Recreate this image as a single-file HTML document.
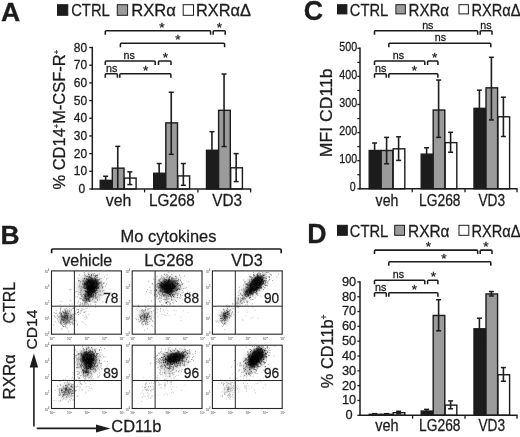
<!DOCTYPE html>
<html lang="en">
<head>
<meta charset="utf-8">
<title>Figure</title>
<style>
html,body{margin:0;padding:0;background:#fff;}
body{width:520px;height:437px;overflow:hidden;}
svg{display:block;font-family:"Liberation Sans",Arial,Helvetica,sans-serif;}
text{stroke:#1c1c1c;stroke-width:.28px;}
text.tk{fill:#858585;stroke:#858585;stroke-width:.32px;}
</style>
</head>
<body>
<svg width="520" height="437" viewBox="0 0 520 437">
<rect x="0" y="0" width="520" height="437" fill="#ffffff"/>
<text x="1" y="21" font-size="26.6" text-anchor="start" font-weight="bold" fill="#1c1c1c">A</text>
<rect x="57.5" y="4.7" width="10.3" height="10.6" fill="#1c1c1c" stroke="#1c1c1c" stroke-width="1"/>
<text x="71.2" y="15.7" font-size="16.2" text-anchor="start" font-weight="normal" fill="#1c1c1c" textLength="38.6" lengthAdjust="spacingAndGlyphs">CTRL</text>
<rect x="117.3" y="4.7" width="10.3" height="10.6" fill="#9b9b9b" stroke="#1c1c1c" stroke-width="1"/>
<text x="131.2" y="15.7" font-size="16.2" text-anchor="start" font-weight="normal" fill="#1c1c1c" textLength="44.6" lengthAdjust="spacingAndGlyphs">RXR&#945;</text>
<rect x="183.2" y="4.7" width="10.3" height="10.6" fill="#fff" stroke="#1c1c1c" stroke-width="1"/>
<text x="196" y="15.7" font-size="16.2" text-anchor="start" font-weight="normal" fill="#1c1c1c" textLength="55" lengthAdjust="spacingAndGlyphs">RXR&#945;&#916;</text>
<rect x="100.2" y="180.36" width="11.7" height="8.64" fill="#1c1c1c" stroke="#1c1c1c" stroke-width="1.4"/>
<rect x="112.3" y="168.15" width="11.7" height="20.85" fill="#9b9b9b" stroke="#1c1c1c" stroke-width="1.4"/>
<rect x="124.4" y="178.06" width="11.7" height="10.94" fill="#ffffff" stroke="#1c1c1c" stroke-width="1.4"/>
<line x1="105.65" y1="180.16" x2="105.65" y2="176.26" stroke="#1c1c1c" stroke-width="1.6"/>
<line x1="103.15" y1="176.26" x2="108.15" y2="176.26" stroke="#1c1c1c" stroke-width="1.5"/>
<line x1="117.75" y1="189" x2="117.75" y2="146.37" stroke="#1c1c1c" stroke-width="1.6"/>
<line x1="115.25" y1="146.37" x2="120.25" y2="146.37" stroke="#1c1c1c" stroke-width="1.5"/>
<line x1="129.85" y1="184.58" x2="129.85" y2="171.84" stroke="#1c1c1c" stroke-width="1.6"/>
<line x1="127.35" y1="171.84" x2="132.35" y2="171.84" stroke="#1c1c1c" stroke-width="1.5"/>
<line x1="127.35" y1="184.58" x2="132.35" y2="184.58" stroke="#1c1c1c" stroke-width="1.5"/>
<rect x="153.7" y="173.28" width="11.7" height="15.72" fill="#1c1c1c" stroke="#1c1c1c" stroke-width="1.4"/>
<rect x="165.8" y="122.87" width="11.7" height="66.13" fill="#9b9b9b" stroke="#1c1c1c" stroke-width="1.4"/>
<rect x="177.9" y="175.93" width="11.7" height="13.07" fill="#ffffff" stroke="#1c1c1c" stroke-width="1.4"/>
<line x1="159.15" y1="173.08" x2="159.15" y2="163.53" stroke="#1c1c1c" stroke-width="1.6"/>
<line x1="156.65" y1="163.53" x2="161.65" y2="163.53" stroke="#1c1c1c" stroke-width="1.5"/>
<line x1="171.25" y1="154.33" x2="171.25" y2="92.25" stroke="#1c1c1c" stroke-width="1.6"/>
<line x1="168.75" y1="92.25" x2="173.75" y2="92.25" stroke="#1c1c1c" stroke-width="1.5"/>
<line x1="168.75" y1="154.33" x2="173.75" y2="154.33" stroke="#1c1c1c" stroke-width="1.5"/>
<line x1="183.35" y1="185.29" x2="183.35" y2="163.53" stroke="#1c1c1c" stroke-width="1.6"/>
<line x1="180.85" y1="163.53" x2="185.85" y2="163.53" stroke="#1c1c1c" stroke-width="1.5"/>
<line x1="180.85" y1="185.29" x2="185.85" y2="185.29" stroke="#1c1c1c" stroke-width="1.5"/>
<rect x="206.5" y="150.29" width="11.7" height="38.71" fill="#1c1c1c" stroke="#1c1c1c" stroke-width="1.4"/>
<rect x="218.6" y="110.31" width="11.7" height="78.69" fill="#9b9b9b" stroke="#1c1c1c" stroke-width="1.4"/>
<rect x="230.7" y="167.8" width="11.7" height="21.2" fill="#ffffff" stroke="#1c1c1c" stroke-width="1.4"/>
<line x1="211.95" y1="150.09" x2="211.95" y2="131.69" stroke="#1c1c1c" stroke-width="1.6"/>
<line x1="209.45" y1="131.69" x2="214.45" y2="131.69" stroke="#1c1c1c" stroke-width="1.5"/>
<line x1="224.05" y1="146.55" x2="224.05" y2="74.03" stroke="#1c1c1c" stroke-width="1.6"/>
<line x1="221.55" y1="74.03" x2="226.55" y2="74.03" stroke="#1c1c1c" stroke-width="1.5"/>
<line x1="221.55" y1="146.55" x2="226.55" y2="146.55" stroke="#1c1c1c" stroke-width="1.5"/>
<line x1="236.15" y1="181.57" x2="236.15" y2="153.62" stroke="#1c1c1c" stroke-width="1.6"/>
<line x1="233.65" y1="153.62" x2="238.65" y2="153.62" stroke="#1c1c1c" stroke-width="1.5"/>
<line x1="233.65" y1="181.57" x2="238.65" y2="181.57" stroke="#1c1c1c" stroke-width="1.5"/>
<line x1="92.3" y1="46.8" x2="92.3" y2="189.7" stroke="#1c1c1c" stroke-width="1.5"/>
<line x1="91.6" y1="189" x2="251.2" y2="189" stroke="#1c1c1c" stroke-width="1.5"/>
<line x1="144.6" y1="189" x2="144.6" y2="192.4" stroke="#1c1c1c" stroke-width="1.3"/>
<line x1="197.9" y1="189" x2="197.9" y2="192.4" stroke="#1c1c1c" stroke-width="1.3"/>
<line x1="250.6" y1="189" x2="250.6" y2="192.4" stroke="#1c1c1c" stroke-width="1.3"/>
<line x1="89.2" y1="189" x2="92.3" y2="189" stroke="#1c1c1c" stroke-width="1.3"/>
<text x="85.2" y="193.02" font-size="12" text-anchor="end" font-weight="normal" fill="#1c1c1c">0</text>
<line x1="89.2" y1="171.31" x2="92.3" y2="171.31" stroke="#1c1c1c" stroke-width="1.3"/>
<text x="87.2" y="175.33" font-size="12" text-anchor="end" font-weight="normal" fill="#1c1c1c">10</text>
<line x1="89.2" y1="153.62" x2="92.3" y2="153.62" stroke="#1c1c1c" stroke-width="1.3"/>
<text x="87.2" y="157.64" font-size="12" text-anchor="end" font-weight="normal" fill="#1c1c1c">20</text>
<line x1="89.2" y1="135.94" x2="92.3" y2="135.94" stroke="#1c1c1c" stroke-width="1.3"/>
<text x="87.2" y="139.96" font-size="12" text-anchor="end" font-weight="normal" fill="#1c1c1c">30</text>
<line x1="89.2" y1="118.25" x2="92.3" y2="118.25" stroke="#1c1c1c" stroke-width="1.3"/>
<text x="87.2" y="122.27" font-size="12" text-anchor="end" font-weight="normal" fill="#1c1c1c">40</text>
<line x1="89.2" y1="100.56" x2="92.3" y2="100.56" stroke="#1c1c1c" stroke-width="1.3"/>
<text x="87.2" y="104.58" font-size="12" text-anchor="end" font-weight="normal" fill="#1c1c1c">50</text>
<line x1="89.2" y1="82.88" x2="92.3" y2="82.88" stroke="#1c1c1c" stroke-width="1.3"/>
<text x="87.2" y="86.89" font-size="12" text-anchor="end" font-weight="normal" fill="#1c1c1c">60</text>
<line x1="89.2" y1="65.19" x2="92.3" y2="65.19" stroke="#1c1c1c" stroke-width="1.3"/>
<text x="87.2" y="69.21" font-size="12" text-anchor="end" font-weight="normal" fill="#1c1c1c">70</text>
<line x1="89.2" y1="47.5" x2="92.3" y2="47.5" stroke="#1c1c1c" stroke-width="1.3"/>
<text x="87.2" y="51.52" font-size="12" text-anchor="end" font-weight="normal" fill="#1c1c1c">80</text>
<text x="118.6" y="205.8" font-size="17" text-anchor="middle" font-weight="normal" fill="#1c1c1c" textLength="25.6" lengthAdjust="spacingAndGlyphs">veh</text>
<text x="171.9" y="205.8" font-size="16.3" text-anchor="middle" font-weight="normal" fill="#1c1c1c" textLength="46" lengthAdjust="spacingAndGlyphs">LG268</text>
<text x="227.2" y="205.8" font-size="17" text-anchor="middle" font-weight="normal" fill="#1c1c1c" textLength="29.8" lengthAdjust="spacingAndGlyphs">VD3</text>
<text transform="translate(64.7 189.5) rotate(-90)" font-size="17.4" text-anchor="start" fill="#1c1c1c" textLength="139.5" lengthAdjust="spacingAndGlyphs">% CD14<tspan font-size="7.8" dy="-5.6">+</tspan><tspan dy="5.6">M-CSF-R</tspan><tspan font-size="7.8" dy="-5.6">+</tspan></text>
<path d="M105.3 34.7 v-3.1 q0 -0.9 0.9 -0.9 H209.7 q0.9 0 0.9 0.9 v3.1" fill="none" stroke="#1c1c1c" stroke-width="1.55"/>
<text x="162" y="31.8" font-size="13.6" text-anchor="middle" font-weight="normal" fill="#1c1c1c">*</text>
<path d="M213.2 34.7 v-3.1 q0 -0.9 0.9 -0.9 H224.3 q0.9 0 0.9 0.9 v3.1" fill="none" stroke="#1c1c1c" stroke-width="1.55"/>
<text x="219.4" y="31.8" font-size="13.6" text-anchor="middle" font-weight="normal" fill="#1c1c1c">*</text>
<path d="M120.4 47.3 v-3.1 q0 -0.9 0.9 -0.9 H223.7 q0.9 0 0.9 0.9 v3.1" fill="none" stroke="#1c1c1c" stroke-width="1.55"/>
<text x="177.9" y="44.4" font-size="13.6" text-anchor="middle" font-weight="normal" fill="#1c1c1c">*</text>
<path d="M105.3 65 v-3.1 q0 -0.9 0.9 -0.9 H154.3 q0.9 0 0.9 0.9 v3.1" fill="none" stroke="#1c1c1c" stroke-width="1.55"/>
<text x="129.2" y="59.4" font-size="10.7" text-anchor="middle" font-weight="normal" fill="#1c1c1c">ns</text>
<path d="M158.5 65 v-3.1 q0 -0.9 0.9 -0.9 H170.1 q0.9 0 0.9 0.9 v3.1" fill="none" stroke="#1c1c1c" stroke-width="1.55"/>
<text x="165.3" y="62.1" font-size="13.6" text-anchor="middle" font-weight="normal" fill="#1c1c1c">*</text>
<path d="M105.3 77.8 v-3.1 q0 -0.9 0.9 -0.9 H116.5 q0.9 0 0.9 0.9 v3.1" fill="none" stroke="#1c1c1c" stroke-width="1.55"/>
<text x="111.6" y="72.2" font-size="10.7" text-anchor="middle" font-weight="normal" fill="#1c1c1c">ns</text>
<path d="M119.8 77.8 v-3.1 q0 -0.9 0.9 -0.9 H170 q0.9 0 0.9 0.9 v3.1" fill="none" stroke="#1c1c1c" stroke-width="1.55"/>
<text x="145.6" y="74.9" font-size="13.6" text-anchor="middle" font-weight="normal" fill="#1c1c1c">*</text>
<text x="303.7" y="20.4" font-size="26.8" text-anchor="start" font-weight="bold" fill="#1c1c1c">C</text>
<rect x="337.5" y="4.7" width="9.4" height="9.2" fill="#1c1c1c" stroke="#1c1c1c" stroke-width="1"/>
<text x="349.8" y="15.8" font-size="16.8" text-anchor="start" font-weight="normal" fill="#1c1c1c" textLength="38.4" lengthAdjust="spacingAndGlyphs">CTRL</text>
<rect x="395.9" y="4.7" width="9.4" height="9.2" fill="#9b9b9b" stroke="#1c1c1c" stroke-width="1"/>
<text x="408.5" y="15.8" font-size="16.8" text-anchor="start" font-weight="normal" fill="#1c1c1c" textLength="40.6" lengthAdjust="spacingAndGlyphs">RXR&#945;</text>
<rect x="459" y="4.7" width="9.4" height="9.2" fill="#fff" stroke="#1c1c1c" stroke-width="1"/>
<text x="471.5" y="15.8" font-size="16.8" text-anchor="start" font-weight="normal" fill="#1c1c1c" textLength="49" lengthAdjust="spacingAndGlyphs">RXR&#945;&#916;</text>
<rect x="369.2" y="150.5" width="11.6" height="38.3" fill="#1c1c1c" stroke="#1c1c1c" stroke-width="1.4"/>
<rect x="381.2" y="150.5" width="11.6" height="38.3" fill="#9b9b9b" stroke="#1c1c1c" stroke-width="1.4"/>
<rect x="393.2" y="148.82" width="11.6" height="39.98" fill="#ffffff" stroke="#1c1c1c" stroke-width="1.4"/>
<line x1="374.6" y1="150.3" x2="374.6" y2="143" stroke="#1c1c1c" stroke-width="1.6"/>
<line x1="372.1" y1="143" x2="377.1" y2="143" stroke="#1c1c1c" stroke-width="1.5"/>
<line x1="386.6" y1="163.79" x2="386.6" y2="137.38" stroke="#1c1c1c" stroke-width="1.6"/>
<line x1="384.1" y1="137.38" x2="389.1" y2="137.38" stroke="#1c1c1c" stroke-width="1.5"/>
<line x1="384.1" y1="163.79" x2="389.1" y2="163.79" stroke="#1c1c1c" stroke-width="1.5"/>
<line x1="398.6" y1="160.42" x2="398.6" y2="136.81" stroke="#1c1c1c" stroke-width="1.6"/>
<line x1="396.1" y1="136.81" x2="401.1" y2="136.81" stroke="#1c1c1c" stroke-width="1.5"/>
<line x1="396.1" y1="160.42" x2="401.1" y2="160.42" stroke="#1c1c1c" stroke-width="1.5"/>
<rect x="421.2" y="154.16" width="11.6" height="34.64" fill="#1c1c1c" stroke="#1c1c1c" stroke-width="1.4"/>
<rect x="433.2" y="110.04" width="11.6" height="78.76" fill="#9b9b9b" stroke="#1c1c1c" stroke-width="1.4"/>
<rect x="445.2" y="142.63" width="11.6" height="46.17" fill="#ffffff" stroke="#1c1c1c" stroke-width="1.4"/>
<line x1="426.6" y1="153.96" x2="426.6" y2="147.77" stroke="#1c1c1c" stroke-width="1.6"/>
<line x1="424.1" y1="147.77" x2="429.1" y2="147.77" stroke="#1c1c1c" stroke-width="1.5"/>
<line x1="438.6" y1="137.38" x2="438.6" y2="80.05" stroke="#1c1c1c" stroke-width="1.6"/>
<line x1="436.1" y1="80.05" x2="441.1" y2="80.05" stroke="#1c1c1c" stroke-width="1.5"/>
<line x1="436.1" y1="137.38" x2="441.1" y2="137.38" stroke="#1c1c1c" stroke-width="1.5"/>
<line x1="450.6" y1="152.27" x2="450.6" y2="132.32" stroke="#1c1c1c" stroke-width="1.6"/>
<line x1="448.1" y1="132.32" x2="453.1" y2="132.32" stroke="#1c1c1c" stroke-width="1.5"/>
<line x1="448.1" y1="152.27" x2="453.1" y2="152.27" stroke="#1c1c1c" stroke-width="1.5"/>
<rect x="474" y="108.35" width="11.6" height="80.45" fill="#1c1c1c" stroke="#1c1c1c" stroke-width="1.4"/>
<rect x="486" y="87.84" width="11.6" height="100.96" fill="#9b9b9b" stroke="#1c1c1c" stroke-width="1.4"/>
<rect x="498" y="116.78" width="11.6" height="72.02" fill="#ffffff" stroke="#1c1c1c" stroke-width="1.4"/>
<line x1="479.4" y1="108.15" x2="479.4" y2="90.17" stroke="#1c1c1c" stroke-width="1.6"/>
<line x1="476.9" y1="90.17" x2="481.9" y2="90.17" stroke="#1c1c1c" stroke-width="1.5"/>
<line x1="491.4" y1="119.95" x2="491.4" y2="57.29" stroke="#1c1c1c" stroke-width="1.6"/>
<line x1="488.9" y1="57.29" x2="493.9" y2="57.29" stroke="#1c1c1c" stroke-width="1.5"/>
<line x1="488.9" y1="119.95" x2="493.9" y2="119.95" stroke="#1c1c1c" stroke-width="1.5"/>
<line x1="503.4" y1="136.53" x2="503.4" y2="97.19" stroke="#1c1c1c" stroke-width="1.6"/>
<line x1="500.9" y1="97.19" x2="505.9" y2="97.19" stroke="#1c1c1c" stroke-width="1.5"/>
<line x1="500.9" y1="136.53" x2="505.9" y2="136.53" stroke="#1c1c1c" stroke-width="1.5"/>
<line x1="360" y1="47.6" x2="360" y2="189.5" stroke="#1c1c1c" stroke-width="1.5"/>
<line x1="359.3" y1="188.8" x2="517.6" y2="188.8" stroke="#1c1c1c" stroke-width="1.5"/>
<line x1="412.2" y1="188.8" x2="412.2" y2="192.2" stroke="#1c1c1c" stroke-width="1.3"/>
<line x1="465" y1="188.8" x2="465" y2="192.2" stroke="#1c1c1c" stroke-width="1.3"/>
<line x1="517" y1="188.8" x2="517" y2="192.2" stroke="#1c1c1c" stroke-width="1.3"/>
<line x1="357.3" y1="188.8" x2="360" y2="188.8" stroke="#1c1c1c" stroke-width="1.3"/>
<text x="355.6" y="191.19" font-size="12.2" text-anchor="end" font-weight="normal" fill="#1c1c1c" textLength="5.95" lengthAdjust="spacingAndGlyphs">0</text>
<line x1="357.3" y1="160.7" x2="360" y2="160.7" stroke="#1c1c1c" stroke-width="1.3"/>
<text x="357.1" y="163.09" font-size="12.2" text-anchor="end" font-weight="normal" fill="#1c1c1c" textLength="17.85" lengthAdjust="spacingAndGlyphs">100</text>
<line x1="357.3" y1="132.6" x2="360" y2="132.6" stroke="#1c1c1c" stroke-width="1.3"/>
<text x="357.1" y="134.99" font-size="12.2" text-anchor="end" font-weight="normal" fill="#1c1c1c" textLength="17.85" lengthAdjust="spacingAndGlyphs">200</text>
<line x1="357.3" y1="104.5" x2="360" y2="104.5" stroke="#1c1c1c" stroke-width="1.3"/>
<text x="357.1" y="106.89" font-size="12.2" text-anchor="end" font-weight="normal" fill="#1c1c1c" textLength="17.85" lengthAdjust="spacingAndGlyphs">300</text>
<line x1="357.3" y1="76.4" x2="360" y2="76.4" stroke="#1c1c1c" stroke-width="1.3"/>
<text x="357.1" y="78.79" font-size="12.2" text-anchor="end" font-weight="normal" fill="#1c1c1c" textLength="17.85" lengthAdjust="spacingAndGlyphs">400</text>
<line x1="357.3" y1="48.3" x2="360" y2="48.3" stroke="#1c1c1c" stroke-width="1.3"/>
<text x="357.1" y="50.69" font-size="12.2" text-anchor="end" font-weight="normal" fill="#1c1c1c" textLength="17.85" lengthAdjust="spacingAndGlyphs">500</text>
<line x1="357.3" y1="174.75" x2="360" y2="174.75" stroke="#1c1c1c" stroke-width="1.2"/>
<line x1="357.3" y1="146.65" x2="360" y2="146.65" stroke="#1c1c1c" stroke-width="1.2"/>
<line x1="357.3" y1="118.55" x2="360" y2="118.55" stroke="#1c1c1c" stroke-width="1.2"/>
<line x1="357.3" y1="90.45" x2="360" y2="90.45" stroke="#1c1c1c" stroke-width="1.2"/>
<line x1="357.3" y1="62.35" x2="360" y2="62.35" stroke="#1c1c1c" stroke-width="1.2"/>
<text x="387" y="205.6" font-size="15.8" text-anchor="middle" font-weight="normal" fill="#1c1c1c" textLength="22.8" lengthAdjust="spacingAndGlyphs">veh</text>
<text x="439.8" y="205.6" font-size="15.8" text-anchor="middle" font-weight="normal" fill="#1c1c1c" textLength="41.4" lengthAdjust="spacingAndGlyphs">LG268</text>
<text x="491.8" y="205.6" font-size="15.8" text-anchor="middle" font-weight="normal" fill="#1c1c1c" textLength="26.6" lengthAdjust="spacingAndGlyphs">VD3</text>
<text transform="translate(331.9 157.3) rotate(-90)" font-size="17" text-anchor="start" fill="#1c1c1c" textLength="88.8" lengthAdjust="spacingAndGlyphs">MFI CD11b</text>
<path d="M374.5 34.7 v-3.1 q0 -0.9 0.9 -0.9 H476.8 q0.9 0 0.9 0.9 v3.1" fill="none" stroke="#1c1c1c" stroke-width="1.55"/>
<text x="427.8" y="28.7" font-size="10.7" text-anchor="middle" font-weight="normal" fill="#1c1c1c">ns</text>
<path d="M480.2 34.7 v-3.1 q0 -0.9 0.9 -0.9 H491.1 q0.9 0 0.9 0.9 v3.1" fill="none" stroke="#1c1c1c" stroke-width="1.55"/>
<text x="486" y="28.7" font-size="10.7" text-anchor="middle" font-weight="normal" fill="#1c1c1c">ns</text>
<path d="M388.8 47.3 v-3.1 q0 -0.9 0.9 -0.9 H489.9 q0.9 0 0.9 0.9 v3.1" fill="none" stroke="#1c1c1c" stroke-width="1.55"/>
<text x="440.4" y="41.2" font-size="10.7" text-anchor="middle" font-weight="normal" fill="#1c1c1c">ns</text>
<path d="M374.5 65 v-3.1 q0 -0.9 0.9 -0.9 H423.9 q0.9 0 0.9 0.9 v3.1" fill="none" stroke="#1c1c1c" stroke-width="1.55"/>
<text x="398.4" y="59.2" font-size="10.7" text-anchor="middle" font-weight="normal" fill="#1c1c1c">ns</text>
<path d="M427.6 65 v-3.1 q0 -0.9 0.9 -0.9 H437 q0.9 0 0.9 0.9 v3.1" fill="none" stroke="#1c1c1c" stroke-width="1.55"/>
<text x="434.6" y="61.9" font-size="13.6" text-anchor="middle" font-weight="normal" fill="#1c1c1c">*</text>
<path d="M374.5 77.7 v-3.1 q0 -0.9 0.9 -0.9 H385.4 q0.9 0 0.9 0.9 v3.1" fill="none" stroke="#1c1c1c" stroke-width="1.55"/>
<text x="380.6" y="72" font-size="10.7" text-anchor="middle" font-weight="normal" fill="#1c1c1c">ns</text>
<path d="M388.8 77.7 v-3.1 q0 -0.9 0.9 -0.9 H437 q0.9 0 0.9 0.9 v3.1" fill="none" stroke="#1c1c1c" stroke-width="1.55"/>
<text x="414.4" y="74.8" font-size="13.6" text-anchor="middle" font-weight="normal" fill="#1c1c1c">*</text>
<text x="307.2" y="243.4" font-size="26.8" text-anchor="start" font-weight="bold" fill="#1c1c1c">D</text>
<rect x="337.5" y="225.3" width="9.8" height="10" fill="#1c1c1c" stroke="#1c1c1c" stroke-width="1"/>
<text x="349.8" y="236.5" font-size="16.8" text-anchor="start" font-weight="normal" fill="#1c1c1c" textLength="38.4" lengthAdjust="spacingAndGlyphs">CTRL</text>
<rect x="394.7" y="225.3" width="9.8" height="10" fill="#9b9b9b" stroke="#1c1c1c" stroke-width="1"/>
<text x="408" y="236.5" font-size="16.8" text-anchor="start" font-weight="normal" fill="#1c1c1c" textLength="41.5" lengthAdjust="spacingAndGlyphs">RXR&#945;</text>
<rect x="459" y="225.3" width="9.8" height="10" fill="#fff" stroke="#1c1c1c" stroke-width="1"/>
<text x="471.5" y="236.5" font-size="16.8" text-anchor="start" font-weight="normal" fill="#1c1c1c" textLength="49" lengthAdjust="spacingAndGlyphs">RXR&#945;&#916;</text>
<rect x="369.2" y="414.31" width="11.6" height="0.99" fill="#1c1c1c" stroke="#1c1c1c" stroke-width="1.4"/>
<rect x="381.2" y="414.31" width="11.6" height="0.99" fill="#9b9b9b" stroke="#1c1c1c" stroke-width="1.4"/>
<rect x="393.2" y="412.68" width="11.6" height="2.62" fill="#ffffff" stroke="#1c1c1c" stroke-width="1.4"/>
<line x1="374.6" y1="414.56" x2="374.6" y2="413.67" stroke="#1c1c1c" stroke-width="1.6"/>
<line x1="372.1" y1="413.67" x2="377.1" y2="413.67" stroke="#1c1c1c" stroke-width="1.5"/>
<line x1="372.1" y1="414.56" x2="377.1" y2="414.56" stroke="#1c1c1c" stroke-width="1.5"/>
<line x1="386.6" y1="414.56" x2="386.6" y2="413.67" stroke="#1c1c1c" stroke-width="1.6"/>
<line x1="384.1" y1="413.67" x2="389.1" y2="413.67" stroke="#1c1c1c" stroke-width="1.5"/>
<line x1="384.1" y1="414.56" x2="389.1" y2="414.56" stroke="#1c1c1c" stroke-width="1.5"/>
<line x1="398.6" y1="413.82" x2="398.6" y2="411.3" stroke="#1c1c1c" stroke-width="1.6"/>
<line x1="396.1" y1="411.3" x2="401.1" y2="411.3" stroke="#1c1c1c" stroke-width="1.5"/>
<line x1="396.1" y1="413.82" x2="401.1" y2="413.82" stroke="#1c1c1c" stroke-width="1.5"/>
<rect x="421.2" y="411.05" width="11.6" height="4.25" fill="#1c1c1c" stroke="#1c1c1c" stroke-width="1.4"/>
<rect x="433.2" y="315.45" width="11.6" height="99.85" fill="#9b9b9b" stroke="#1c1c1c" stroke-width="1.4"/>
<rect x="445.2" y="405.12" width="11.6" height="10.18" fill="#ffffff" stroke="#1c1c1c" stroke-width="1.4"/>
<line x1="426.6" y1="412.34" x2="426.6" y2="409.37" stroke="#1c1c1c" stroke-width="1.6"/>
<line x1="424.1" y1="409.37" x2="429.1" y2="409.37" stroke="#1c1c1c" stroke-width="1.5"/>
<line x1="424.1" y1="412.34" x2="429.1" y2="412.34" stroke="#1c1c1c" stroke-width="1.5"/>
<line x1="438.6" y1="330.81" x2="438.6" y2="299.69" stroke="#1c1c1c" stroke-width="1.6"/>
<line x1="436.1" y1="299.69" x2="441.1" y2="299.69" stroke="#1c1c1c" stroke-width="1.5"/>
<line x1="436.1" y1="330.81" x2="441.1" y2="330.81" stroke="#1c1c1c" stroke-width="1.5"/>
<line x1="450.6" y1="408.78" x2="450.6" y2="400.92" stroke="#1c1c1c" stroke-width="1.6"/>
<line x1="448.1" y1="400.92" x2="453.1" y2="400.92" stroke="#1c1c1c" stroke-width="1.5"/>
<line x1="448.1" y1="408.78" x2="453.1" y2="408.78" stroke="#1c1c1c" stroke-width="1.5"/>
<rect x="474" y="328.79" width="11.6" height="86.51" fill="#1c1c1c" stroke="#1c1c1c" stroke-width="1.4"/>
<rect x="486" y="293.96" width="11.6" height="121.34" fill="#9b9b9b" stroke="#1c1c1c" stroke-width="1.4"/>
<rect x="498" y="374.74" width="11.6" height="40.56" fill="#ffffff" stroke="#1c1c1c" stroke-width="1.4"/>
<line x1="479.4" y1="338.97" x2="479.4" y2="318.21" stroke="#1c1c1c" stroke-width="1.6"/>
<line x1="476.9" y1="318.21" x2="481.9" y2="318.21" stroke="#1c1c1c" stroke-width="1.5"/>
<line x1="476.9" y1="338.97" x2="481.9" y2="338.97" stroke="#1c1c1c" stroke-width="1.5"/>
<line x1="491.4" y1="295.98" x2="491.4" y2="291.53" stroke="#1c1c1c" stroke-width="1.6"/>
<line x1="488.9" y1="291.53" x2="493.9" y2="291.53" stroke="#1c1c1c" stroke-width="1.5"/>
<line x1="488.9" y1="295.98" x2="493.9" y2="295.98" stroke="#1c1c1c" stroke-width="1.5"/>
<line x1="503.4" y1="381.21" x2="503.4" y2="367.57" stroke="#1c1c1c" stroke-width="1.6"/>
<line x1="500.9" y1="367.57" x2="505.9" y2="367.57" stroke="#1c1c1c" stroke-width="1.5"/>
<line x1="500.9" y1="381.21" x2="505.9" y2="381.21" stroke="#1c1c1c" stroke-width="1.5"/>
<line x1="360" y1="281.2" x2="360" y2="416" stroke="#1c1c1c" stroke-width="1.5"/>
<line x1="359.3" y1="415.3" x2="517.6" y2="415.3" stroke="#1c1c1c" stroke-width="1.5"/>
<line x1="412.6" y1="415.3" x2="412.6" y2="418.7" stroke="#1c1c1c" stroke-width="1.3"/>
<line x1="465" y1="415.3" x2="465" y2="418.7" stroke="#1c1c1c" stroke-width="1.3"/>
<line x1="517" y1="415.3" x2="517" y2="418.7" stroke="#1c1c1c" stroke-width="1.3"/>
<line x1="357.4" y1="415.3" x2="360" y2="415.3" stroke="#1c1c1c" stroke-width="1.3"/>
<text x="352.6" y="419.21" font-size="12.8" text-anchor="end" font-weight="normal" fill="#1c1c1c">0</text>
<line x1="357.4" y1="400.48" x2="360" y2="400.48" stroke="#1c1c1c" stroke-width="1.3"/>
<text x="356.2" y="404.39" font-size="12.8" text-anchor="end" font-weight="normal" fill="#1c1c1c">10</text>
<line x1="357.4" y1="385.66" x2="360" y2="385.66" stroke="#1c1c1c" stroke-width="1.3"/>
<text x="356.2" y="389.56" font-size="12.8" text-anchor="end" font-weight="normal" fill="#1c1c1c">20</text>
<line x1="357.4" y1="370.83" x2="360" y2="370.83" stroke="#1c1c1c" stroke-width="1.3"/>
<text x="356.2" y="374.74" font-size="12.8" text-anchor="end" font-weight="normal" fill="#1c1c1c">30</text>
<line x1="357.4" y1="356.01" x2="360" y2="356.01" stroke="#1c1c1c" stroke-width="1.3"/>
<text x="356.2" y="359.92" font-size="12.8" text-anchor="end" font-weight="normal" fill="#1c1c1c">40</text>
<line x1="357.4" y1="341.19" x2="360" y2="341.19" stroke="#1c1c1c" stroke-width="1.3"/>
<text x="356.2" y="345.1" font-size="12.8" text-anchor="end" font-weight="normal" fill="#1c1c1c">50</text>
<line x1="357.4" y1="326.37" x2="360" y2="326.37" stroke="#1c1c1c" stroke-width="1.3"/>
<text x="356.2" y="330.27" font-size="12.8" text-anchor="end" font-weight="normal" fill="#1c1c1c">60</text>
<line x1="357.4" y1="311.54" x2="360" y2="311.54" stroke="#1c1c1c" stroke-width="1.3"/>
<text x="356.2" y="315.45" font-size="12.8" text-anchor="end" font-weight="normal" fill="#1c1c1c">70</text>
<line x1="357.4" y1="296.72" x2="360" y2="296.72" stroke="#1c1c1c" stroke-width="1.3"/>
<text x="356.2" y="300.63" font-size="12.8" text-anchor="end" font-weight="normal" fill="#1c1c1c">80</text>
<line x1="357.4" y1="281.9" x2="360" y2="281.9" stroke="#1c1c1c" stroke-width="1.3"/>
<text x="356.2" y="285.81" font-size="12.8" text-anchor="end" font-weight="normal" fill="#1c1c1c">90</text>
<text x="387" y="431.2" font-size="15.8" text-anchor="middle" font-weight="normal" fill="#1c1c1c" textLength="23.4" lengthAdjust="spacingAndGlyphs">veh</text>
<text x="439.8" y="431.2" font-size="15.8" text-anchor="middle" font-weight="normal" fill="#1c1c1c" textLength="41.4" lengthAdjust="spacingAndGlyphs">LG268</text>
<text x="491.8" y="431.2" font-size="15.8" text-anchor="middle" font-weight="normal" fill="#1c1c1c" textLength="26.6" lengthAdjust="spacingAndGlyphs">VD3</text>
<text transform="translate(333.3 388.2) rotate(-90)" font-size="17.2" text-anchor="start" fill="#1c1c1c" textLength="73.8" lengthAdjust="spacingAndGlyphs">% CD11b<tspan font-size="9" dy="-6.2">+</tspan></text>
<path d="M374.5 254.1 v-3.1 q0 -0.9 0.9 -0.9 H476.8 q0.9 0 0.9 0.9 v3.1" fill="none" stroke="#1c1c1c" stroke-width="1.55"/>
<text x="428.4" y="251.2" font-size="13.6" text-anchor="middle" font-weight="normal" fill="#1c1c1c">*</text>
<path d="M480.2 254.1 v-3.1 q0 -0.9 0.9 -0.9 H491.1 q0.9 0 0.9 0.9 v3.1" fill="none" stroke="#1c1c1c" stroke-width="1.55"/>
<text x="486" y="251.2" font-size="13.6" text-anchor="middle" font-weight="normal" fill="#1c1c1c">*</text>
<path d="M388.8 265.8 v-3.1 q0 -0.9 0.9 -0.9 H489.9 q0.9 0 0.9 0.9 v3.1" fill="none" stroke="#1c1c1c" stroke-width="1.55"/>
<text x="444" y="262.9" font-size="13.6" text-anchor="middle" font-weight="normal" fill="#1c1c1c">*</text>
<path d="M374.5 284.2 v-3.1 q0 -0.9 0.9 -0.9 H423.9 q0.9 0 0.9 0.9 v3.1" fill="none" stroke="#1c1c1c" stroke-width="1.55"/>
<text x="398.4" y="278.3" font-size="10.7" text-anchor="middle" font-weight="normal" fill="#1c1c1c">ns</text>
<path d="M427.6 284.2 v-3.1 q0 -0.9 0.9 -0.9 H437 q0.9 0 0.9 0.9 v3.1" fill="none" stroke="#1c1c1c" stroke-width="1.55"/>
<text x="433.5" y="281.1" font-size="13.6" text-anchor="middle" font-weight="normal" fill="#1c1c1c">*</text>
<path d="M374.5 296.7 v-3.1 q0 -0.9 0.9 -0.9 H385.4 q0.9 0 0.9 0.9 v3.1" fill="none" stroke="#1c1c1c" stroke-width="1.55"/>
<text x="380.6" y="291.2" font-size="10.7" text-anchor="middle" font-weight="normal" fill="#1c1c1c">ns</text>
<path d="M388.8 296.7 v-3.1 q0 -0.9 0.9 -0.9 H437 q0.9 0 0.9 0.9 v3.1" fill="none" stroke="#1c1c1c" stroke-width="1.55"/>
<text x="414.4" y="293.8" font-size="13.6" text-anchor="middle" font-weight="normal" fill="#1c1c1c">*</text>
<text x="0.5" y="243.8" font-size="26.4" text-anchor="start" font-weight="bold" fill="#1c1c1c">B</text>
<text x="120.6" y="242.2" font-size="16.8" text-anchor="start" font-weight="normal" fill="#1c1c1c" textLength="95.8" lengthAdjust="spacingAndGlyphs">Mo cytokines</text>
<path d="M51.6 253.2 V250.2 Q51.6 249 52.8 249 H280.0 Q281.2 249 281.2 250.2 V253.2" fill="none" stroke="#1c1c1c" stroke-width="1.7"/>
<text x="87.2" y="265.9" font-size="16.6" text-anchor="middle" font-weight="normal" fill="#1c1c1c" textLength="50" lengthAdjust="spacingAndGlyphs">vehicle</text>
<text x="169" y="265.9" font-size="16.8" text-anchor="middle" font-weight="normal" fill="#1c1c1c" textLength="49.6" lengthAdjust="spacingAndGlyphs">LG268</text>
<text x="247" y="265.9" font-size="16.8" text-anchor="middle" font-weight="normal" fill="#1c1c1c" textLength="31.5" lengthAdjust="spacingAndGlyphs">VD3</text>
<text transform="translate(15 323.4) rotate(-90)" font-size="17.4" text-anchor="start" fill="#1c1c1c" textLength="41.6" lengthAdjust="spacingAndGlyphs">CTRL</text>
<text transform="translate(15.1 399.4) rotate(-90)" font-size="17.4" text-anchor="start" fill="#1c1c1c" textLength="45.2" lengthAdjust="spacingAndGlyphs">RXR&#945;</text>
<text transform="translate(37.3 349.5) rotate(-90)" font-size="15" text-anchor="start" fill="#1c1c1c" textLength="39.8" lengthAdjust="spacingAndGlyphs">CD14</text>
<text x="111.3" y="431.5" font-size="16.4" text-anchor="start" font-weight="normal" fill="#1c1c1c" textLength="50" lengthAdjust="spacingAndGlyphs">CD11b</text>
<line x1="33.9" y1="426.6" x2="33.9" y2="366" stroke="#1c1c1c" stroke-width="1.6"/>
<path d="M33.9 353.6 L38.1 367.6 L29.7 367.6 Z" fill="#1c1c1c"/>
<line x1="36.8" y1="428.4" x2="97.5" y2="428.4" stroke="#1c1c1c" stroke-width="1.6"/>
<path d="M110.4 428.4 L96.0 424.4 L96.0 432.4 Z" fill="#1c1c1c"/>
<defs><filter id="b1" x="-30%" y="-30%" width="160%" height="160%"><feGaussianBlur stdDeviation="1.1"/></filter><filter id="b2" x="-40%" y="-40%" width="180%" height="180%"><feGaussianBlur stdDeviation="2.4"/></filter></defs>
<clipPath id="cp1"><rect x="51.5" y="270.9" width="69.9" height="63.3"/></clipPath>
<g clip-path="url(#cp1)">
<ellipse cx="0" cy="0" rx="12.5" ry="13.5" transform="translate(90.5 287.9) rotate(0)" fill="#000" fill-opacity="0.22" filter="url(#b2)"/>
<ellipse cx="0" cy="0" rx="6.6" ry="6.6" transform="translate(65.5 317.3) rotate(0)" fill="#000" fill-opacity="0.3" filter="url(#b2)"/>
<ellipse cx="0" cy="0" rx="2.6" ry="2.8" transform="translate(65.5 317.1) rotate(0)" fill="#000" fill-opacity="0.45" filter="url(#b1)"/>
<ellipse cx="0" cy="0" rx="7.2" ry="6.4" transform="translate(91.5 284.3) rotate(0)" fill="#000" fill-opacity="0.76" filter="url(#b1)"/>
<ellipse cx="0" cy="0" rx="4.2" ry="6" transform="translate(90.5 290.9) rotate(15)" fill="#000" fill-opacity="0.72" filter="url(#b1)"/>
<ellipse cx="0" cy="0" rx="2.6" ry="4.6" transform="translate(86.7 297.9) rotate(25)" fill="#000" fill-opacity="0.44" filter="url(#b1)"/>
<path d="M86 285.75h0.85M96 282.25h0.85M85.5 284h0.85M93.75 288.75h0.85M86 279.25h0.85M94.75 286.25h0.85M98.25 288.25h0.85M91 283.25h0.85M103 283.25h0.85M88 279.75h0.85M92 285h0.85M90 284h0.85M92.75 287h0.85M96.5 285.25h0.85M83.5 287h0.85M85.25 283.5h0.85M85 284.25h0.85M88 285.25h0.85M106.25 284h0.85M95.25 279h0.85M90.25 287h0.85M91 285.75h0.85M92 280.25h0.85M94 281h0.85M99.75 282.25h0.85M94.5 284.25h0.85M95.75 282h0.85M96 283.75h0.85M97.25 286.75h0.85M92.25 281.25h0.85M95 286.25h0.85M98.75 282.75h0.85M94 286.25h0.85M92.75 285.25h0.85M92.25 282h0.85M87 282.75h0.85M94.25 290.25h0.85M95.75 288.5h0.85M95 287h0.85M92.25 287.25h0.85M99.5 283h0.85M88.5 292h0.85M92.5 288.25h0.85M95.5 279.75h0.85M102.25 291.25h0.85M92.25 287.25h0.85M92 280.75h0.85M91 285.75h0.85M96.5 287h0.85M91.75 289.75h0.85M88 287.5h0.85M96.5 283.25h0.85M83.5 280.75h0.85M92.5 286.5h0.85M98.5 280.25h0.85M91.5 286.75h0.85M90.75 275h0.85M95 293.5h0.85M96 280.75h0.85M89.75 285.25h0.85M102.5 286.75h0.85M92 290.5h0.85M91.25 291.75h0.85M88.5 282.5h0.85M94.75 290h0.85M94.5 285.5h0.85M83.25 281.5h0.85M88.75 282.25h0.85M94 283h0.85M95 284.75h0.85M90 284.75h0.85M93.5 287.75h0.85M89.25 283.5h0.85M85.5 290.75h0.85M98 283.5h0.85M89.25 279.5h0.85M92.25 285h0.85M101.25 285.25h0.85M88 274.5h0.85M97.75 285h0.85M84.25 285h0.85M84.25 298h0.85M96.5 286.5h0.85M90.75 275.75h0.85M91 278.25h0.85M94.25 275.75h0.85M87.5 289.25h0.85M98.75 279.5h0.85M84.75 287.75h0.85M95.25 280.5h0.85M88.5 281.5h0.85M86.25 281.5h0.85M97 287h0.85M100.75 284h0.85M91 280.5h0.85M91 279h0.85M83.5 287h0.85M98 287.5h0.85M97.5 285.25h0.85M88.25 284.75h0.85M89.75 280h0.85M84 278.5h0.85M91.5 285h0.85M89.5 290h0.85M92.25 286.5h0.85M97 281h0.85M82.75 287.25h0.85M88.5 289.5h0.85M93 288.25h0.85M95 276h0.85M94.75 281.75h0.85M88 282.5h0.85M95 287.75h0.85M96 277.75h0.85M88.75 274.75h0.85M91 286.75h0.85M88 285.25h0.85M92.5 288.25h0.85M87.75 281h0.85M88 291.25h0.85M96.25 283.75h0.85M92.5 284.75h0.85M92.5 283.5h0.85M90 279.25h0.85M88.75 290.75h0.85M94 284.5h0.85M90.5 284.5h0.85M93 281.75h0.85M92.5 285.25h0.85M88.25 281.25h0.85M87 280h0.85M95.5 275h0.85M90.25 282h0.85M88.75 284.75h0.85M96.5 284.5h0.85M90.75 281.75h0.85M91 288h0.85M89.75 279.75h0.85M85.75 280h0.85M85.25 288.75h0.85M93 283.25h0.85M98 281.75h0.85M94.75 287.5h0.85M84.5 278h0.85M87.25 288h0.85M97.25 279.5h0.85M96.25 282.75h0.85M89.75 282h0.85M90 277h0.85M87 279.5h0.85M93.75 292.5h0.85M103.75 283h0.85M83.75 282.75h0.85M87.25 292.25h0.85M94 281.5h0.85M95.75 286.5h0.85M84.25 282.25h0.85M90.5 284.5h0.85M92 283h0.85M92.25 282h0.85M87.5 290.25h0.85M93 286h0.85M84.5 283.75h0.85M95.25 279.25h0.85M96.5 282.75h0.85M93.25 283.75h0.85M92.5 289h0.85M89.75 290.5h0.85M88 280.5h0.85M94.75 280h0.85M89.75 288h0.85M97 277.25h0.85M93.75 291.75h0.85M96.75 283.25h0.85M88.75 283h0.85M86.25 283.25h0.85M90.75 283.75h0.85M96.75 283.5h0.85M85 288.5h0.85M86.75 282.5h0.85M91 283h0.85M87 283.25h0.85M101.25 282h0.85M91 288.75h0.85M94.75 287.25h0.85M95.25 276.5h0.85M87.75 284.75h0.85M93.75 289.5h0.85M93.5 283.25h0.85M91.75 283.5h0.85M92.5 287h0.85M90 281h0.85M87.75 288.75h0.85M97.25 288.25h0.85M95.25 287.5h0.85M91.5 287h0.85M86.75 283.5h0.85M88.25 287.25h0.85M89 283.75h0.85M93.25 289.75h0.85M88 280.5h0.85M95.25 280h0.85M93.5 282h0.85M91 277h0.85M94.75 282.25h0.85M87.5 292.5h0.85M94.75 298.25h0.85M93.25 283h0.85M92 290.75h0.85M91.5 286h0.85M93.75 280.75h0.85M92 282.25h0.85M86 287.75h0.85M94.5 284.5h0.85M87.5 276.25h0.85M93.75 284h0.85M84 284h0.85M84.75 284.25h0.85M92.25 285.75h0.85M92.5 285h0.85M86.5 282.75h0.85M89.25 283.25h0.85M92.75 286.75h0.85M98.75 274h0.85M93.25 283.5h0.85M101.75 288h0.85M84 286h0.85M89.25 288.25h0.85M86.75 284h0.85M91 284h0.85M89 277h0.85M93.5 288.25h0.85M91.25 280.25h0.85M92.5 286.5h0.85M90.75 284.25h0.85M97.75 279.75h0.85M89 276.75h0.85M88.5 281.25h0.85M87.25 281.5h0.85M99.5 283.5h0.85" stroke="#000" stroke-width="0.85" stroke-opacity="0.6" fill="none"/>
<path d="M88 298.75h0.85M92 284.75h0.85M92.5 287.75h0.85M95.75 287.5h0.85M90.5 284.75h0.85M91.75 287.25h0.85M90.75 289.5h0.85M88 294h0.85M92.75 291.75h0.85M89.25 286.5h0.85M89 299.75h0.85M90 287.75h0.85M89.75 286.5h0.85M88.25 289.5h0.85M94 291.75h0.85M90.75 284.75h0.85M91 291h0.85M88.5 286.25h0.85M89.5 294.5h0.85M92 292h0.85M89.5 291.75h0.85M88.5 298.75h0.85M88 288.75h0.85M94 290.75h0.85M94.25 291.75h0.85M91.25 289.75h0.85M88 286.5h0.85M95.5 294.75h0.85M91 294.75h0.85M91 295h0.85M90 290h0.85M93.25 290.25h0.85M87.25 289.25h0.85M88.5 292.75h0.85M89.75 286.5h0.85M88.25 296.25h0.85M90.25 291.5h0.85M90.25 292h0.85M91.5 296.5h0.85M85 294.75h0.85M90.75 289.75h0.85M96.75 292h0.85M94.5 295.75h0.85M87.5 292h0.85M92.5 291h0.85M85 288h0.85M91 286.75h0.85M95.25 291.25h0.85M89.75 289.5h0.85M89.25 287.5h0.85M90.5 292h0.85M89.25 290.25h0.85M86.5 291.75h0.85M88.5 291.25h0.85M88.75 288.5h0.85M92.25 286.75h0.85M96.75 292.5h0.85M91 288.25h0.85M93.25 297h0.85M92.5 286.25h0.85M88.75 292.75h0.85M90.25 286.25h0.85M88.25 287.25h0.85M91.25 288.5h0.85M87.75 301h0.85M96 288.25h0.85M91.25 291.5h0.85M89.25 294.5h0.85M90 289.5h0.85M89.75 290.25h0.85M93 294.5h0.85M87.5 288.5h0.85M87.75 293.25h0.85M90.25 294.25h0.85M92.25 284h0.85M91.5 292h0.85M93 286.5h0.85M91.25 288.5h0.85M88.5 291.75h0.85M92.25 288h0.85M88.5 280.75h0.85M88 294.5h0.85M92.5 282.75h0.85M88 291.75h0.85M93.5 296.25h0.85M91.25 291.75h0.85M88.25 288.5h0.85M90.5 288h0.85M91 289.5h0.85M90 296.25h0.85M92 293h0.85M91.25 285.25h0.85M89.75 292.75h0.85M86.75 294.75h0.85M89.25 292h0.85M91 286.25h0.85M96.75 288h0.85M93.25 289.5h0.85M92 288.25h0.85M88.5 294h0.85M96.25 289.25h0.85M89.5 294.25h0.85M88.25 293h0.85M88 292.5h0.85M90.5 295.5h0.85M92.5 286.75h0.85M93.25 287.5h0.85M91 296.75h0.85M92.5 289.25h0.85M93.25 292.25h0.85M87.75 288.75h0.85M94.25 290.75h0.85M91.25 289.75h0.85M86.75 288h0.85M91.25 292h0.85M92 283h0.85M93 294.25h0.85M91.75 296.25h0.85M90 288.5h0.85M89.75 297.25h0.85M86.5 289h0.85M88.25 292.5h0.85M94.5 290.75h0.85M87.25 290.25h0.85" stroke="#000" stroke-width="0.85" stroke-opacity="0.6" fill="none"/>
<path d="M88.25 293.75h0.85M88.5 297.25h0.85M89.25 295h0.85M90 295h0.85M90.5 294h0.85M89.25 297.75h0.85M84.75 296.25h0.85M88.5 295.5h0.85M85.75 298.25h0.85M90.25 289.75h0.85M85.5 298.75h0.85M86 300.75h0.85M82.5 304h0.85M87.5 299.25h0.85M87.25 301h0.85M87.5 296.25h0.85M87.75 299.75h0.85M85.25 293.75h0.85M87.25 298.5h0.85M86.25 299.75h0.85M85 302h0.85M86.25 296.5h0.85M86.25 300h0.85M86 302.25h0.85M84.5 300.5h0.85M88.75 295.5h0.85M84 303.25h0.85M88.5 297.25h0.85M84 294.25h0.85M85.5 297.5h0.85M89.25 301.5h0.85M88.25 295.75h0.85M85.25 296.5h0.85M82.5 305.25h0.85M86.75 296h0.85M88.25 298.75h0.85" stroke="#000" stroke-width="0.85" stroke-opacity="0.6" fill="none"/>
<path d="M82.75 297.25h0.8M88.5 277.25h0.8M92.5 291h0.8M88.5 292.75h0.8M95.5 280.75h0.8M89.75 296.75h0.8M96.75 298h0.8M102 287.5h0.8M97 275.75h0.8M94.75 290.5h0.8M90 284h0.8M83.5 288.5h0.8M98.5 284.5h0.8M93.75 282.25h0.8M92 279.75h0.8M92.75 285.75h0.8M92.5 282.75h0.8M83.25 285h0.8M97 299.5h0.8M88.5 293.5h0.8M95.25 290.5h0.8M81 289.75h0.8M84.5 296.25h0.8M95.5 292h0.8M74.75 292h0.8M94.75 277.75h0.8M96.5 288h0.8M89.25 282h0.8M84.25 284h0.8M109.75 289h0.8M91.75 282.5h0.8M86.75 283.25h0.8M85 294h0.8M88.75 294h0.8M83.25 294.5h0.8M90.25 292.5h0.8M89.75 280.75h0.8M98 284h0.8M89.5 280.75h0.8M91.75 284.5h0.8M92.25 290h0.8M86.25 276.75h0.8M93.25 294.25h0.8M94.75 278.75h0.8M94.25 290.25h0.8M92.25 290.75h0.8M88.5 289h0.8M96.25 283.5h0.8M81.5 286.5h0.8M91.75 273.5h0.8M86.25 292h0.8M89.5 288h0.8M82.75 294.25h0.8M101.5 286h0.8M86 278.5h0.8M96 288.25h0.8M85.5 296.5h0.8M95.25 292h0.8M79.5 286.5h0.8M94.5 278h0.8M96.25 298.25h0.8M97 282h0.8M86 294.5h0.8M96.75 296.75h0.8M98 286.75h0.8M88 273.25h0.8M95.25 304.75h0.8M87.75 283.75h0.8M94.5 290.25h0.8M82 282h0.8M83.75 302.75h0.8M86 294h0.8M102.5 301.75h0.8M99.25 299.75h0.8M82.75 284.75h0.8M86 285.25h0.8M106.75 274.75h0.8M94 278h0.8M98.75 297.25h0.8M87.25 303.25h0.8M91 297.25h0.8M92.5 283.25h0.8M88.25 286.5h0.8M94.25 288.25h0.8M105.25 286h0.8M87.5 282h0.8M85.75 276.5h0.8M84.5 294.25h0.8M90.75 286h0.8M92.75 295.5h0.8M94.25 293.25h0.8M87 285.5h0.8M85.75 286.75h0.8M85.5 284.5h0.8M89.5 285.75h0.8M88.75 283.75h0.8M98.5 284.75h0.8M84.25 288.75h0.8M83.75 279.25h0.8M91 274.75h0.8M70.5 289.5h0.8M97 274.75h0.8M85 291.75h0.8M78.25 280.75h0.8M83 286h0.8M78.25 294.25h0.8M89.5 289.75h0.8M89.5 277.25h0.8M90.5 281h0.8M88.5 285.75h0.8M95.25 293.25h0.8M84.25 287.25h0.8M99.5 291.25h0.8M86 286.5h0.8M88.25 294.5h0.8M90.75 290.25h0.8M104.25 277h0.8M84.25 274.25h0.8M80.5 294h0.8M92.25 299.75h0.8M78.25 280.75h0.8M99.5 295.25h0.8M96 294h0.8M90.75 287.25h0.8M90.75 293.75h0.8M89.5 289.75h0.8M99.5 278.75h0.8M85.75 291.75h0.8M88.75 286.25h0.8M103.5 290.5h0.8M88 295.75h0.8M106 279h0.8M86.25 288.25h0.8M86.5 304h0.8M93.75 284.25h0.8M93.5 281.25h0.8M86.75 288.25h0.8M93 297.75h0.8M95 302h0.8M93.25 288.5h0.8M89.75 281h0.8M100.75 278.5h0.8M89.75 283.5h0.8M88.25 288.5h0.8M91.5 293.75h0.8M89.5 282.5h0.8M92.5 292.5h0.8M85 275.75h0.8M84.25 295.5h0.8M96.75 280.75h0.8M91.25 293.75h0.8M98.75 282.5h0.8M89 298h0.8M105.5 299h0.8M83.5 290.75h0.8M88.75 287h0.8M86.5 283.75h0.8M90.5 301h0.8M94.75 290.75h0.8M90.75 281.75h0.8M89 296.75h0.8M95.75 302.25h0.8M92 287.25h0.8M80.5 290.5h0.8M79.75 299h0.8M86.5 287.5h0.8M82 283.75h0.8M84.75 296h0.8M92 278.5h0.8M78.5 287h0.8M87.5 279h0.8M94.25 286h0.8M91.25 283h0.8M87 284h0.8M80.5 292.25h0.8M93 274.25h0.8M91.25 296.25h0.8M92 297.25h0.8M88.75 287.5h0.8M82.5 280.5h0.8M79.25 280.5h0.8M92 291.25h0.8M97.75 288.5h0.8M84.25 290.75h0.8M89.5 301h0.8M102.75 294.75h0.8M83.5 283.5h0.8M91.75 282h0.8M93.75 292.5h0.8M95.75 289.25h0.8M85 281h0.8M89.75 297.5h0.8M100.25 294.75h0.8M92.75 292.5h0.8M95.5 297.25h0.8M95.75 275.75h0.8M96.5 290.25h0.8M87.75 291.5h0.8M92.25 287h0.8M80 288.25h0.8M94 287h0.8M80.75 291h0.8M95 288.75h0.8M93.25 284.75h0.8M86.5 291.5h0.8M88.25 288.75h0.8M110.75 292.75h0.8M91.25 275h0.8M91 293.25h0.8M86.25 285.5h0.8M76.5 291.5h0.8M86.75 292.5h0.8M99 286.25h0.8M96.5 289.25h0.8M89.25 285.25h0.8M85.25 297.25h0.8M96 279.75h0.8M95.75 281.75h0.8M81.25 296.5h0.8M82.5 296.5h0.8M91.75 294.25h0.8M93.75 296.25h0.8M92.75 291.75h0.8M92 295.75h0.8M88 295h0.8M99.75 287h0.8M93.25 283.5h0.8M88.75 289.5h0.8M88.5 280.75h0.8M90.25 288.75h0.8M92.5 292.75h0.8M79.5 298.25h0.8M89.5 281.5h0.8M88.25 290.75h0.8M96 284.5h0.8M91.5 275.25h0.8M91.5 286.5h0.8M87.75 294.25h0.8M101.5 295.25h0.8M85.75 299h0.8M88.5 287h0.8M87 290.75h0.8M94 288.5h0.8M89.25 286.25h0.8M88 294.75h0.8M87.25 286.25h0.8M89.25 281.75h0.8M89 276.25h0.8M93 291.5h0.8M88.75 299.25h0.8M85.5 291.5h0.8M93.5 283.25h0.8M89 294.25h0.8M91 289.5h0.8M99.25 289h0.8M80.25 281.75h0.8M95.75 286.5h0.8M83.75 272.5h0.8M92.5 298.75h0.8M93.5 283.25h0.8M88.75 285h0.8M85 290.75h0.8M96.25 290.25h0.8M87 295.25h0.8M89.75 291.75h0.8M84.75 292.25h0.8M95 297.25h0.8M90.75 290.75h0.8M87 294h0.8M95.25 295.5h0.8M88.25 278.25h0.8M90 285.75h0.8M86 292h0.8M96.25 290.5h0.8M97.25 290.5h0.8M84.5 283h0.8M88.25 292.5h0.8M96.25 288.5h0.8M96.75 281.25h0.8M89.75 298.75h0.8M93.25 295.25h0.8M79 275h0.8M85.25 295h0.8M100.5 282.75h0.8M84.5 279.75h0.8M85 291.5h0.8M88.5 301.5h0.8M95 282.25h0.8M92 286.25h0.8M95.25 294.25h0.8M88.5 294h0.8M94 286.75h0.8M92 292.5h0.8M88.5 282.25h0.8M98.25 287.5h0.8M87 291h0.8M81.5 287.75h0.8M82.25 284.25h0.8M79.75 282h0.8M96 286h0.8M83 300.5h0.8M86.75 298.5h0.8M87.25 276.5h0.8M101.75 284.25h0.8M95.25 296.25h0.8M82.5 288h0.8M87 292h0.8M90.5 278h0.8M91 293.25h0.8M88.75 291.75h0.8M87.25 287h0.8M92.75 288.5h0.8M98.25 294.5h0.8M95.75 292.75h0.8M91.5 278.75h0.8M97 300.5h0.8M92 285.5h0.8M90.25 296.5h0.8M92.25 280.25h0.8M89.5 281.75h0.8M89.25 280.75h0.8M85.25 298.5h0.8M97 275.5h0.8M84.5 284.25h0.8M88.25 277.25h0.8M96 275.5h0.8M94.75 292.75h0.8M88.25 282.5h0.8M91 288.5h0.8M77.75 278.25h0.8M93.75 286.75h0.8M88 280h0.8M86.25 281.75h0.8M107.5 278.25h0.8M99.75 291h0.8M91.75 289h0.8M88.25 299.5h0.8M93.75 287.25h0.8M89.75 289h0.8M83.75 285h0.8M86.75 292h0.8M94.25 273.5h0.8M89.25 294.75h0.8M82.75 278.75h0.8M96.5 286.5h0.8M87.75 278.5h0.8M91.5 283.25h0.8M91.75 290.5h0.8M94.75 285h0.8M87.25 287.75h0.8M90 288.75h0.8M87.25 285.75h0.8M87 283h0.8M91.5 296h0.8M87.25 291.75h0.8M92.75 288.25h0.8M94.75 283.25h0.8M94 289.75h0.8M69.5 290h0.8M94.25 302h0.8M84 288.25h0.8M92.75 280.25h0.8M97.75 290.75h0.8M85.75 278.5h0.8M88 305h0.8M79.5 292.5h0.8M90 282.75h0.8M94.25 288.25h0.8M92.25 289.5h0.8M84 297.25h0.8M87.75 296h0.8M94.75 287.75h0.8M91.5 287h0.8M79.25 285h0.8M93.25 275.5h0.8M81.5 295.5h0.8M95.5 276h0.8M93.25 287h0.8M96.5 285h0.8M89.25 281.75h0.8M91.75 286.5h0.8M86.5 284.75h0.8M86 292h0.8M84.25 275.75h0.8M84.75 295.5h0.8M87.5 292.25h0.8M95 283.75h0.8M95.25 291.25h0.8M90.25 282.25h0.8M90.25 277.75h0.8M88.75 283h0.8M93.25 290h0.8M86.5 294h0.8M97.75 288h0.8" stroke="#000" stroke-width="0.8" stroke-opacity="0.5" fill="none"/>
<path d="M78.75 304.75h0.8M75.5 296.75h0.8M79.5 313.5h0.8M76.25 309h0.8M85.75 316.5h0.8M71.75 304h0.8M80.75 308.75h0.8M83.5 301h0.8M78 310h0.8M86 304.25h0.8M81.75 308.5h0.8M84.5 304.75h0.8M82 299.5h0.8M82.5 300.75h0.8M80.5 294.75h0.8M88.25 300.75h0.8M78 301.25h0.8M84.25 312.25h0.8M83.75 298.75h0.8M83 299h0.8M79.5 305h0.8M80.75 298.5h0.8M81.75 303.25h0.8M81.75 299h0.8M80.5 298.5h0.8M85 304h0.8M70.25 300.5h0.8M84.5 300h0.8M89.25 290.5h0.8M74 305.75h0.8M84.5 317.5h0.8M79.75 302.5h0.8M88.25 300.25h0.8M90.25 304.25h0.8M86.5 299.75h0.8M83.75 304.5h0.8M89 301h0.8M78 311.75h0.8M77.5 303h0.8M85.25 302.75h0.8M78 309.5h0.8M85 308.75h0.8M86.25 299.5h0.8M78.25 311.75h0.8M89.5 300.25h0.8M77 297h0.8M84.5 301.75h0.8M80.5 304.75h0.8M85 306.5h0.8M90.5 300.25h0.8M83 306.75h0.8M74.25 306.25h0.8M80.5 294.5h0.8M88.5 314.75h0.8M80.5 310.5h0.8M89.25 301.25h0.8M80.75 311h0.8M81.75 304h0.8M79 306.25h0.8M82 300.25h0.8" stroke="#000" stroke-width="0.8" stroke-opacity="0.4" fill="none"/>
<path d="M59.75 312.75h0.8M66.5 319.5h0.8M63.75 312.25h0.8M67 319h0.8M71.5 315h0.8M63.5 319.75h0.8M72.5 317h0.8M65 312.75h0.8M63.75 321.75h0.8M69.5 322.75h0.8M58 321.25h0.8M61.25 320.25h0.8M54.5 316.75h0.8M61.5 323.5h0.8M66 323.5h0.8M63.5 326.75h0.8M63.5 326.5h0.8M63.25 312.5h0.8M69.75 315.5h0.8M65.25 310.75h0.8M64 317.75h0.8M62.25 319.25h0.8M54.75 321.75h0.8M63.5 324.5h0.8M64 314.25h0.8M63.5 318.75h0.8M68.25 315h0.8M61.75 319.5h0.8M69.25 308.75h0.8M60.75 314h0.8M73.5 323.25h0.8M69.25 319.75h0.8M60.25 322.75h0.8M63.5 313.5h0.8M74.5 310.25h0.8M72 318.25h0.8M61.25 318.25h0.8M61.5 318.25h0.8M62.5 311.5h0.8M78 314.75h0.8M70 317h0.8M68.75 311.25h0.8M60.75 301.5h0.8M70.25 319.5h0.8M60 321.5h0.8M68.25 331.5h0.8M66.5 321.75h0.8M68.25 321h0.8M65.5 315.25h0.8M68.75 323.25h0.8M60 311.75h0.8M65.25 326h0.8M64.5 309h0.8M69.25 321h0.8M74.5 318.25h0.8M74.75 313.75h0.8M69.75 318h0.8M60 316h0.8M71.75 322.75h0.8M63.75 322.75h0.8M69.75 321.75h0.8M66.75 318.75h0.8M61.75 317h0.8M66 313.75h0.8M64.25 318.25h0.8M66.5 322.5h0.8M60.75 315.5h0.8M66.75 315.5h0.8M67 315h0.8M71 316.25h0.8M60.25 321h0.8M73.25 308h0.8M65 317.75h0.8M70.25 324.5h0.8M64.75 309.75h0.8M68.75 322.25h0.8M67.75 317.75h0.8M61.75 329.25h0.8M60 310h0.8M70 318.75h0.8M68.75 319h0.8M73.25 324.25h0.8M63 322.25h0.8M60 309h0.8M71.25 315.25h0.8M55.5 317.25h0.8M62.5 319.75h0.8M65.25 313.5h0.8M62.25 321h0.8M61.25 318h0.8M61 319.5h0.8M73.75 320h0.8M70.75 319.5h0.8M61 315.75h0.8M65.75 319.5h0.8M62.75 320.25h0.8M62.25 317.75h0.8M65.5 311.75h0.8M70.25 317.5h0.8M66 317.25h0.8M55.75 310.5h0.8M61.25 322.25h0.8M62.75 320.25h0.8M60.75 313.25h0.8M63.25 322.5h0.8M57.75 316.5h0.8M67.5 318h0.8M65.5 321h0.8M66.75 312.5h0.8M68.5 313.5h0.8M64 324.25h0.8M77 324.25h0.8M67.5 313.5h0.8M62 325.5h0.8M67 310.5h0.8M72.75 320.25h0.8M71.75 319.25h0.8M55.5 313.75h0.8M64.75 316.5h0.8M72.5 314h0.8M65 317h0.8M65 312.25h0.8M59.75 304.75h0.8M67 316.25h0.8M66.5 312.25h0.8M65.5 312.5h0.8M60.75 319h0.8M68.5 320.25h0.8M65.25 315.5h0.8M72 323.25h0.8M62.5 312h0.8M67.25 318.75h0.8M61.25 328.25h0.8M55.75 313.25h0.8M66.75 322h0.8M57 315.25h0.8M72.25 324.25h0.8M64.25 317.5h0.8M61.5 319.25h0.8M60.75 307.5h0.8M58.5 317.5h0.8M59.5 322.75h0.8M71.5 322.25h0.8M68.5 322.75h0.8M66.75 321.5h0.8M67.75 321h0.8M60.75 314.25h0.8M61 321.25h0.8M67.75 313.5h0.8M61 314.5h0.8M69.5 316.75h0.8M64.5 314h0.8M65 325h0.8M62.25 315.5h0.8M73.5 320.75h0.8M60.25 322.5h0.8M59.75 320h0.8M53.75 312.5h0.8M69.75 314.5h0.8M62.25 317.5h0.8M65.5 315h0.8M62.5 326h0.8M72.5 319h0.8M60.25 314.75h0.8M64.25 319.75h0.8M73 314.75h0.8M66.25 315.25h0.8M66.25 314h0.8M67.25 323h0.8M63.75 315.75h0.8M66 311h0.8M74 310.75h0.8M63.75 313h0.8M72.5 315h0.8M63.25 326.5h0.8M65 313.5h0.8M65.5 318.25h0.8M62 316.5h0.8M64.5 320.75h0.8M69 321.25h0.8M65 321.25h0.8M64.5 323h0.8M67.5 315.25h0.8M71.25 310h0.8M61 313.5h0.8M65 311.5h0.8M60 308.25h0.8M66 313.5h0.8M75.75 321h0.8M60.25 323.75h0.8M66 322.5h0.8M60.5 323h0.8M70.5 315.25h0.8M61.5 315.5h0.8M66.75 329h0.8M74 324.5h0.8M64.5 315.75h0.8M67.25 316h0.8M63.25 316.25h0.8M69.5 317h0.8M66.75 316h0.8M64.75 315.75h0.8M71.5 318.5h0.8M72.5 316.5h0.8M70.5 310.75h0.8M63.75 317h0.8M62.5 316.75h0.8M61.25 316.5h0.8M62.5 317.25h0.8M64.25 312.5h0.8M63.75 317.5h0.8M59.75 317.75h0.8M71.25 316.25h0.8M68 320.25h0.8M61.75 323.75h0.8M77.25 312.5h0.8M75.5 314h0.8M72.25 308.5h0.8M70.75 318h0.8M59.5 313.25h0.8M60.75 313h0.8M67.25 316.5h0.8M54 315.75h0.8M67.75 317.75h0.8M73.25 308.5h0.8M66.75 317.5h0.8M68.75 310.75h0.8M59.5 316.5h0.8M66 308.5h0.8M67.25 317.25h0.8M69 304.75h0.8M67.75 313h0.8M63.25 321h0.8M73.25 318h0.8M65 323.75h0.8M61.5 316.5h0.8M63.25 312.5h0.8M66.5 327.25h0.8M66.75 319.75h0.8M65.5 322.75h0.8M66.25 313h0.8M66 324.25h0.8M65.25 323.25h0.8M65.25 327h0.8M66.75 320.5h0.8M64.25 321.25h0.8M64.5 310.25h0.8M67 311.5h0.8M72.5 321.25h0.8M65.5 320.75h0.8M53.5 324.75h0.8M62.5 320.5h0.8M77.5 309.5h0.8M63.5 319h0.8M67.5 309.25h0.8M61.25 324.5h0.8M62.75 320h0.8M59.25 313h0.8M57 318.75h0.8M71 317.75h0.8" stroke="#000" stroke-width="0.8" stroke-opacity="0.45" fill="none"/>
<path d="M77.5 312.5h0.8M82.75 309.25h0.8M83.5 322.75h0.8M95.25 307.5h0.8M70.75 322.5h0.8M86.5 318.25h0.8M83.75 309.5h0.8M86.5 317.75h0.8M87.75 304.5h0.8M86.75 308.75h0.8M77 313h0.8M77 325h0.8M83.5 312.5h0.8M78.25 312.5h0.8M78 314.5h0.8M85.75 316h0.8M70.75 309h0.8M80.25 303.5h0.8M82.25 310h0.8M80 313.25h0.8M75.25 320.25h0.8M86.75 307.75h0.8M82.75 315.5h0.8M74.25 308.75h0.8M84.5 295.5h0.8M70.25 313h0.8M84 305.25h0.8M85.5 324.25h0.8M81 310.75h0.8M80 304.75h0.8M83.5 312h0.8M84.75 319.5h0.8M79.75 312h0.8M81.75 321.5h0.8M69.25 311h0.8M75.25 311.75h0.8M85.5 311.5h0.8M84.75 312h0.8M74.5 307h0.8M69.75 312.25h0.8" stroke="#000" stroke-width="0.8" stroke-opacity="0.35" fill="none"/>
</g>
<rect x="51.5" y="270.9" width="69.9" height="63.3" fill="none" stroke="#262626" stroke-width="1.1"/>
<line x1="74.4" y1="270.9" x2="74.4" y2="334.2" stroke="#262626" stroke-width="1"/>
<line x1="51.5" y1="306.2" x2="121.4" y2="306.2" stroke="#262626" stroke-width="1"/>
<text class="tk" transform="translate(49.3 272.9) scale(0.36 0.5)" font-size="8" text-anchor="end">10<tspan dy="-3.5" font-size="6.5">4</tspan></text>
<text class="tk" transform="translate(52.1 339.6) scale(0.4 0.38)" font-size="8" text-anchor="middle">10<tspan dy="-3.5" font-size="6.5">0</tspan></text>
<text class="tk" transform="translate(49.3 288.72) scale(0.36 0.5)" font-size="8" text-anchor="end">10<tspan dy="-3.5" font-size="6.5">3</tspan></text>
<text class="tk" transform="translate(69.57 339.6) scale(0.4 0.38)" font-size="8" text-anchor="middle">10<tspan dy="-3.5" font-size="6.5">1</tspan></text>
<text class="tk" transform="translate(49.3 304.55) scale(0.36 0.5)" font-size="8" text-anchor="end">10<tspan dy="-3.5" font-size="6.5">2</tspan></text>
<text class="tk" transform="translate(87.05 339.6) scale(0.4 0.38)" font-size="8" text-anchor="middle">10<tspan dy="-3.5" font-size="6.5">2</tspan></text>
<text class="tk" transform="translate(49.3 320.38) scale(0.36 0.5)" font-size="8" text-anchor="end">10<tspan dy="-3.5" font-size="6.5">1</tspan></text>
<text class="tk" transform="translate(104.53 339.6) scale(0.4 0.38)" font-size="8" text-anchor="middle">10<tspan dy="-3.5" font-size="6.5">3</tspan></text>
<text class="tk" transform="translate(49.3 336.2) scale(0.36 0.5)" font-size="8" text-anchor="end">10<tspan dy="-3.5" font-size="6.5">0</tspan></text>
<text class="tk" transform="translate(122 339.6) scale(0.4 0.38)" font-size="8" text-anchor="middle">10<tspan dy="-3.5" font-size="6.5">4</tspan></text>
<text x="118.4" y="303.4" font-size="14" text-anchor="end" font-weight="normal" fill="#1c1c1c" textLength="15.2" lengthAdjust="spacingAndGlyphs">78</text>
<clipPath id="cp2"><rect x="51.5" y="345.2" width="69.9" height="63.3"/></clipPath>
<g clip-path="url(#cp2)">
<ellipse cx="0" cy="0" rx="11.5" ry="12.5" transform="translate(88 361.2) rotate(0)" fill="#000" fill-opacity="0.22" filter="url(#b2)"/>
<ellipse cx="0" cy="0" rx="7" ry="6" transform="translate(67.1 390.5) rotate(-30)" fill="#000" fill-opacity="0.24" filter="url(#b2)"/>
<ellipse cx="0" cy="0" rx="2.4" ry="2.2" transform="translate(67.1 390.5) rotate(-30)" fill="#000" fill-opacity="0.3" filter="url(#b1)"/>
<ellipse cx="0" cy="0" rx="7" ry="5.8" transform="translate(87.9 357.6) rotate(0)" fill="#000" fill-opacity="0.76" filter="url(#b1)"/>
<ellipse cx="0" cy="0" rx="4.6" ry="5.6" transform="translate(88.9 363.7) rotate(0)" fill="#000" fill-opacity="0.68" filter="url(#b1)"/>
<ellipse cx="0" cy="0" rx="3" ry="4" transform="translate(86.5 371.7) rotate(10)" fill="#000" fill-opacity="0.28" filter="url(#b1)"/>
<path d="M86.25 360.75h0.85M92.25 354.5h0.85M83.25 359.75h0.85M84 358.5h0.85M90.5 356.25h0.85M95.75 354.75h0.85M89.75 356.25h0.85M75.5 357h0.85M87.25 359.75h0.85M87.25 355h0.85M85.75 356.5h0.85M91.25 356.75h0.85M93.25 360.75h0.85M84.75 361.25h0.85M78 357.75h0.85M83.75 357.25h0.85M93 357.75h0.85M87.25 362.25h0.85M84.75 354.75h0.85M92.25 359.75h0.85M81.75 358.25h0.85M91.25 357h0.85M86.25 358.25h0.85M89 355h0.85M91.5 352h0.85M87.75 365.25h0.85M83.25 357.5h0.85M78 354.75h0.85M83 357.75h0.85M85.75 364.25h0.85M84 357.5h0.85M89 360h0.85M91.75 352h0.85M97.5 356.5h0.85M84.75 351.75h0.85M86 351.25h0.85M88.75 355.5h0.85M89.25 354.75h0.85M88.25 365.75h0.85M93 358.25h0.85M83.75 363h0.85M80.5 352.5h0.85M93.5 355.5h0.85M93.75 359.75h0.85M97.5 364h0.85M90.5 355.25h0.85M90.5 362.75h0.85M88.5 347.25h0.85M86.25 356.25h0.85M87.75 356.25h0.85M93 353h0.85M89.75 350.5h0.85M78.5 354h0.85M84.75 354.5h0.85M84.75 359.75h0.85M90.5 358h0.85M88.75 355h0.85M83.75 352.5h0.85M86 353.5h0.85M86.5 360.25h0.85M90.25 362.5h0.85M83.75 349.75h0.85M83 364.75h0.85M91 356h0.85M93.75 356h0.85M95.25 356.25h0.85M86.25 360h0.85M83 357h0.85M96.25 359.25h0.85M83 356.75h0.85M87.75 355h0.85M89.75 362h0.85M88 360.75h0.85M89.25 358h0.85M84.75 361h0.85M93.75 356h0.85M84 359.5h0.85M88.25 361.75h0.85M90 357.25h0.85M81.75 359.75h0.85M88.25 353h0.85M81.5 351h0.85M90.5 356h0.85M73.5 354.5h0.85M85.25 357.25h0.85M88 356.25h0.85M91 361.25h0.85M87 363.25h0.85M87.25 354.5h0.85M88.5 352.5h0.85M86.5 353.75h0.85M86 358.25h0.85M77.25 359h0.85M89 356.75h0.85M91 358.75h0.85M86.25 354h0.85M91 360.25h0.85M81.5 355h0.85M82.75 360.5h0.85M85.5 353h0.85M94.5 359.25h0.85M89 358.5h0.85M87 357.75h0.85M91.75 359.25h0.85M86 358h0.85M96 355.5h0.85M82.25 358h0.85M83 367h0.85M90.5 359.75h0.85M89.5 364.75h0.85M83.5 357.5h0.85M80.5 362h0.85M87.5 364h0.85M86.75 353.75h0.85M84.75 360.5h0.85M84.25 358.5h0.85M84.75 355h0.85M85.5 363.5h0.85M83.25 358.75h0.85M91.25 355h0.85M81.25 363h0.85M95.5 356.75h0.85M82.75 360.75h0.85M87.75 354.5h0.85M86.25 349h0.85M84.25 353.25h0.85M82 359.75h0.85M89 363.75h0.85M76.25 355.25h0.85M84.25 362.25h0.85M92.5 358h0.85M88.25 354.75h0.85M85.5 356h0.85M76.75 364.5h0.85M91 365h0.85M93.25 359.25h0.85M91.5 351.5h0.85M83.5 360.75h0.85M86.25 351.75h0.85M87.75 352.75h0.85M87.75 363.25h0.85M82.75 356h0.85M90.25 357.5h0.85M88.75 354.5h0.85M86.25 349h0.85M87 362.25h0.85M83 356.75h0.85M91 362h0.85M93 354.25h0.85M86 364h0.85M85.75 358.5h0.85M84 355.25h0.85M74.75 355.5h0.85M78.25 353.75h0.85M83.5 362.5h0.85M91.25 359h0.85M85.5 352.5h0.85M90 354.5h0.85M87.25 361h0.85M87 357.5h0.85M83.5 361.25h0.85M90.25 360h0.85M95 351.5h0.85M88 359.75h0.85M89.25 358.75h0.85M89.75 352h0.85M87.5 361.75h0.85M87.5 356.75h0.85M91.5 351.25h0.85M89.5 363h0.85M86.75 354.5h0.85M90 355.75h0.85M84.25 358h0.85M80.5 360h0.85M82.5 355.5h0.85M91 357.5h0.85M89 362.5h0.85M94.5 365h0.85M85.25 360.75h0.85M80.5 360.5h0.85M93.5 354.75h0.85M89.75 360.5h0.85M87 355.25h0.85M94.5 352.75h0.85M88.5 361h0.85M88.75 363.25h0.85M94.25 359.25h0.85M95.5 360.25h0.85M82.25 356.25h0.85M89 358.25h0.85M80.25 366h0.85M81 353.5h0.85M89.75 358.25h0.85M94.5 358.25h0.85M89.5 360.25h0.85M84.5 352.75h0.85M85.75 361.25h0.85M86.5 362h0.85M85.25 360.25h0.85M88 360.5h0.85M87.75 358.25h0.85M85.75 362h0.85M87.75 359.25h0.85M90.75 354.25h0.85M84.25 357.25h0.85M93.5 353.75h0.85M83.25 354h0.85M86 353.75h0.85M84.25 359.5h0.85M83 357.5h0.85M82.75 356.75h0.85M90 350.25h0.85" stroke="#000" stroke-width="0.85" stroke-opacity="0.6" fill="none"/>
<path d="M89 364.5h0.85M88.75 364.5h0.85M90 359h0.85M88.5 366h0.85M92.5 358.75h0.85M87.25 358.75h0.85M88.75 360h0.85M86 366.25h0.85M95.25 356.5h0.85M93.5 360.5h0.85M90.75 365h0.85M92.5 363h0.85M86.5 363.5h0.85M91.25 360.5h0.85M90 363.5h0.85M89.25 363.75h0.85M90.5 366.5h0.85M88 362.5h0.85M82.75 360.5h0.85M84.5 366h0.85M85.75 361.25h0.85M90.5 367.25h0.85M92.25 360.75h0.85M89.5 367.5h0.85M86.5 362.75h0.85M85.25 361.5h0.85M91 364h0.85M87.75 361.75h0.85M93.25 366.25h0.85M85.25 371.25h0.85M87.75 363h0.85M87.5 361.75h0.85M90.75 358.5h0.85M89 362.5h0.85M94 365h0.85M90 365.5h0.85M90.5 364h0.85M81.75 365.25h0.85M88 366h0.85M89.75 361.75h0.85M86.25 360h0.85M89.75 363.25h0.85M86.25 362.5h0.85M89.75 361.25h0.85M88.5 361.5h0.85M81.5 364h0.85M89 366.5h0.85M92.5 361h0.85M90.5 364.5h0.85M89 366.5h0.85M91.5 359.25h0.85M93 363h0.85M87 361.25h0.85M88.25 359.75h0.85M92 365.25h0.85M86.25 366.5h0.85M89.5 364h0.85M91.75 363.25h0.85M88 365.5h0.85M83.5 359.5h0.85M90.25 367.5h0.85M84 363.75h0.85M87 362.75h0.85M90.5 369h0.85M94 367h0.85M90.75 364.25h0.85M83.5 365h0.85M85.5 359.75h0.85M89.25 358.25h0.85M94 365.75h0.85M90 365.25h0.85M89.5 364h0.85M91 361.25h0.85M89.75 364.25h0.85M91 359.75h0.85M89.5 363.25h0.85M90.75 365.5h0.85M89.5 365.25h0.85M90.25 368.5h0.85M89.75 365.5h0.85M86.25 363h0.85M91 367.25h0.85M86 363.5h0.85M88 363.75h0.85M87.5 362.25h0.85M88.75 364h0.85M91.75 360.75h0.85M86 366.5h0.85M90.25 363h0.85M85.5 367.25h0.85M85.75 367.5h0.85M89.5 363.25h0.85M88.5 366.5h0.85M89 357.5h0.85M86.75 356.25h0.85M90 367h0.85M91.75 359h0.85M95 370h0.85M88.5 356.75h0.85M86.5 367.25h0.85M94.75 361.75h0.85M83.5 360.25h0.85M94.25 363.75h0.85M84.75 356.5h0.85M90.75 366.5h0.85M87.5 363h0.85M89 362.5h0.85M87.25 361.75h0.85M87.25 368h0.85M90 367.25h0.85M94.25 355.75h0.85M88.75 367h0.85M88.25 361.5h0.85M90 361.75h0.85M86.5 362.5h0.85M89 363.75h0.85M91.5 363.75h0.85M87.5 374.25h0.85M88.25 362.75h0.85M88.5 361.25h0.85" stroke="#000" stroke-width="0.85" stroke-opacity="0.6" fill="none"/>
<path d="M83.5 371.75h0.85M90 367.75h0.85M85 372.5h0.85M85 372.75h0.85M86.75 369h0.85M86.25 370.25h0.85M88.5 365.75h0.85M86.75 375h0.85M86.75 372.25h0.85M85.25 372.25h0.85M86.75 368.5h0.85M85.25 365.5h0.85M87.25 372.25h0.85M88.25 372.75h0.85M88.25 368.5h0.85M83.25 369.75h0.85M85.75 372.5h0.85M86.25 371.25h0.85M86.5 372.25h0.85M86.75 372.5h0.85M85.5 371.25h0.85M84.25 368.5h0.85M85.75 372.75h0.85" stroke="#000" stroke-width="0.85" stroke-opacity="0.6" fill="none"/>
<path d="M83 350.75h0.8M94 355h0.8M77 354h0.8M85.5 373.75h0.8M83.25 355h0.8M95.25 361.75h0.8M87.25 371.25h0.8M80.25 360.75h0.8M91.25 362.5h0.8M80.5 354.25h0.8M99.25 360.5h0.8M86.25 369h0.8M76.5 360.75h0.8M76.75 371.5h0.8M81.5 362h0.8M82 362h0.8M90 361.25h0.8M86 363h0.8M86.5 357.5h0.8M92 367.5h0.8M79.25 353.75h0.8M83 363.25h0.8M79 372.75h0.8M88.25 362.25h0.8M93.5 355.5h0.8M90.25 364.25h0.8M96.25 353.5h0.8M96.75 365.5h0.8M89.5 369h0.8M86.25 359.75h0.8M93.25 358.5h0.8M95 371.25h0.8M89.25 362.5h0.8M83.75 354.5h0.8M97.25 353.5h0.8M88.5 363.25h0.8M82.25 356.25h0.8M83.5 376.75h0.8M90.25 371.5h0.8M101 368.75h0.8M96.5 358h0.8M83.5 372h0.8M97.25 353.75h0.8M95.25 363.5h0.8M93.25 368.25h0.8M100.25 356.75h0.8M88 370.5h0.8M86.5 365.25h0.8M87.5 348.75h0.8M84.5 367.75h0.8M84.5 350h0.8M84.75 362h0.8M91.25 363.75h0.8M91.5 353.5h0.8M84.25 355.75h0.8M85.25 364.5h0.8M96.5 359.5h0.8M95 369.5h0.8M80.75 355.25h0.8M89 351.25h0.8M100 347.5h0.8M80.25 367h0.8M83.25 366.5h0.8M81.75 369.25h0.8M84.5 366.75h0.8M94.5 350.25h0.8M82.5 348.5h0.8M81 368.25h0.8M88 367.75h0.8M97.25 369h0.8M92.75 358.25h0.8M85.75 363.75h0.8M93.75 369.5h0.8M90 359.25h0.8M87.75 373.75h0.8M90 376.25h0.8M83.75 368h0.8M89.5 367h0.8M83.5 364h0.8M87.75 359.5h0.8M80.5 351h0.8M86 365.5h0.8M89.75 363.25h0.8M90.25 351.5h0.8M95 362h0.8M83.5 357.5h0.8M94.5 363h0.8M77.5 377h0.8M78.75 374h0.8M93.75 354h0.8M96.25 370.75h0.8M95 366.25h0.8M90.25 363h0.8M84.75 363.5h0.8M96.5 360.75h0.8M100.75 350h0.8M88.5 350.5h0.8M77 363.25h0.8M86.25 357.5h0.8M81.5 359.75h0.8M78 360h0.8M85 352.25h0.8M91 347.75h0.8M91 363.5h0.8M91.5 362.5h0.8M93.25 359.5h0.8M81.25 364.25h0.8M83.25 358.75h0.8M89 354.75h0.8M94.5 350.25h0.8M96 361.25h0.8M99 369.75h0.8M92.5 363.75h0.8M89 351.5h0.8M84.75 354.5h0.8M83.75 360.5h0.8M83.25 362.5h0.8M86.75 358h0.8M90.75 365h0.8M79.75 359.25h0.8M107 361.5h0.8M91.25 355h0.8M94.5 372.75h0.8M92 360.5h0.8M88.5 347.5h0.8M92 359.25h0.8M90.75 364.25h0.8M89.5 377h0.8M94 356.75h0.8M92.25 366.25h0.8M88.5 372h0.8M86 348.5h0.8M81.5 364.25h0.8M82 362.75h0.8M78.75 364.25h0.8M86.75 354.75h0.8M84.75 359.5h0.8M94 363.25h0.8M87 362.75h0.8M94 365h0.8M99.5 356.25h0.8M93.5 362.5h0.8M84.25 366h0.8M93.5 368.75h0.8M91.25 355h0.8M89.25 364.25h0.8M98.75 362.5h0.8M89.25 373h0.8M88.75 358.25h0.8M90 367.25h0.8M89.25 349.25h0.8M85.75 368.75h0.8M83.5 367.75h0.8M89.25 355.75h0.8M75 350h0.8M91.75 359.5h0.8M92.25 361h0.8M89 357.75h0.8M85.75 368.75h0.8M93.25 351.75h0.8M92 376.25h0.8M93 354.5h0.8M93 363h0.8M86.25 368.75h0.8M96 357.75h0.8M89 358.5h0.8M88.25 373.25h0.8M85.5 365.75h0.8M90 362h0.8M81.25 366h0.8M81.25 366.75h0.8M87.75 362.5h0.8M85.25 355.25h0.8M81.75 361.5h0.8M87.75 363.5h0.8M86.5 367.25h0.8M89.25 362.5h0.8M86.75 361.5h0.8M92.5 356.5h0.8M80.75 364.25h0.8M91 361.75h0.8M89.75 352h0.8M82.25 361.5h0.8M88 352.5h0.8M91.25 347.75h0.8M96 353.75h0.8M84.75 354h0.8M79.75 359.25h0.8M76.25 359h0.8M89.25 359.25h0.8M88 351h0.8M76.5 351.75h0.8M95 363.75h0.8M77 374h0.8M92.25 369.5h0.8M94.5 371h0.8M77.5 362h0.8M83.25 375.5h0.8M92.5 361.5h0.8M89 355.25h0.8M96.75 366.75h0.8M87.75 358.5h0.8M95.25 357.5h0.8M95.25 363h0.8M86.5 364.25h0.8M99.25 349.75h0.8M93 366.75h0.8M86.5 372.25h0.8M92.5 365.5h0.8M82 365.75h0.8M80 365.25h0.8M101.75 355h0.8M98 353.5h0.8M88.75 366.75h0.8M79 363.75h0.8M83.25 357h0.8M93.5 360.75h0.8M90.75 361.5h0.8M90.5 372.75h0.8M89 359.5h0.8M88.5 366.75h0.8M87.75 364.75h0.8M104.75 357h0.8M86.5 353h0.8M87.75 348.5h0.8M83 360.75h0.8M78.75 359.5h0.8M84 370.75h0.8M98.25 377h0.8M89 366.25h0.8M103.25 356.75h0.8M99 354.75h0.8M95 350h0.8M85.75 360h0.8M86.5 347.25h0.8M89 359.25h0.8M97.5 365.75h0.8M74.5 362.5h0.8M95 360.75h0.8M83.75 351.5h0.8M86 354.5h0.8M86.5 359h0.8M96.25 354.25h0.8M90.25 353.5h0.8M90 369h0.8M84.5 352.75h0.8M88.5 361.5h0.8M84.25 364.5h0.8M88.75 366.5h0.8M79.5 367h0.8M96.25 355.5h0.8M100.75 363.25h0.8M80 353.5h0.8M83.5 356.75h0.8M86.75 363.5h0.8M87 359h0.8M82 346.5h0.8M83.75 352.5h0.8M87 361.5h0.8M81.25 354.25h0.8M93.75 353.5h0.8M87.5 361.75h0.8M92.25 352.25h0.8M96.5 360.25h0.8M94.5 351h0.8M95 360.75h0.8M93.25 356.75h0.8M93.75 361.75h0.8M76.25 379.75h0.8M84 364.75h0.8M87 358h0.8M85.75 368.25h0.8M94.25 368.25h0.8M77.75 367.5h0.8M78.5 378.5h0.8M90.75 369.75h0.8M88.25 362.5h0.8M83.75 376h0.8M86 369.5h0.8M83 360.25h0.8M85.75 360.5h0.8M85 366h0.8M92.5 349.5h0.8M85.5 351.75h0.8M95 352.25h0.8M91.25 362.5h0.8M87.75 347h0.8M99 360.25h0.8M92.5 369.25h0.8M81.75 354h0.8M99.25 375.75h0.8M83 360.75h0.8M94.25 360.25h0.8M96.5 366h0.8M87.75 366.5h0.8M85.25 370.75h0.8M84 371h0.8M104.25 348.5h0.8M99 350.5h0.8M87.75 375h0.8M95.25 366.5h0.8M90.5 362.75h0.8M91.25 360h0.8M86.5 352.25h0.8M99.25 361.25h0.8M100.5 367h0.8M91.25 353.25h0.8M86.5 361.75h0.8M87.5 359.25h0.8M73.5 358.5h0.8M86.5 358h0.8M86.25 350h0.8M82.75 372.25h0.8M82.25 357.5h0.8M83 360.25h0.8M85 376.25h0.8M81.5 371.5h0.8M85.25 364.75h0.8M104.5 361.25h0.8M86 359.75h0.8M89 363.25h0.8M81.25 354.5h0.8M93.25 359.5h0.8M88.5 366.5h0.8M89 362.5h0.8M81.25 361.5h0.8M77.5 374.5h0.8M83.25 374h0.8M85 360.5h0.8M96.5 363h0.8M89.5 359.5h0.8M86.5 356h0.8M83.25 348.25h0.8M87.25 355.75h0.8M97.25 377.25h0.8M100.5 352.75h0.8M86 360.5h0.8M78.5 373h0.8M93 363.75h0.8M100.75 365.25h0.8M86.5 363.75h0.8M85.25 365h0.8M80 365.25h0.8M86.5 358.5h0.8M86 360.75h0.8M77.25 366h0.8M87 375h0.8M88.25 368.5h0.8M88.25 360.5h0.8M80.5 358.25h0.8M86.5 356.25h0.8M90.25 369.25h0.8M86.5 370.5h0.8M96.25 367.25h0.8M86.25 362.5h0.8M98.75 373h0.8M95.75 348.75h0.8M73.75 374.75h0.8M93 371.75h0.8M92 359.5h0.8M91.25 361.25h0.8M98 368h0.8M82.25 356h0.8M95 368.25h0.8M90.25 364.25h0.8M80.25 355.25h0.8M91.75 348h0.8M91.5 366h0.8M92.5 368h0.8M100.75 363.75h0.8M83.25 349h0.8M74 362.5h0.8M94 349.25h0.8M89.5 356.25h0.8M86.75 363.25h0.8M88.75 352.75h0.8M93.25 360.75h0.8M76.25 367.5h0.8M98.5 358.75h0.8M98.75 350h0.8M86.75 371.25h0.8M96.75 365.5h0.8M95.25 358.5h0.8M93 368.75h0.8M94.5 364.5h0.8M93.75 365h0.8M92.25 350.25h0.8M92.25 354.75h0.8M86 362h0.8M90 352h0.8M85 363.5h0.8M85.75 362h0.8M90 363.25h0.8M85 363h0.8M92 352.25h0.8M93.5 354.25h0.8M90.75 366.25h0.8M92.5 353h0.8M82.5 353h0.8M92 362.75h0.8M76.75 367.25h0.8M96 357.75h0.8M88 363.5h0.8M82 358.5h0.8M92 359h0.8M88.25 362.5h0.8M99.5 363.5h0.8M90.5 358h0.8M96.25 362.25h0.8M88.25 371.5h0.8M97 354.75h0.8M86.25 371.25h0.8" stroke="#000" stroke-width="0.8" stroke-opacity="0.5" fill="none"/>
<path d="M84.25 381.5h0.8M85.5 383.25h0.8M82.25 365.75h0.8M80.5 383.5h0.8M83.25 372.5h0.8M84 371h0.8M86.75 375h0.8M83.75 372h0.8M91.5 378.75h0.8M90.25 380h0.8M85.5 378.5h0.8M92.75 370.75h0.8M91.75 363.25h0.8M78.5 367.75h0.8M82.25 370h0.8M84.25 378.25h0.8M83.25 372.75h0.8M81 367.25h0.8M85.5 371h0.8M89.75 375h0.8M79 377.75h0.8M81.5 372.5h0.8M82 370.75h0.8M83.75 369h0.8M83.25 373.25h0.8M89 377.5h0.8M93.25 367h0.8M84.5 379.75h0.8M81.75 373.75h0.8M89 381.25h0.8M88.5 375.75h0.8M85.5 377.25h0.8M86.5 376h0.8M83.5 373.75h0.8M82.5 369.5h0.8M82.75 370.5h0.8M83.5 371.75h0.8M80 375.75h0.8M87.5 381.25h0.8M76.75 368h0.8M82.25 370.5h0.8M86.5 370.5h0.8M83 377.75h0.8M85.5 367h0.8M90 384.5h0.8M90.75 373.5h0.8M91.5 374h0.8M84.75 375.5h0.8M91.25 374.75h0.8M85 368h0.8M87 369.5h0.8M85.75 368h0.8M82.75 370h0.8M83.5 369.25h0.8M91 377.75h0.8M84.75 369.75h0.8M90.5 373.25h0.8M88.5 378.75h0.8M84.5 376.25h0.8M88 372.5h0.8M85.5 371.5h0.8M72.5 372.5h0.8M92.75 379h0.8M97 374.75h0.8M89.75 371.5h0.8M83 370.5h0.8M88 377.75h0.8M78.5 377.5h0.8M89.75 378h0.8M81 375.25h0.8M87.5 368.25h0.8M81.5 384.25h0.8M83.5 372h0.8M78.25 371.5h0.8M91.5 376h0.8M82.75 374.5h0.8M87.5 377h0.8M82.25 376h0.8M83.5 372h0.8M82.75 370.75h0.8" stroke="#000" stroke-width="0.8" stroke-opacity="0.4" fill="none"/>
<path d="M65.5 382.5h0.8M74 400.25h0.8M62.75 391.75h0.8M70.25 396.75h0.8M62 396.5h0.8M71.25 398.25h0.8M70.75 398.75h0.8M63.75 394.5h0.8M61 391h0.8M60.75 392.25h0.8M73 384.5h0.8M81.75 390.25h0.8M68.75 389.75h0.8M67 386.75h0.8M70 389.25h0.8M58.5 395.75h0.8M70 389.25h0.8M68.75 389.75h0.8M67.25 395.75h0.8M72.75 385.75h0.8M68.5 384.25h0.8M71 384.25h0.8M69.5 394h0.8M65 392h0.8M70.5 385.75h0.8M71.25 393.75h0.8M66.75 387h0.8M65 390.5h0.8M68.75 392.75h0.8M60 394.25h0.8M71.5 395.75h0.8M58.75 391h0.8M71 388h0.8M72 387.5h0.8M64.25 392h0.8M74.25 390h0.8M68.5 390.5h0.8M73.25 390h0.8M70 392.75h0.8M65.25 386h0.8M73.75 392.75h0.8M73.25 386.75h0.8M62.75 395.25h0.8M60.5 385h0.8M66.25 387.25h0.8M66.5 388.5h0.8M72.75 391.75h0.8M72 393.75h0.8M70 400.75h0.8M61.25 397.75h0.8M71 386.5h0.8M65.25 385.75h0.8M66 392.75h0.8M57.5 386.5h0.8M63.75 388.25h0.8M62.5 392.25h0.8M63.5 398h0.8M72.25 387.75h0.8M64.5 391.75h0.8M65 387.75h0.8M65.25 393.75h0.8M61.75 390.5h0.8M63 388h0.8M65.5 385h0.8M72.75 390.75h0.8M69 393.75h0.8M71.25 386.25h0.8M65.75 388.5h0.8M64.75 390h0.8M68.75 392.25h0.8M77.5 386.25h0.8M70.75 387.25h0.8M74.75 386.75h0.8M65.75 390h0.8M66.5 389h0.8M71.75 396.5h0.8M65.75 387.5h0.8M58.75 394.75h0.8M61 390.25h0.8M68.5 391.5h0.8M71.75 393.5h0.8M61.5 390.5h0.8M61.25 389h0.8M62.5 389h0.8M67.75 384.75h0.8M72.25 377.25h0.8M67.5 382.5h0.8M62.5 387.25h0.8M68.25 392.25h0.8M64 389h0.8M61 390h0.8M62 390.25h0.8M69.25 393.5h0.8M59.75 384.75h0.8M67.25 394.5h0.8M63.25 394.5h0.8M59.25 388.75h0.8M64 383h0.8M59.5 381.5h0.8M63.25 394.5h0.8M63.25 389h0.8M67.25 385.75h0.8M61 391.75h0.8M67 391.25h0.8M68.75 395.25h0.8M69 388.5h0.8M73.5 379h0.8M66.25 387h0.8M76.75 386.25h0.8M71.25 389.75h0.8M72 384.75h0.8M67.25 381.75h0.8M71.75 393.25h0.8M72 390.5h0.8M59 395.5h0.8M68.75 397h0.8M70.5 391.5h0.8M73.75 389h0.8M59.25 391h0.8M60.25 400.25h0.8M63.25 386.25h0.8M68 387.75h0.8M68.25 396h0.8M54.75 390.25h0.8M66 389.75h0.8M71 386.25h0.8M72.75 395.5h0.8M57.75 388.75h0.8M63.25 391.5h0.8M62.5 394.25h0.8M66 396.5h0.8M70.5 391.75h0.8M68.25 390.75h0.8M59.25 393.75h0.8M62 399.75h0.8M60 390h0.8M69.5 399.75h0.8M65.5 399.5h0.8M73 399.75h0.8M64.75 389h0.8M65.5 388.5h0.8M65.25 394.75h0.8M66.75 394.75h0.8M71.5 392.25h0.8M76 390.5h0.8M65.5 397.75h0.8M58.75 401.25h0.8M69.75 383.5h0.8M68.5 380.25h0.8M70.25 386.5h0.8M65.25 390.5h0.8M66 394.5h0.8M66.5 390.5h0.8M66.25 389h0.8M63.75 395.25h0.8M68 384h0.8M73.75 392.75h0.8M70.75 395.5h0.8M60.25 401h0.8M64.25 393.5h0.8M68 401.75h0.8M66.5 394h0.8M59.75 393h0.8M68.5 389h0.8M66.75 397.75h0.8M60.25 394.75h0.8M65.25 389.5h0.8M70.25 389.75h0.8M67.5 393.25h0.8M67.75 392.5h0.8M73 388.25h0.8M66 388.25h0.8M75 390.5h0.8M69.75 390.25h0.8M63.5 392.75h0.8M65.75 385.5h0.8M62.5 392.5h0.8M76 387h0.8M63.25 398.75h0.8M72.25 390.75h0.8M64.25 391.5h0.8M78.75 389h0.8M83 372.25h0.8M59 392.75h0.8M61.5 390.25h0.8M73 393.5h0.8M62 396.25h0.8M71.25 389.25h0.8M75.25 391.25h0.8M63.75 393h0.8M65.5 385.25h0.8M68 394.75h0.8M68.75 389.5h0.8M79.5 386.25h0.8M69.25 384.75h0.8M71.25 385.75h0.8M65.25 389.5h0.8M62.5 395.75h0.8M63.25 396.75h0.8M66.25 397.25h0.8M71 394h0.8M63.25 395.5h0.8M70.75 389.75h0.8M65.25 388.5h0.8M53.75 400.5h0.8M59.25 389.75h0.8M63 379.75h0.8M65 395h0.8M66.75 389.5h0.8M64 393h0.8M59 392.25h0.8M68.5 385h0.8M65.5 389.5h0.8M57.25 386.25h0.8M61.5 389.75h0.8M62.25 393h0.8M69.75 392h0.8M66 385.25h0.8M73.75 388.25h0.8M67.5 383.75h0.8M76.75 396.25h0.8M71.75 393.25h0.8M64.75 392.5h0.8M68.25 393h0.8M68.25 391h0.8M60.5 388.5h0.8M72.5 400h0.8M63.75 395h0.8M71.5 384.75h0.8M60.5 396h0.8" stroke="#000" stroke-width="0.8" stroke-opacity="0.42" fill="none"/>
<path d="M79.25 381h0.8M89.75 388.75h0.8M79.5 378.5h0.8M88 390.75h0.8M85.25 393.25h0.8M72.25 380.25h0.8M85.5 387.25h0.8M79.25 382.75h0.8M86.5 386.5h0.8M85.5 379.5h0.8M79.75 387.25h0.8M86.5 377h0.8M78 382h0.8M79.5 384.5h0.8M82.5 389h0.8M81.25 384.75h0.8M85.5 392h0.8M80 381.25h0.8M91.75 389.75h0.8M94.5 383.25h0.8M76.75 384.25h0.8M78.75 378h0.8M85.25 377.75h0.8M60.25 385h0.8M72 386.5h0.8M71.5 378.5h0.8M65.25 379h0.8M77.5 395.75h0.8M84.25 382h0.8M88.75 386.5h0.8M66.5 376.5h0.8M69 382.25h0.8M79.75 382.25h0.8M75.75 380.5h0.8M80.75 389h0.8M72 391.5h0.8M73.75 383.75h0.8M91 388.25h0.8M79.75 375.75h0.8M80 383.5h0.8" stroke="#000" stroke-width="0.8" stroke-opacity="0.3" fill="none"/>
</g>
<rect x="51.5" y="345.2" width="69.9" height="63.3" fill="none" stroke="#262626" stroke-width="1.1"/>
<line x1="74.4" y1="345.2" x2="74.4" y2="408.5" stroke="#262626" stroke-width="1"/>
<line x1="51.5" y1="380.5" x2="121.4" y2="380.5" stroke="#262626" stroke-width="1"/>
<text class="tk" transform="translate(49.3 347.2) scale(0.36 0.5)" font-size="8" text-anchor="end">10<tspan dy="-3.5" font-size="6.5">4</tspan></text>
<text class="tk" transform="translate(52.1 413.9) scale(0.4 0.38)" font-size="8" text-anchor="middle">10<tspan dy="-3.5" font-size="6.5">0</tspan></text>
<text class="tk" transform="translate(49.3 363.02) scale(0.36 0.5)" font-size="8" text-anchor="end">10<tspan dy="-3.5" font-size="6.5">3</tspan></text>
<text class="tk" transform="translate(69.57 413.9) scale(0.4 0.38)" font-size="8" text-anchor="middle">10<tspan dy="-3.5" font-size="6.5">1</tspan></text>
<text class="tk" transform="translate(49.3 378.85) scale(0.36 0.5)" font-size="8" text-anchor="end">10<tspan dy="-3.5" font-size="6.5">2</tspan></text>
<text class="tk" transform="translate(87.05 413.9) scale(0.4 0.38)" font-size="8" text-anchor="middle">10<tspan dy="-3.5" font-size="6.5">2</tspan></text>
<text class="tk" transform="translate(49.3 394.68) scale(0.36 0.5)" font-size="8" text-anchor="end">10<tspan dy="-3.5" font-size="6.5">1</tspan></text>
<text class="tk" transform="translate(104.53 413.9) scale(0.4 0.38)" font-size="8" text-anchor="middle">10<tspan dy="-3.5" font-size="6.5">3</tspan></text>
<text class="tk" transform="translate(49.3 410.5) scale(0.36 0.5)" font-size="8" text-anchor="end">10<tspan dy="-3.5" font-size="6.5">0</tspan></text>
<text class="tk" transform="translate(122 413.9) scale(0.4 0.38)" font-size="8" text-anchor="middle">10<tspan dy="-3.5" font-size="6.5">4</tspan></text>
<text x="118.4" y="377.7" font-size="14" text-anchor="end" font-weight="normal" fill="#1c1c1c" textLength="15.2" lengthAdjust="spacingAndGlyphs">89</text>
<clipPath id="cp3"><rect x="132.2" y="270.9" width="69.8" height="63.3"/></clipPath>
<g clip-path="url(#cp3)">
<ellipse cx="0" cy="0" rx="13.5" ry="11" transform="translate(168.2 287.4) rotate(-8)" fill="#000" fill-opacity="0.22" filter="url(#b2)"/>
<ellipse cx="0" cy="0" rx="5.6" ry="6" transform="translate(144.5 316.5) rotate(0)" fill="#000" fill-opacity="0.24" filter="url(#b2)"/>
<ellipse cx="0" cy="0" rx="2" ry="2.6" transform="translate(144.5 316.3) rotate(0)" fill="#000" fill-opacity="0.4" filter="url(#b1)"/>
<ellipse cx="0" cy="0" rx="8.4" ry="6" transform="translate(168 285.9) rotate(-10)" fill="#000" fill-opacity="0.76" filter="url(#b1)"/>
<ellipse cx="0" cy="0" rx="4.5" ry="4.5" transform="translate(168.7 290.4) rotate(0)" fill="#000" fill-opacity="0.6" filter="url(#b1)"/>
<path d="M167.5 290h0.85M166.25 293h0.85M168.25 286.5h0.85M166.5 286.5h0.85M175 285.5h0.85M162.5 284h0.85M174.25 286.75h0.85M163.5 286.25h0.85M168.75 288h0.85M163.25 287.25h0.85M161 284.25h0.85M167.75 291h0.85M168.5 292h0.85M170.75 290.25h0.85M166 279.5h0.85M156.75 286.25h0.85M177 283.75h0.85M165.75 288.5h0.85M165.75 284.75h0.85M169.25 287.25h0.85M164.5 283.5h0.85M175.75 281.25h0.85M163.25 286h0.85M167.5 287h0.85M176.75 289.25h0.85M168 286.5h0.85M173 284.5h0.85M168.25 281.75h0.85M170 285.25h0.85M160.75 288h0.85M179.5 285.25h0.85M164.75 291.25h0.85M170 286.25h0.85M176.25 287.75h0.85M178.25 281h0.85M165.75 286h0.85M168.25 281.5h0.85M168.5 280.5h0.85M165 285.5h0.85M169.5 286.75h0.85M164.25 287.75h0.85M169.5 285.25h0.85M167.75 284h0.85M178.25 289.25h0.85M170.25 290.5h0.85M163.25 284.75h0.85M166.75 287.75h0.85M165.75 282.75h0.85M159.75 283.25h0.85M173 286.75h0.85M162 294h0.85M165.25 284.75h0.85M167.25 286.25h0.85M166 286h0.85M172.5 288.5h0.85M164.5 286h0.85M164 285h0.85M167.25 284.75h0.85M170.5 282h0.85M170.5 288.25h0.85M166.25 285h0.85M170.75 284h0.85M166.5 287h0.85M155.75 290.75h0.85M169.5 287.75h0.85M160.75 285.5h0.85M170.5 287.5h0.85M164.75 284.75h0.85M176 285.5h0.85M173.5 280h0.85M169.75 283.5h0.85M166.25 291h0.85M162 283.5h0.85M164.25 285.75h0.85M168.5 287.5h0.85M174.75 286.5h0.85M177.75 288.25h0.85M170.75 285h0.85M174.75 283.5h0.85M173 285.25h0.85M165.5 288.75h0.85M171.75 286.5h0.85M173.75 285.25h0.85M164.25 286.75h0.85M177 280.75h0.85M158.75 287.5h0.85M163.75 291.75h0.85M168.25 282.5h0.85M167 282.5h0.85M171 288.75h0.85M174.75 288.75h0.85M168.75 290.25h0.85M169.75 280.75h0.85M174.25 281.5h0.85M164 280.75h0.85M162.5 279h0.85M161.25 284h0.85M161.75 285.5h0.85M171.75 284h0.85M171 289.5h0.85M166 291.75h0.85M167.75 285.75h0.85M170.75 290.5h0.85M162.5 290.25h0.85M165.5 286.75h0.85M161.25 277.75h0.85M174.5 287.5h0.85M162 283.5h0.85M162 286.75h0.85M178.25 283.5h0.85M159.75 290h0.85M162.5 281h0.85M170 285.5h0.85M169.25 288.25h0.85M171.5 277.5h0.85M169.5 290h0.85M173.75 281h0.85M158 283.5h0.85M169.75 284.75h0.85M172 284.5h0.85M160.75 283h0.85M167.25 289.25h0.85M175 281h0.85M170.25 285.25h0.85M161.25 282.75h0.85M175.75 283h0.85M167.75 287.75h0.85M170.25 288h0.85M163.75 285.25h0.85M169.5 287h0.85M163.25 280.25h0.85M173 288.25h0.85M172.75 284.5h0.85M158.5 286h0.85M178.5 285.25h0.85M168.25 279.75h0.85M165.25 290h0.85M169.5 285h0.85M174.75 287.25h0.85M170.75 284.75h0.85M170.75 289.25h0.85M168.75 281h0.85M167 285h0.85M171 290.25h0.85M167.25 284.5h0.85M172 287h0.85M164.25 288.25h0.85M169.25 287h0.85M159 280h0.85M159.25 281h0.85M173.5 288.75h0.85M162.25 292.5h0.85M161.75 284h0.85M178.25 279.25h0.85M172 288.25h0.85M174 287.25h0.85M170.25 291.25h0.85M167.75 286.25h0.85M169.75 284.25h0.85M168 290.5h0.85M176.75 286.75h0.85M167.25 284.25h0.85M165.75 285h0.85M165.75 286h0.85M167.5 290h0.85M160.5 285.75h0.85M172 283.75h0.85M166.25 288.25h0.85M167 282.5h0.85M169.25 288h0.85M160 290.75h0.85M159.75 290h0.85M161.5 288h0.85M168.5 289.75h0.85M167.5 284.5h0.85M164.5 287.25h0.85M167.5 289.25h0.85M171 290h0.85M171.75 286h0.85M168.25 288.25h0.85M171 280.5h0.85M169.75 284.25h0.85M170.25 288.5h0.85M158.25 287.25h0.85M172 278.75h0.85M169.25 285.75h0.85M165.75 289.75h0.85M172.75 285.25h0.85M176.25 290h0.85M169.75 288.75h0.85M173.75 291.5h0.85M172.75 287.75h0.85M169.25 288.5h0.85M176 284.25h0.85M167 282.5h0.85M181 282.25h0.85M165.25 284.25h0.85M174.5 286.25h0.85M158 288.25h0.85M177.5 284.25h0.85M170.5 296.25h0.85M166.75 285.5h0.85M173 294.25h0.85M169.25 279.75h0.85M167.25 285.25h0.85M171.75 284h0.85M168 281.25h0.85M161.75 287.25h0.85M176 281h0.85M160.75 291.75h0.85M170.75 288.5h0.85M167.5 287h0.85M167.75 286h0.85M177 283h0.85M166.25 286.5h0.85M168.5 292.25h0.85M167.75 287.5h0.85M162.25 289h0.85M172 287.75h0.85M159.75 285.25h0.85M156 294.5h0.85M168.75 292h0.85M178.75 288h0.85M164.75 285.75h0.85M171 278.25h0.85M176.25 290.25h0.85M172.5 284.25h0.85M169 280h0.85M163 285.25h0.85M165.5 292.75h0.85M169 276.75h0.85M174.5 286.75h0.85M166.5 283.5h0.85M179 285h0.85M168.5 280h0.85M165.75 289.75h0.85M168.5 284.25h0.85M165.75 280.5h0.85M156 290.25h0.85M159.75 281.5h0.85M170.5 289h0.85M167.25 290.25h0.85M166.5 274.5h0.85M175.75 280.5h0.85M176 283.5h0.85M167.5 284.25h0.85M163.5 289h0.85M177.5 289.25h0.85M165.75 288.25h0.85M174 287.25h0.85M163 294.75h0.85M163.75 283.75h0.85M169 286.75h0.85M164.5 281.75h0.85M162 287h0.85M159.25 291.75h0.85M171.75 286.25h0.85M168.75 282.5h0.85M166 289.75h0.85M166.5 292.25h0.85M173.75 287.5h0.85M166.5 282.75h0.85M166.75 282.5h0.85" stroke="#000" stroke-width="0.85" stroke-opacity="0.6" fill="none"/>
<path d="M167.75 289.5h0.85M167.25 293.75h0.85M166.25 288.5h0.85M172 291.25h0.85M170.25 288.75h0.85M169.75 294.25h0.85M168.75 291.75h0.85M172.25 292.25h0.85M172.25 287.25h0.85M164 287.25h0.85M170 288.5h0.85M163.25 295.5h0.85M172.5 289h0.85M167 288.5h0.85M170.75 291.75h0.85M169.25 294.25h0.85M166.5 287.25h0.85M168.75 290.25h0.85M169 291.75h0.85M164.5 295h0.85M163.75 291.5h0.85M169.75 292.75h0.85M169.5 288.25h0.85M168.25 286.75h0.85M168.25 289.75h0.85M163.5 296.5h0.85M167 292h0.85M172.5 290.5h0.85M167.75 287.25h0.85M166.75 288.5h0.85M168.25 292.75h0.85M169.25 294.75h0.85M170 291.25h0.85M160.25 290h0.85M169.5 286.25h0.85M168.5 288.5h0.85M168.25 290.25h0.85M168 290.25h0.85M169.75 291.25h0.85M167 293h0.85M169 291.5h0.85M173.75 295h0.85M174.75 289.75h0.85M170 291.75h0.85M169 290h0.85M171 293.75h0.85M175 289h0.85M170 288.5h0.85M168 284h0.85M174.75 286h0.85M169 285.5h0.85M167.75 287.5h0.85M163 287.5h0.85M168.25 290h0.85M163.25 292.25h0.85M168 287.25h0.85M173 288.5h0.85M169.5 294.75h0.85M169 290.25h0.85M171.5 289.25h0.85M169 290h0.85M167.75 292.5h0.85M169.5 294.5h0.85M169.75 286.5h0.85M169.75 289.75h0.85M168 293.25h0.85M170 286h0.85M174.25 290h0.85M164.25 289.5h0.85M170 287.25h0.85M166.25 285.5h0.85M169.5 289h0.85M173 291.25h0.85M169.5 288.75h0.85M171.5 286.5h0.85M169.5 291.75h0.85M166.5 287.25h0.85M172 295.5h0.85M169.75 295.5h0.85M170 290h0.85M167.75 287h0.85M171.25 288.75h0.85M167 291.5h0.85" stroke="#000" stroke-width="0.85" stroke-opacity="0.6" fill="none"/>
<path d="M172 282.75h0.8M170 286.5h0.8M169.25 286.5h0.8M163.75 295.25h0.8M165.75 288.75h0.8M173 281h0.8M168.75 285.75h0.8M171 291.5h0.8M168.75 286h0.8M175.5 288.25h0.8M157 295.75h0.8M171.75 283.5h0.8M167.75 281.25h0.8M169.25 277.75h0.8M176 290.5h0.8M160.75 290.75h0.8M157.25 284h0.8M160.75 292h0.8M173.5 278.5h0.8M169.75 290.75h0.8M165.75 303.5h0.8M156.25 296.25h0.8M179.75 285.25h0.8M159.75 295.5h0.8M149.5 287.25h0.8M157.5 287.25h0.8M164 278.75h0.8M172.5 295h0.8M157.75 291.75h0.8M169 283h0.8M164.25 291h0.8M176.75 285.5h0.8M149.5 292.75h0.8M171.25 274.5h0.8M164.25 287.25h0.8M166 289.5h0.8M161.5 291.75h0.8M147.25 289.75h0.8M163.75 286.5h0.8M173.25 296.5h0.8M160.5 286.75h0.8M160.5 287.75h0.8M163.75 279.5h0.8M176.75 289.75h0.8M168.25 296h0.8M155.75 290h0.8M180.5 285h0.8M161.5 282h0.8M177.5 294.25h0.8M170.75 293.5h0.8M163 284.75h0.8M174.5 281h0.8M169.75 287.25h0.8M161.75 288.75h0.8M158.5 283h0.8M153 279h0.8M161.5 289.75h0.8M168.25 279h0.8M166.25 302.25h0.8M168.75 290h0.8M152 284h0.8M176.75 277.75h0.8M161.25 282.25h0.8M167 291.25h0.8M154.75 291.75h0.8M148 281.25h0.8M171.25 279.5h0.8M161.5 283.75h0.8M180.25 280.5h0.8M175.25 300.25h0.8M165 281.75h0.8M168 280.5h0.8M165 280h0.8M156.5 276.5h0.8M175 282.5h0.8M159 294.25h0.8M166.5 284.75h0.8M162 287h0.8M165.5 284.25h0.8M166.5 292.25h0.8M166.25 295.75h0.8M175.25 280.25h0.8M160.5 278.5h0.8M162 291.75h0.8M165.25 283.75h0.8M168.5 272.5h0.8M170.25 285.75h0.8M172.75 285h0.8M175.5 294h0.8M165.5 290.75h0.8M160.75 282.25h0.8M159.25 285.5h0.8M158.5 279.75h0.8M166 277.25h0.8M172.25 280.75h0.8M165.75 285h0.8M175.5 291h0.8M165.75 283h0.8M174.25 286h0.8M159.75 287.75h0.8M172.5 286.75h0.8M168 296.75h0.8M163.75 292h0.8M179.75 298.25h0.8M158.75 290.5h0.8M168.75 302.75h0.8M177.5 293.75h0.8M176.75 290.75h0.8M159.75 301.75h0.8M154.75 292h0.8M173.75 288.25h0.8M175.5 286.75h0.8M174 288.5h0.8M162.25 293.5h0.8M163.5 291.25h0.8M159.75 288.5h0.8M172 294.75h0.8M159.5 283.5h0.8M167.75 280.25h0.8M172.5 302.75h0.8M173 291.25h0.8M161.5 290.75h0.8M171.75 300h0.8M165 295.25h0.8M165 285.25h0.8M164.5 289h0.8M156.25 284.5h0.8M179.25 275h0.8M174.5 292.25h0.8M164.5 281.75h0.8M176.5 284.75h0.8M170.25 285.5h0.8M159.25 294h0.8M172.75 280.75h0.8M176.25 278.75h0.8M158 292.75h0.8M164.5 287h0.8M180 280h0.8M172.5 284.25h0.8M168.5 285.5h0.8M161.75 287.5h0.8M160.75 287.25h0.8M160.5 285.25h0.8M168.75 277.75h0.8M167.25 291.75h0.8M168.75 293.25h0.8M160.25 291h0.8M167.75 293h0.8M167.25 287.25h0.8M166.75 286h0.8M159.75 282.5h0.8M151 301h0.8M167.75 288.5h0.8M172.5 290.5h0.8M167.25 276.5h0.8M158.75 298.25h0.8M171 291.5h0.8M159.75 284h0.8M169.75 282h0.8M177 282h0.8M164.5 279.5h0.8M170.5 295.75h0.8M169.5 287h0.8M165 292.25h0.8M167.75 298.75h0.8M165.75 284.5h0.8M163.75 274.5h0.8M169.5 288h0.8M155.5 279.25h0.8M159.5 285h0.8M160 292h0.8M177 282.75h0.8M168 280h0.8M178 279.75h0.8M161.75 287h0.8M161.5 304.75h0.8M166.25 285.5h0.8M160.25 286.5h0.8M163.25 284.25h0.8M175.5 283h0.8M171 283h0.8M175.5 282h0.8M160.5 285.5h0.8M177.25 284.5h0.8M161.25 286h0.8M162.5 288.75h0.8M162.5 289.25h0.8M174.5 290.25h0.8M179.25 289h0.8M181.75 295.5h0.8M165.75 292.25h0.8M162.25 285.75h0.8M167.25 281.75h0.8M170.25 286.5h0.8M183 292.25h0.8M166 282.5h0.8M163.75 282.5h0.8M162 287.25h0.8M157.5 285h0.8M171.5 283.25h0.8M159.25 283.75h0.8M174.25 282h0.8M179.5 276h0.8M161.75 291h0.8M178 285.75h0.8M155.25 285.25h0.8M161 282.5h0.8M165 283h0.8M167.5 288h0.8M165.5 275.25h0.8M168.25 284.25h0.8M160.75 300.75h0.8M180.25 295.75h0.8M169.5 283.75h0.8M171.25 297.75h0.8M167.25 286h0.8M163.25 286.5h0.8M174.25 281h0.8M175.75 288h0.8M184.75 288.25h0.8M177.5 280.5h0.8M186 287.75h0.8M167.25 297h0.8M169 279h0.8M172.5 290.75h0.8M167.75 284h0.8M155.75 298.25h0.8M164.5 289.5h0.8M164 282.5h0.8M170 281.25h0.8M175 276.5h0.8M172.25 294.75h0.8M164.5 288.5h0.8M174.25 284.25h0.8M166.25 286h0.8M188.5 281.75h0.8M166.5 284.25h0.8M163.75 281h0.8M163 288.25h0.8M176.75 297.75h0.8M158.25 280.75h0.8M167.75 280.75h0.8M162 285.75h0.8M163.75 281.5h0.8M169.5 282h0.8M166 289.25h0.8M173.25 288.5h0.8M176.25 288.25h0.8M156.75 296.75h0.8M189.5 292.5h0.8M180 294.5h0.8M164.5 291.25h0.8M162.75 283.5h0.8M172.25 287.75h0.8M163 278h0.8M174 287.25h0.8M169 281.5h0.8M162 286.75h0.8M154 295h0.8M168 294.25h0.8M175.25 283.5h0.8M171.75 279.75h0.8M161 296h0.8M164 282h0.8M171.5 287.25h0.8M175.25 278.75h0.8M166 280.25h0.8M168.25 285.5h0.8M161 275.75h0.8M157.75 293.25h0.8M165.25 280h0.8M169.25 279.75h0.8M175 293h0.8M168.25 283.5h0.8M154.25 290.5h0.8M183.25 288.5h0.8M164 292.5h0.8M165 279.25h0.8M167.25 291.25h0.8M154.25 294h0.8M180.25 287h0.8M164.25 278h0.8M172 285.5h0.8M177.25 297.5h0.8M177.5 288.5h0.8M154.25 295.75h0.8M164.25 284h0.8M176 290.25h0.8M160 285h0.8M165.75 286.25h0.8M159 297h0.8M167 291.5h0.8M176 301.5h0.8M173.5 282.5h0.8M164.75 293h0.8M180.5 277.75h0.8M182.5 283.5h0.8M166.5 284.5h0.8M172.5 286h0.8M167.75 281.25h0.8M179 289.5h0.8M167.75 301.25h0.8M173 296.25h0.8M166 288.25h0.8M167 293h0.8M170.25 276.25h0.8M172.5 285.75h0.8M170 293.5h0.8M166 291.5h0.8M168.25 286.75h0.8M164.25 286.5h0.8M165.75 292.5h0.8M150.75 291h0.8M167.5 280.5h0.8M174 287h0.8M172.25 296h0.8M169.75 277h0.8M156 287h0.8M159 301.25h0.8M167.5 275.5h0.8M151.75 283.75h0.8M149.75 290.5h0.8M150.75 293h0.8M164.5 294.75h0.8M159.25 284.25h0.8M176.25 276.75h0.8M173.25 296.75h0.8M160.5 286.25h0.8M180.75 297h0.8M180.25 286.75h0.8M165.25 286.25h0.8M165.25 292.75h0.8M174.5 290.75h0.8M163 292.5h0.8M171.75 288.75h0.8M177.5 285h0.8M169 294.5h0.8M162.5 293.25h0.8M173.75 297.25h0.8M178 283.5h0.8M181.75 284.25h0.8M159.25 285.5h0.8M165.5 281.5h0.8M175.5 290.75h0.8M172.75 278.25h0.8M182 290.5h0.8M177 289.75h0.8M171 292.5h0.8M169.5 296.5h0.8M164.25 274h0.8M165.5 287.25h0.8M171.25 288h0.8M171.5 290.25h0.8M167 291h0.8M172.5 282.25h0.8M155 289h0.8M172 294.5h0.8M176.75 289.25h0.8M177 283.75h0.8M164.75 296.25h0.8M159.25 287.25h0.8M160.25 279.5h0.8M184.25 276h0.8M181.75 284.5h0.8M162.5 276.5h0.8M170 291.5h0.8M172.75 281.5h0.8M180.75 288.75h0.8M172.25 291.25h0.8M172.5 285.25h0.8M171 282.75h0.8M170.25 281.25h0.8M157.5 283.5h0.8M167.25 283h0.8M166 284h0.8M168.75 298.75h0.8M172.75 293h0.8M175.75 293h0.8M171.5 293h0.8M176.5 286.5h0.8M166.25 287.5h0.8M168 290.5h0.8M165 284.75h0.8M170 290.75h0.8M167.5 277.75h0.8M166.5 293h0.8M166.75 295.5h0.8M164.5 286h0.8M174.25 295h0.8M166 297h0.8M169.75 290h0.8M181.75 293h0.8M166.75 287h0.8M161.5 294.75h0.8M171 299.5h0.8M177.5 287.75h0.8M163.75 285.5h0.8M177.75 286.75h0.8M177 295.5h0.8M179.5 289.25h0.8M173.75 279.25h0.8M171 287.75h0.8M175.25 276.25h0.8M166 302.5h0.8M169.5 284.5h0.8M169.25 286.75h0.8M165.75 291.5h0.8M170.5 295h0.8M187 292.25h0.8M171 297h0.8M158 299.25h0.8M160 284.5h0.8M168.75 279h0.8M163.75 288.75h0.8M171.5 278.5h0.8M146 291.75h0.8M156 289.75h0.8" stroke="#000" stroke-width="0.8" stroke-opacity="0.5" fill="none"/>
<path d="M169.75 303.25h0.8M164.5 297.75h0.8M182.5 299.5h0.8M162.25 294.75h0.8M166 306.75h0.8M170.75 296.5h0.8M160.5 297.5h0.8M167.25 301.25h0.8M169.75 304.25h0.8M160.75 294h0.8M166.75 302.25h0.8M164.5 301h0.8M167 304.5h0.8M166.25 298.25h0.8M169.75 304h0.8M164 299.5h0.8M163.75 295.5h0.8M179.25 297.5h0.8M165.75 298.75h0.8M163.25 299.5h0.8M166.75 301.5h0.8M164.5 294.5h0.8M166.75 302.75h0.8M173.5 299.75h0.8M166 297h0.8M174.75 297.75h0.8M164.75 299.75h0.8M166.25 300.25h0.8M169.25 306.75h0.8M169.75 301.75h0.8M160 308.75h0.8M169.75 303.5h0.8M165.75 299.75h0.8M165.5 299.25h0.8M165.25 303h0.8M172.5 299.75h0.8M165.75 303.25h0.8M166.25 302.25h0.8M164 305.5h0.8M165 302.25h0.8M175.75 301.5h0.8M166 303h0.8M174.75 291.25h0.8M165.5 299.5h0.8M171.5 294h0.8M171.25 300.25h0.8M170 296h0.8M173.75 310.25h0.8M168 302.25h0.8M162.25 288.75h0.8M167 299.25h0.8M170.75 300.25h0.8M160.75 291.25h0.8M172.75 303.75h0.8M166.75 299h0.8M170.75 298h0.8M161 305h0.8M160.5 298.5h0.8M173.75 302h0.8M172.75 306h0.8" stroke="#000" stroke-width="0.8" stroke-opacity="0.35" fill="none"/>
<path d="M145.25 310h0.8M138 306.5h0.8M147.5 310h0.8M144 317h0.8M146 316.5h0.8M149.5 318.25h0.8M148.5 316.25h0.8M144.75 317.5h0.8M146.5 320.25h0.8M142.75 319.5h0.8M155 304.25h0.8M147 316h0.8M143.75 314h0.8M140.25 317.75h0.8M141.75 324h0.8M145.75 324.75h0.8M145 310h0.8M146.25 317.5h0.8M147.75 305.5h0.8M144.75 323.25h0.8M145 307.25h0.8M146.25 318.75h0.8M150 319.25h0.8M140.75 322h0.8M147.25 322.25h0.8M144 321.5h0.8M136.75 310.5h0.8M147 324h0.8M146.75 317.5h0.8M144 314.75h0.8M148.75 308.5h0.8M145.75 323.5h0.8M138.25 306.25h0.8M140.75 316.75h0.8M146.75 314h0.8M147.5 314.25h0.8M138.5 321.25h0.8M144.5 313.5h0.8M138.25 305h0.8M140.5 320h0.8M141 310.5h0.8M141.75 319.25h0.8M146.75 322.25h0.8M141.25 323.5h0.8M150.75 318.5h0.8M148.5 324.25h0.8M146 312.75h0.8M146.5 318.25h0.8M147.25 328.75h0.8M144.75 315.5h0.8M149.25 316.75h0.8M140 318.25h0.8M148.5 309.25h0.8M151 325.5h0.8M140.25 317.75h0.8M146.25 319.25h0.8M145.75 320h0.8M141.75 315.5h0.8M144.25 318.75h0.8M152 320.75h0.8M140.75 318.5h0.8M152 326.25h0.8M151.25 317.25h0.8M147.5 317.5h0.8M140.25 317h0.8M143 310.75h0.8M144 314.75h0.8M143.75 320h0.8M140.5 317h0.8M146 318h0.8M145.75 317h0.8M138.5 307h0.8M142.5 314.75h0.8M141 313h0.8M143 324.5h0.8M144.25 320.5h0.8M147.25 317.5h0.8M148.25 314h0.8M144 311.25h0.8M144.25 320.75h0.8M141.25 316.25h0.8M143.75 316.5h0.8M143 318h0.8M139.75 317.25h0.8M151 311.5h0.8M147.75 313.5h0.8M142.5 325h0.8M147.25 319.5h0.8M151 319.75h0.8M144.25 306h0.8M147.25 324.5h0.8M143 311h0.8M138 319.5h0.8M135.5 318.5h0.8M147.75 314.5h0.8M140.5 315.25h0.8M150.5 311.25h0.8M141.5 319h0.8M142.25 322.75h0.8M141.75 311h0.8M139 315.5h0.8M148.75 316.75h0.8M142.25 309.5h0.8M145.5 313.5h0.8M153.5 311h0.8M139.5 310.75h0.8M145.25 319.25h0.8M145.5 322h0.8M147.25 313.75h0.8M151 313h0.8M145.5 316.75h0.8M149 316.5h0.8M145.75 307.5h0.8M144.25 317.25h0.8M150.5 308.5h0.8M140 320.5h0.8M153.5 317.25h0.8M136.5 308.25h0.8M143.25 312.5h0.8M146.5 321.5h0.8M147.5 312.25h0.8M142 315.75h0.8M146.25 319.25h0.8M143 321.5h0.8M147.25 315.25h0.8M145.25 324h0.8M147 315.25h0.8M143.25 321h0.8M146 317.25h0.8M141.75 315.5h0.8M145.25 324.75h0.8M139.75 317.25h0.8M141 310.25h0.8M153.25 310.75h0.8M149.25 321.5h0.8M146.5 316.75h0.8M144.5 319h0.8M146 319.25h0.8M147 309h0.8M139.75 316.5h0.8M144.5 310.25h0.8M148.25 319h0.8M145.75 321.5h0.8M147 316h0.8M142.25 322h0.8M142.75 313.25h0.8M141 319.75h0.8M145.5 315.75h0.8M148.25 312.75h0.8M147.75 314.25h0.8M144 315.75h0.8M145.5 323h0.8M142.25 321.5h0.8M149.25 315.75h0.8M142 311.25h0.8M144.25 330h0.8M144 317.25h0.8M141 318.75h0.8M145.5 321.25h0.8M152.5 321.25h0.8M141.5 316h0.8M139.75 314.75h0.8M139.25 321.75h0.8M136.25 319.5h0.8M145 309.5h0.8M147.5 322.5h0.8M151.5 315.5h0.8M147.5 317.5h0.8M150 316.5h0.8M149 312h0.8" stroke="#000" stroke-width="0.8" stroke-opacity="0.42" fill="none"/>
<path d="M158.5 306.5h0.8M162.75 305.75h0.8M165.75 309.25h0.8M151.75 313.25h0.8M174.75 314.5h0.8M167.5 310.75h0.8M162.75 304h0.8M182.25 303.5h0.8M156.25 306.75h0.8M154.75 312.75h0.8M157.75 309.25h0.8M167.5 306h0.8M154.25 314.25h0.8M159.75 302.75h0.8M169.75 304.75h0.8M164.25 312h0.8M167 313.25h0.8M160.5 311.75h0.8M149.25 313.25h0.8M147.25 315.5h0.8M157.5 316.25h0.8M163.75 314.5h0.8M160 310.75h0.8M168.75 315.25h0.8M160.75 298.25h0.8M165.5 315.5h0.8M175.75 310.75h0.8M174 294h0.8M160.5 308.75h0.8M183 310.75h0.8M187.75 312.25h0.8M160.25 309h0.8M156.75 312.5h0.8M165.5 307h0.8M180.5 317.25h0.8M161.5 314.5h0.8M162.75 309.5h0.8M156.5 308.5h0.8M180.5 320.5h0.8M163.25 310.25h0.8" stroke="#000" stroke-width="0.8" stroke-opacity="0.3" fill="none"/>
</g>
<rect x="132.2" y="270.9" width="69.8" height="63.3" fill="none" stroke="#262626" stroke-width="1.1"/>
<line x1="155.1" y1="270.9" x2="155.1" y2="334.2" stroke="#262626" stroke-width="1"/>
<line x1="132.2" y1="306.2" x2="202" y2="306.2" stroke="#262626" stroke-width="1"/>
<text class="tk" transform="translate(130 272.9) scale(0.36 0.5)" font-size="8" text-anchor="end">10<tspan dy="-3.5" font-size="6.5">4</tspan></text>
<text class="tk" transform="translate(132.8 339.6) scale(0.4 0.38)" font-size="8" text-anchor="middle">10<tspan dy="-3.5" font-size="6.5">0</tspan></text>
<text class="tk" transform="translate(130 288.72) scale(0.36 0.5)" font-size="8" text-anchor="end">10<tspan dy="-3.5" font-size="6.5">3</tspan></text>
<text class="tk" transform="translate(150.25 339.6) scale(0.4 0.38)" font-size="8" text-anchor="middle">10<tspan dy="-3.5" font-size="6.5">1</tspan></text>
<text class="tk" transform="translate(130 304.55) scale(0.36 0.5)" font-size="8" text-anchor="end">10<tspan dy="-3.5" font-size="6.5">2</tspan></text>
<text class="tk" transform="translate(167.7 339.6) scale(0.4 0.38)" font-size="8" text-anchor="middle">10<tspan dy="-3.5" font-size="6.5">2</tspan></text>
<text class="tk" transform="translate(130 320.38) scale(0.36 0.5)" font-size="8" text-anchor="end">10<tspan dy="-3.5" font-size="6.5">1</tspan></text>
<text class="tk" transform="translate(185.15 339.6) scale(0.4 0.38)" font-size="8" text-anchor="middle">10<tspan dy="-3.5" font-size="6.5">3</tspan></text>
<text class="tk" transform="translate(130 336.2) scale(0.36 0.5)" font-size="8" text-anchor="end">10<tspan dy="-3.5" font-size="6.5">0</tspan></text>
<text class="tk" transform="translate(202.6 339.6) scale(0.4 0.38)" font-size="8" text-anchor="middle">10<tspan dy="-3.5" font-size="6.5">4</tspan></text>
<text x="199" y="303.4" font-size="14" text-anchor="end" font-weight="normal" fill="#1c1c1c" textLength="15.2" lengthAdjust="spacingAndGlyphs">88</text>
<clipPath id="cp4"><rect x="132.2" y="345.2" width="69.8" height="63.3"/></clipPath>
<g clip-path="url(#cp4)">
<ellipse cx="0" cy="0" rx="15" ry="9" transform="translate(173.2 359.7) rotate(-14)" fill="#000" fill-opacity="0.2" filter="url(#b2)"/>
<ellipse cx="0" cy="0" rx="6" ry="5" transform="translate(168.2 370.2) rotate(0)" fill="#000" fill-opacity="0.12" filter="url(#b2)"/>
<ellipse cx="0" cy="0" rx="8.6" ry="4.8" transform="translate(175.8 357.4) rotate(-14)" fill="#000" fill-opacity="0.74" filter="url(#b1)"/>
<ellipse cx="0" cy="0" rx="6.5" ry="4.2" transform="translate(170.2 359.2) rotate(-10)" fill="#000" fill-opacity="0.4" filter="url(#b1)"/>
<path d="M181.25 353.5h0.85M178.5 352h0.85M178.5 359h0.85M181.5 361h0.85M182 354.5h0.85M167 352.25h0.85M170.25 358.25h0.85M175 366.5h0.85M178.5 358h0.85M176.5 356.75h0.85M178.75 360.25h0.85M177 360.25h0.85M183.5 356.25h0.85M180 357.5h0.85M182.75 358.5h0.85M178 360.75h0.85M182.5 356.5h0.85M171 364.25h0.85M177.75 359.25h0.85M176.75 356.25h0.85M170 359h0.85M175.5 359.25h0.85M174.5 357.75h0.85M180 356.5h0.85M173.25 359.75h0.85M173.75 354.75h0.85M169.75 356.25h0.85M171.25 351.75h0.85M168 357.5h0.85M173.75 357.5h0.85M178.25 353.5h0.85M184.25 356.5h0.85M163.25 360.5h0.85M171.25 360.25h0.85M184.25 351h0.85M175.75 354h0.85M168.5 361.25h0.85M180 354.25h0.85M173 354.25h0.85M172.25 357.5h0.85M175.5 359.75h0.85M177 357h0.85M177 359.25h0.85M178 352.75h0.85M175.25 359h0.85M170.75 354.25h0.85M169.75 355.25h0.85M174.75 357.25h0.85M177.25 351h0.85M179 359.25h0.85M189.75 353h0.85M178.5 351.25h0.85M182.75 360.75h0.85M177 355.25h0.85M183.25 352.5h0.85M184.5 352h0.85M178.75 357.75h0.85M176.5 355.5h0.85M171.5 362.75h0.85M177.75 354.25h0.85M169.5 361.5h0.85M183 355.5h0.85M174 359.75h0.85M179.5 360.5h0.85M174.5 355.5h0.85M174.5 353.5h0.85M169.75 357.25h0.85M175 357.75h0.85M168.25 358.25h0.85M185 349.75h0.85M173.5 356.5h0.85M178.5 354.25h0.85M187.5 352.75h0.85M177.25 357.5h0.85M183.5 357h0.85M168.75 359.5h0.85M173.5 361.75h0.85M179 357.75h0.85M175 355.5h0.85M182.25 358.75h0.85M187.75 353.75h0.85M181 352.75h0.85M178.75 356.75h0.85M169.75 357h0.85M176.25 356.5h0.85M174.25 357h0.85M175.5 356.25h0.85M167 360h0.85M185 354.75h0.85M176 354.75h0.85M171 355.75h0.85M169 359.25h0.85M171.25 359.5h0.85M175.25 353h0.85M187.25 353.5h0.85M176.25 356h0.85M169.75 358.75h0.85M177 350.5h0.85M176.25 357.75h0.85M184 349.25h0.85M173 361.75h0.85M172.5 360.25h0.85M169.75 355.25h0.85M179.5 354.75h0.85M170.25 359h0.85M182 355.5h0.85M186.75 350.75h0.85M184.75 356h0.85M181 358.5h0.85M174.25 357h0.85M168.25 357h0.85M172.75 361.25h0.85M173.75 359h0.85M177 364.25h0.85M171 355.75h0.85M177.75 351.5h0.85M175.25 354.5h0.85M171.25 357.75h0.85M187.25 357.25h0.85M180.5 357.75h0.85M178 354.75h0.85M176.75 356.75h0.85M179.75 359h0.85M168.75 355h0.85M182.5 352.25h0.85M184.25 364h0.85M181.5 357h0.85M175.25 358h0.85M182.75 365h0.85M180.25 355.75h0.85M184.25 355.25h0.85M183 356.5h0.85M177.5 359.25h0.85M174.5 355.75h0.85M175.5 357.75h0.85M174.5 360h0.85M177.75 357.75h0.85M174.25 358.5h0.85M179.25 355.5h0.85M174.75 358.5h0.85M176.75 355.25h0.85M180.5 357.5h0.85M184.75 351.5h0.85M169.25 359.75h0.85M186.5 357.75h0.85M175.25 355.25h0.85M177 355.5h0.85M171.75 358.75h0.85M172 357.5h0.85M171.75 357.75h0.85M178.25 357h0.85M176.5 354h0.85M168.25 359h0.85M176.25 359.25h0.85M169.25 361.75h0.85M174.25 354.5h0.85M172.25 356.75h0.85M182.5 354.25h0.85M176.75 354.25h0.85M168 357h0.85M167 358.5h0.85M175.75 362.75h0.85M174 361.25h0.85M179.75 359h0.85M176.75 356.75h0.85M179 360.25h0.85M170.5 354.75h0.85M171.5 354h0.85M173.25 357h0.85M171.5 357.75h0.85M182 356h0.85M181.5 355.5h0.85M175.25 353.25h0.85M182.25 356.75h0.85M183.25 355.25h0.85M174 364.25h0.85M168.5 353h0.85M179 353.25h0.85M169.75 359.75h0.85M172.75 363.5h0.85M188.25 361h0.85M173.5 360.75h0.85M172 356.75h0.85M174.25 357.25h0.85M177.25 356h0.85M182 351.5h0.85M176.5 352.25h0.85M179.25 360.25h0.85M184.25 357.25h0.85M176.25 355.25h0.85M173.75 358.25h0.85M170.75 354.5h0.85M182.75 357.25h0.85M177.75 355.5h0.85M179 355.25h0.85M178 357h0.85M175.5 355.5h0.85M178.75 354.25h0.85M184.75 358h0.85M174.75 359h0.85M180.25 356.25h0.85M170 359.75h0.85M173.75 357.25h0.85M186.75 354.75h0.85M169 361.25h0.85M180.75 353.75h0.85M175 355.5h0.85M178 360.5h0.85M189.25 353.25h0.85M177.75 361.25h0.85M175.25 360.25h0.85" stroke="#000" stroke-width="0.85" stroke-opacity="0.6" fill="none"/>
<path d="M169 368h0.85M167.25 361.75h0.85M177.25 360.5h0.85M177 360.5h0.85M170.75 361h0.85M174 359.25h0.85M173.75 358h0.85M167.5 363.5h0.85M171.75 363.25h0.85M177.75 356.75h0.85M177 359.25h0.85M171.25 354.5h0.85M168.5 359h0.85M167.25 356.5h0.85M163.5 360.75h0.85M172.25 361.25h0.85M163.75 356.25h0.85M178.5 357.5h0.85M170.25 362h0.85M165.75 359.5h0.85M173.75 359.75h0.85M173.5 357.5h0.85M175.5 354.5h0.85M161.25 360.25h0.85M170.75 359h0.85M161.25 357.25h0.85M169.25 361.75h0.85M175.75 362.75h0.85M165 358.75h0.85M162.75 357.25h0.85M165.25 359.75h0.85M167 360.5h0.85M175.75 357.5h0.85M168.5 359.5h0.85M169.25 358.75h0.85M167.5 360h0.85M168.25 360.75h0.85M171.25 361.75h0.85M172.75 360.25h0.85M169.75 358h0.85M172.25 356.5h0.85M172.5 363.25h0.85M167.75 361.5h0.85M172.75 358.75h0.85M174.25 357.25h0.85M165.5 361.5h0.85M172.25 359.75h0.85M173.25 355.75h0.85M167.75 364.5h0.85M169.5 362h0.85M171 354h0.85M169.25 366.75h0.85M171.25 361h0.85M165 359.75h0.85M165.75 359.25h0.85M170.5 357.25h0.85M165 361.75h0.85M172.25 357.5h0.85M167.75 362h0.85M170.25 362.25h0.85M172.75 358h0.85M173.5 353.75h0.85M166.5 360h0.85M174.25 360.75h0.85M172 356.75h0.85M170.75 364h0.85M173.5 361.5h0.85M170.25 356h0.85M169.25 362.75h0.85M167.75 363h0.85M171.5 354.5h0.85M170.25 357.75h0.85M170.25 363h0.85M164 356h0.85M169 359.75h0.85" stroke="#000" stroke-width="0.85" stroke-opacity="0.6" fill="none"/>
<path d="M176.25 359.25h0.8M166.25 360h0.8M192 357.5h0.8M181.25 359.25h0.8M173.75 350.75h0.8M181.25 371.25h0.8M159.75 366h0.8M164 365.5h0.8M176.5 358h0.8M162.75 358.75h0.8M184.5 355h0.8M174 362.25h0.8M168.75 359.25h0.8M164 373h0.8M176.75 361.75h0.8M167.5 355h0.8M179.25 355h0.8M172.75 353.75h0.8M192.25 354h0.8M177.75 363.25h0.8M164.75 362.5h0.8M162 357.5h0.8M182.25 363.5h0.8M176.25 353.5h0.8M174 363.25h0.8M170 358.25h0.8M176.5 363h0.8M166.5 352.5h0.8M169 359.5h0.8M172.25 361h0.8M183 356.75h0.8M176.25 355h0.8M173.75 362.25h0.8M165.25 366.75h0.8M166.25 359.5h0.8M179 361h0.8M173.5 355.75h0.8M189.5 354.75h0.8M174 359.5h0.8M174.5 357.5h0.8M167.5 355h0.8M165.25 365.25h0.8M187.75 356.75h0.8M174.75 357.75h0.8M173 369.75h0.8M176 361.5h0.8M179 357.5h0.8M174.75 359.5h0.8M180 361h0.8M186.75 353.75h0.8M178.5 363h0.8M168.75 359.5h0.8M179 359.25h0.8M173.25 360.75h0.8M195.25 351.5h0.8M165.25 362.25h0.8M158 359.75h0.8M159.5 369.5h0.8M180 356.5h0.8M153.75 357.5h0.8M169 376.75h0.8M161.25 362.25h0.8M181.25 360.5h0.8M169.75 357h0.8M181.75 356.25h0.8M159.5 358.75h0.8M170.5 368h0.8M170 350.5h0.8M171.75 364.25h0.8M165 358.25h0.8M163.25 363h0.8M173.25 356.25h0.8M175.5 361.5h0.8M168 360.25h0.8M178.5 356.5h0.8M161 365.5h0.8M173.5 361.5h0.8M177.25 367h0.8M164.5 372.5h0.8M178.5 362h0.8M166.25 361.25h0.8M173.25 361.75h0.8M159.75 362.25h0.8M160 374.25h0.8M167.25 357.25h0.8M170 363.5h0.8M182.25 360.5h0.8M158.75 360.75h0.8M175.75 359.25h0.8M179.5 354.75h0.8M168.25 349.25h0.8M173.5 362.75h0.8M174 354.5h0.8M173.25 359.25h0.8M165.25 358.25h0.8M176 362.25h0.8M188.5 350.25h0.8M172 364.25h0.8M170.75 364.25h0.8M160.25 372h0.8M181.75 357.75h0.8M162.25 359.75h0.8M168.75 368h0.8M169.75 361.5h0.8M178 356h0.8M165.25 349h0.8M182.5 365.25h0.8M173.75 354h0.8M177.25 356.75h0.8M150.25 363.25h0.8M156.5 361.75h0.8M165 366h0.8M160.75 363.25h0.8M170.25 351.25h0.8M173.25 355.5h0.8M163.25 353.75h0.8M172.75 356h0.8M172.25 359.25h0.8M185.25 354.75h0.8M175.75 366.25h0.8M171.25 366.5h0.8M175 348.25h0.8M185.75 355.25h0.8M163.5 360.25h0.8M175.25 360h0.8M175.5 355.5h0.8M169.25 357.75h0.8M169.25 369.25h0.8M174.75 358.5h0.8M174 350.5h0.8M171.5 356.75h0.8M167.25 368.25h0.8M176 362h0.8M168.75 361h0.8M174 362.25h0.8M175.25 361.25h0.8M167.75 363.25h0.8M177.75 361h0.8M171.25 361h0.8M173.25 361h0.8M172.75 356.5h0.8M169.5 360.75h0.8M161.25 348.75h0.8M172.25 357.25h0.8M176.25 361.75h0.8M176 357h0.8M172.5 350h0.8M177 353.25h0.8M167.5 363.25h0.8M167 355.75h0.8M170 354.5h0.8M178.5 351.75h0.8M174 365h0.8M178.75 370.25h0.8M182.25 358.75h0.8M164.25 364.75h0.8M184.75 361.5h0.8M179 361.25h0.8M173 361.5h0.8M176.75 358.5h0.8M183 352h0.8M183 353.75h0.8M164.5 359.75h0.8M166.25 359.5h0.8M180.25 364.25h0.8M182.25 353h0.8M178.25 365h0.8M184.5 366h0.8M172.75 354h0.8M168.5 371h0.8M170.75 360.75h0.8M168.25 355.5h0.8M187.5 363h0.8M176 362.25h0.8M167.25 360h0.8M170.5 365.25h0.8M183 353.75h0.8M160.5 366.75h0.8M189 349.75h0.8M189 357h0.8M173.75 350.5h0.8M170 352h0.8M181.75 369.5h0.8M174.5 355h0.8M168.25 359.75h0.8M176.5 366.25h0.8M174.5 359.5h0.8M164 356.5h0.8M175.25 358h0.8M172.75 362h0.8M185.5 351h0.8M180.25 362.75h0.8M167.75 353.5h0.8M163.5 362.5h0.8M175 360.75h0.8M180.5 363h0.8M186.5 365h0.8M173.5 360h0.8M164.75 355h0.8M172 353.5h0.8M183.5 352.5h0.8M186.25 352h0.8M173.75 365h0.8M178.75 365.5h0.8M167.5 364.75h0.8M170.75 362.5h0.8M161.25 357.5h0.8M171.75 362h0.8M163.75 356.5h0.8M158 360h0.8M186 352.75h0.8M155.75 356h0.8M163.75 359h0.8M176.75 363.25h0.8M170.25 363.5h0.8M173.75 362.75h0.8M183.25 361.25h0.8M160.75 366.25h0.8M167.75 348h0.8M176.75 357h0.8M160.75 351.75h0.8M178 359.75h0.8M179 358.25h0.8M189 351.5h0.8M174.25 359.5h0.8M188.5 362.5h0.8M170.5 366.5h0.8M169.25 364.75h0.8M158.25 353h0.8M182.25 359.25h0.8M168.25 351h0.8M168.25 357.25h0.8M179.75 358.25h0.8M156.25 359.25h0.8M163.25 357.75h0.8M164.75 367.5h0.8M182.75 355.75h0.8M166 355.75h0.8M176 370.75h0.8M182 359.75h0.8M182.5 353.75h0.8M169.75 362.5h0.8M165.75 367.75h0.8M167.25 353.75h0.8M181 355.75h0.8M173 367h0.8M184.75 352.75h0.8M181.5 349h0.8M185.75 357.25h0.8M176 367h0.8M175 349h0.8M177.75 363.25h0.8M184.25 365.25h0.8M169 353.5h0.8M160 359.75h0.8M169 361.5h0.8M186.75 353.25h0.8M163 362h0.8M176.25 362.5h0.8M186 359h0.8M175.25 354.75h0.8M178 363.75h0.8M173 368.5h0.8M174.75 363.25h0.8M161.5 368.5h0.8M172 357h0.8M175.75 360h0.8M166 354h0.8M178 362h0.8M175 357.5h0.8M169.5 350h0.8M168.5 356.5h0.8M169.5 347.75h0.8M162.25 359.25h0.8M156.5 356h0.8M185.5 355h0.8M169.5 360.5h0.8M165 361.75h0.8M168.25 354.75h0.8M174.75 362.5h0.8M172 352.5h0.8M173.5 355.75h0.8M170 361h0.8M178.25 362.5h0.8M173.75 372.75h0.8M182.5 361h0.8M189.75 361.5h0.8M188.25 362.25h0.8M171.75 364.5h0.8M184.25 361h0.8M185.75 359.75h0.8M167 360h0.8M164.25 354.5h0.8M191.75 359.5h0.8M182.75 350h0.8M180 355.25h0.8M180.75 361.75h0.8M183.75 352.5h0.8M185.75 362h0.8M175.75 353h0.8M161.5 353.25h0.8M161.75 366.75h0.8M159.5 358.5h0.8M175.75 356h0.8M179.5 364.5h0.8M170.5 363.75h0.8M182.75 357h0.8M182.25 357h0.8M176.75 363.75h0.8M172 358.75h0.8M180 363.5h0.8M166.75 367.5h0.8M176 360h0.8M184.5 351.75h0.8M165.25 355.25h0.8M176 361.5h0.8M162.5 364.75h0.8M164.5 363h0.8M193 360.75h0.8M175.5 364.25h0.8M168.5 365h0.8M177.5 352.75h0.8M178.5 360.5h0.8M173.5 359.75h0.8M191 359.5h0.8M179.5 348.75h0.8M172.25 364.5h0.8M176 358h0.8M167 363h0.8M171.25 351.25h0.8M195.25 353.25h0.8M157.25 355.5h0.8M168.5 358.25h0.8M167 360.75h0.8M185 351h0.8M184.5 361.25h0.8M163 354.25h0.8M181.75 363h0.8M181.5 361h0.8M169.5 364.25h0.8M166.25 364.75h0.8M182.5 361.25h0.8M186.25 360h0.8M183.5 358.25h0.8M188.25 355.75h0.8M185.75 353h0.8M165.25 363h0.8M173.25 357h0.8M169 365.5h0.8M179.25 363.25h0.8M171.5 362.25h0.8M165.5 358h0.8M182 362h0.8M177 365.5h0.8M170 368.25h0.8M173.25 359h0.8M168.25 368.5h0.8M168.25 368.75h0.8M183.75 347h0.8M172.5 353.75h0.8M170.25 360.25h0.8M173 363.5h0.8M175.75 349.25h0.8M162.5 355h0.8M163.75 365h0.8M173 360h0.8M156.5 362h0.8M155.75 363.75h0.8M169.5 363h0.8M179.75 362.75h0.8M172.75 362h0.8M168.75 373.25h0.8M174 353.5h0.8M176.25 365h0.8M169.5 367h0.8M173.25 367h0.8M173.25 354.75h0.8M177.25 365.5h0.8M157 358.25h0.8M176 353h0.8M159 363.25h0.8M169.75 359h0.8M171 361.75h0.8M164.75 353h0.8M171.5 358.25h0.8M172.5 360h0.8M166 352.5h0.8M179.75 366h0.8M178.25 359h0.8M178.5 356.25h0.8M159.75 352.25h0.8M173.25 353.25h0.8M166.75 363.5h0.8M183.75 364.75h0.8M159.25 361.5h0.8M167.75 361.25h0.8M174.25 362h0.8M170.25 353.5h0.8M159 373h0.8M169.5 364.25h0.8M176 363h0.8M175.25 365.5h0.8M166.25 364h0.8M176.75 354h0.8M165 357.25h0.8M183.75 354.25h0.8M180.25 355.25h0.8M176.5 362h0.8M174.75 356.5h0.8M172 370h0.8M186.5 359.25h0.8M169.75 362.75h0.8M188.5 351.75h0.8M175.5 361.75h0.8M170.5 359.25h0.8M180.25 356h0.8M173 361h0.8M163.25 362.25h0.8M184.25 362.75h0.8M158 362.25h0.8M187.25 350.5h0.8M167 362.75h0.8M167.25 356.5h0.8M168 361.75h0.8M176.5 360.5h0.8M159.25 353.75h0.8M180 357h0.8M175.25 361h0.8M187.5 362h0.8M170.25 364.5h0.8M180 365.75h0.8M184.25 369.5h0.8M193 356.25h0.8M166.75 364.25h0.8M167.5 360.75h0.8M181.75 353.75h0.8" stroke="#000" stroke-width="0.8" stroke-opacity="0.5" fill="none"/>
<path d="M157.5 368h0.8M162.5 362.5h0.8M171.5 373.5h0.8M169.75 376.5h0.8M167.25 381.25h0.8M169.5 375.5h0.8M164.25 373.25h0.8M166.5 365h0.8M169.75 366.25h0.8M173.5 362.5h0.8M157.5 377.5h0.8M171.75 369.25h0.8M157.75 367.5h0.8M169.75 380.75h0.8M164.75 379.5h0.8M158.75 379h0.8M172 367.25h0.8M175.75 371.25h0.8M164 369h0.8M173.25 368h0.8M164.25 370h0.8M167.5 364.5h0.8M176 380h0.8M167.75 373.25h0.8M167.25 365.5h0.8M170.25 365.75h0.8M160 368h0.8M170.5 368.5h0.8M173 374.5h0.8M173.75 378h0.8M165.5 374.75h0.8M172 372.75h0.8M165.5 373.75h0.8M169.25 374.75h0.8M167.75 368.25h0.8M160.25 370.5h0.8M178.25 372h0.8M168.5 367h0.8M170.25 371.5h0.8M169.25 369.75h0.8M162.5 366.5h0.8M165 366.25h0.8M162.25 372.5h0.8M168.25 368.5h0.8M167.5 376.5h0.8M161.75 374.25h0.8M157 379h0.8M171 381.75h0.8M178.25 371.75h0.8M171.75 373.25h0.8M157.5 375.75h0.8M172.5 375h0.8M169.75 365h0.8M164.5 352.25h0.8M169.5 367h0.8M165 376.25h0.8M168.25 356.75h0.8M173.75 363.5h0.8M161.5 365.75h0.8M175 364.25h0.8M170 373.75h0.8M156.25 377.75h0.8M164.25 379.25h0.8M165.75 378.25h0.8M179.75 359.75h0.8M161.5 367.75h0.8M173.5 379.25h0.8M169 373.25h0.8M172.5 366h0.8M164.75 371.5h0.8" stroke="#000" stroke-width="0.8" stroke-opacity="0.35" fill="none"/>
<path d="M152.5 386.25h0.8M149.75 386h0.8M142.5 390.5h0.8M147.75 390.25h0.8M144 387.25h0.8M151 383h0.8M144.75 384.25h0.8M147.5 396h0.8M145.75 386.5h0.8M145.75 390h0.8M145.25 385.25h0.8M148.5 397h0.8M148 386.5h0.8M152.5 390h0.8M148.75 389h0.8M149 383.5h0.8M147 389h0.8M146.25 390.5h0.8M158.5 385h0.8M146 383.5h0.8M147.5 387.25h0.8M151.25 389.25h0.8M146.75 390h0.8M155.25 395h0.8M148.75 395h0.8M146.25 382h0.8M141.5 392.25h0.8M148.5 387h0.8M143.25 393.75h0.8M145.25 384h0.8M150.25 390.5h0.8M142.25 397.25h0.8M144.75 387.25h0.8M144.25 388h0.8M153.25 388.25h0.8M150 386.5h0.8M152 396h0.8M150.5 398.25h0.8M148 380.25h0.8M142 386.75h0.8M150.5 390.5h0.8M148.25 391h0.8M145.75 389.25h0.8M144.75 389.75h0.8M150 397.75h0.8M152.75 389.25h0.8M145.25 387.75h0.8M139.75 394.25h0.8M150.75 391.75h0.8M147.25 393h0.8M151 396h0.8M141 401.5h0.8M144.5 396.5h0.8M142.75 396h0.8M158 394.75h0.8" stroke="#000" stroke-width="0.8" stroke-opacity="0.36" fill="none"/>
<path d="M165.5 393.5h0.8M164.5 386h0.8M160.75 384.5h0.8M166.5 381.75h0.8M175.75 387h0.8M154 381.5h0.8M164.5 383.75h0.8M178.75 380h0.8M165.25 384.75h0.8M163.75 388.5h0.8M170.5 382.5h0.8M160.25 387.25h0.8M164.75 382.75h0.8M150.5 387h0.8M161 388h0.8M159.5 385h0.8M162.75 376h0.8M165.5 386.75h0.8M164.25 385.75h0.8M178.25 375.25h0.8M156 381.75h0.8M158 382.75h0.8M153.25 383.5h0.8M169.5 381.75h0.8M171 389.5h0.8M172.5 386.5h0.8M147.5 384.5h0.8M142.75 377.5h0.8M171 371h0.8M171.25 382.25h0.8M171.25 392.25h0.8M164.5 380h0.8M170.75 378.75h0.8M165.5 385h0.8M175 376.5h0.8M167 394.75h0.8M163.75 395h0.8M173.75 377h0.8M170 387h0.8M158.75 384h0.8M148.5 393.75h0.8M169.75 383.75h0.8M173 392.75h0.8M164 385h0.8M170.75 384.5h0.8M181.25 390.5h0.8M167 383.25h0.8M146 379.75h0.8M184.75 385h0.8M176.5 375.25h0.8" stroke="#000" stroke-width="0.8" stroke-opacity="0.3" fill="none"/>
</g>
<rect x="132.2" y="345.2" width="69.8" height="63.3" fill="none" stroke="#262626" stroke-width="1.1"/>
<line x1="155.1" y1="345.2" x2="155.1" y2="408.5" stroke="#262626" stroke-width="1"/>
<line x1="132.2" y1="380.5" x2="202" y2="380.5" stroke="#262626" stroke-width="1"/>
<text class="tk" transform="translate(130 347.2) scale(0.36 0.5)" font-size="8" text-anchor="end">10<tspan dy="-3.5" font-size="6.5">4</tspan></text>
<text class="tk" transform="translate(132.8 413.9) scale(0.4 0.38)" font-size="8" text-anchor="middle">10<tspan dy="-3.5" font-size="6.5">0</tspan></text>
<text class="tk" transform="translate(130 363.02) scale(0.36 0.5)" font-size="8" text-anchor="end">10<tspan dy="-3.5" font-size="6.5">3</tspan></text>
<text class="tk" transform="translate(150.25 413.9) scale(0.4 0.38)" font-size="8" text-anchor="middle">10<tspan dy="-3.5" font-size="6.5">1</tspan></text>
<text class="tk" transform="translate(130 378.85) scale(0.36 0.5)" font-size="8" text-anchor="end">10<tspan dy="-3.5" font-size="6.5">2</tspan></text>
<text class="tk" transform="translate(167.7 413.9) scale(0.4 0.38)" font-size="8" text-anchor="middle">10<tspan dy="-3.5" font-size="6.5">2</tspan></text>
<text class="tk" transform="translate(130 394.68) scale(0.36 0.5)" font-size="8" text-anchor="end">10<tspan dy="-3.5" font-size="6.5">1</tspan></text>
<text class="tk" transform="translate(185.15 413.9) scale(0.4 0.38)" font-size="8" text-anchor="middle">10<tspan dy="-3.5" font-size="6.5">3</tspan></text>
<text class="tk" transform="translate(130 410.5) scale(0.36 0.5)" font-size="8" text-anchor="end">10<tspan dy="-3.5" font-size="6.5">0</tspan></text>
<text class="tk" transform="translate(202.6 413.9) scale(0.4 0.38)" font-size="8" text-anchor="middle">10<tspan dy="-3.5" font-size="6.5">4</tspan></text>
<text x="199" y="377.7" font-size="14" text-anchor="end" font-weight="normal" fill="#1c1c1c" textLength="15.2" lengthAdjust="spacingAndGlyphs">96</text>
<clipPath id="cp5"><rect x="212.4" y="270.9" width="69.8" height="63.3"/></clipPath>
<g clip-path="url(#cp5)">
<ellipse cx="0" cy="0" rx="14.5" ry="7.6" transform="translate(254.4 285.5) rotate(-46)" fill="#000" fill-opacity="0.22" filter="url(#b2)"/>
<ellipse cx="0" cy="0" rx="7" ry="4.4" transform="translate(224.8 315.7) rotate(-58)" fill="#000" fill-opacity="0.26" filter="url(#b2)"/>
<ellipse cx="0" cy="0" rx="7" ry="3.2" transform="translate(240.4 300.4) rotate(-42)" fill="#000" fill-opacity="0.16" filter="url(#b2)"/>
<ellipse cx="0" cy="0" rx="3.2" ry="1.9" transform="translate(224.8 315.7) rotate(-58)" fill="#000" fill-opacity="0.42" filter="url(#b1)"/>
<ellipse cx="0" cy="0" rx="9.4" ry="5.6" transform="translate(256 283.5) rotate(-46)" fill="#000" fill-opacity="0.78" filter="url(#b1)"/>
<ellipse cx="0" cy="0" rx="4.8" ry="3.4" transform="translate(248.9 291.7) rotate(-46)" fill="#000" fill-opacity="0.6" filter="url(#b1)"/>
<path d="M253.25 291h0.85M257 275.25h0.85M247 287.5h0.85M250.75 277.5h0.85M260 273.75h0.85M259.5 284h0.85M255.75 284h0.85M259.25 290h0.85M260.25 278.25h0.85M254 285.5h0.85M245.5 291.75h0.85M257.25 289h0.85M255.25 279.25h0.85M251.75 291h0.85M259.75 283.75h0.85M257 284.25h0.85M261 287.75h0.85M253.5 281h0.85M261.75 281.5h0.85M258.25 288.25h0.85M256.5 279.25h0.85M256.5 291.25h0.85M256.75 276.5h0.85M256.25 293h0.85M270 274.75h0.85M254.75 283h0.85M263.5 283.75h0.85M257.25 281.25h0.85M246.75 286.25h0.85M246.5 283.5h0.85M256.75 280.5h0.85M266 278.5h0.85M261.25 288.25h0.85M259.25 278.75h0.85M254.5 281.5h0.85M253.75 285.5h0.85M253.5 284.25h0.85M255.5 284.5h0.85M261 277.25h0.85M256 286.5h0.85M254.25 279.75h0.85M254.5 284.25h0.85M255 288.75h0.85M256 280.5h0.85M261.75 279.5h0.85M257 284h0.85M261.5 281.5h0.85M254 287.25h0.85M254.75 283.25h0.85M257.5 287.5h0.85M263 289.5h0.85M256 288.25h0.85M259.75 277.75h0.85M259.25 285.75h0.85M263.25 275.25h0.85M256.25 285h0.85M258 279.5h0.85M261 281h0.85M254 280.75h0.85M253.5 275h0.85M247.5 283.25h0.85M254 284.5h0.85M253 283.25h0.85M254.25 275.5h0.85M250.75 290.75h0.85M262 279.25h0.85M246.5 284h0.85M259.25 281.75h0.85M253 279.75h0.85M247.75 296h0.85M265.5 278h0.85M259.5 282.25h0.85M254.5 283.5h0.85M254.25 281h0.85M254.25 278.75h0.85M260.25 288h0.85M260 275h0.85M261.25 281.25h0.85M261.25 280.5h0.85M258 287.5h0.85M257.5 276h0.85M255.5 282.25h0.85M252 288h0.85M249.5 279.75h0.85M264.25 275.5h0.85M256 284.5h0.85M250.25 285.25h0.85M262 275h0.85M250 291.5h0.85M257.75 277.75h0.85M256.75 289.25h0.85M256.5 276.5h0.85M253.25 284.25h0.85M252 281h0.85M252.5 281.75h0.85M259.5 280.75h0.85M253.25 284.75h0.85M256.5 287.75h0.85M259.75 283h0.85M249.25 294h0.85M254.5 282.75h0.85M253.25 292.25h0.85M262.25 277h0.85M253.5 282.25h0.85M259.75 280h0.85M256.5 289.5h0.85M258.75 282h0.85M255 283h0.85M251.5 285.5h0.85M256 287.75h0.85M255.75 291.25h0.85M259 277.25h0.85M248.5 282.5h0.85M261.25 281.5h0.85M263.5 277.25h0.85M257 281h0.85M252.75 290.25h0.85M254.5 284.75h0.85M254.25 288h0.85M246 287.5h0.85M262 280.25h0.85M252.75 288h0.85M260.25 284.25h0.85M263 281.25h0.85M258.5 290.5h0.85M257.75 285h0.85M262.25 284.5h0.85M256.25 274.75h0.85M250 289h0.85M255.25 289h0.85M265.5 280.25h0.85M253.25 289h0.85M261.75 281.25h0.85M266.75 286h0.85M260.5 281h0.85M259.25 281.75h0.85M254.5 285h0.85M249.75 284.75h0.85M254 281h0.85M252 284.25h0.85M244.5 281.75h0.85M262 284h0.85M255 280.75h0.85M261.5 279.5h0.85M250.25 289h0.85M254 281h0.85M254.5 277.75h0.85M258 285.25h0.85M249.75 292.75h0.85M257.25 277.75h0.85M250.75 287.75h0.85M255.5 283h0.85M251.75 282h0.85M246.75 289.25h0.85M261.75 281.5h0.85M258.25 280h0.85M252.25 284.75h0.85M253 279.5h0.85M258.5 283h0.85M255.75 288.25h0.85M253.25 275h0.85M254 285h0.85M248 294.75h0.85M261.25 280.75h0.85M259 287.5h0.85M257 284h0.85M260.75 284.25h0.85M251.5 292.75h0.85M261 285.5h0.85M256.5 282.5h0.85M253.25 286.5h0.85M255 287.25h0.85M254.25 281.5h0.85M258.5 280.5h0.85M257.75 288.5h0.85M258.75 282.75h0.85M256.25 289.75h0.85M255.25 278.25h0.85M258 287.75h0.85M259.5 279.25h0.85M257.25 283h0.85M248.25 295h0.85M260.5 276.25h0.85M258.75 285.5h0.85M259.5 285h0.85M255.5 282.75h0.85M253 286.25h0.85M247.75 286h0.85M254 281h0.85M256.25 282.75h0.85M256.75 285.5h0.85M251.5 283h0.85M254.5 284.25h0.85M264 280.5h0.85M246 284.75h0.85M252.5 290h0.85M250.75 293.25h0.85M257.5 287.5h0.85M254.5 280.25h0.85M254.75 285.75h0.85M260 278h0.85M254 286.25h0.85M254 288h0.85M259.75 284h0.85M255.25 290h0.85M271 275h0.85M256 283h0.85M250.75 291.25h0.85M265.5 276.25h0.85M257.25 281.75h0.85M257.25 294h0.85M258.5 288.75h0.85M256 283.25h0.85M252.75 287.5h0.85M255.75 281.75h0.85M255 283.5h0.85M250.75 285.5h0.85M255.25 277.25h0.85M254.5 289.75h0.85M252 291.5h0.85M261.25 277h0.85M261.5 282.75h0.85M246.5 291.25h0.85M256.5 287.5h0.85M251 282.25h0.85M250.75 289.25h0.85M257.25 284.25h0.85M252.5 289.5h0.85M253 281.75h0.85M256.25 294.25h0.85M257.5 280.25h0.85M256.5 279.5h0.85M264.25 277.75h0.85M245.75 292.25h0.85M255.25 285h0.85M253.5 290.75h0.85M260.25 286.5h0.85M260.5 286.25h0.85M262.5 277.25h0.85M259.5 284.5h0.85M257.75 281.25h0.85M268.5 276.5h0.85M255 278.5h0.85M251 287.75h0.85M247.75 284.75h0.85M260.25 282.75h0.85M253.5 286h0.85M262.75 281h0.85M263 275.5h0.85M256.5 287h0.85M263.25 275.5h0.85M254 284.25h0.85M263.5 281.75h0.85M254.75 290.25h0.85M262.5 283.5h0.85M254 285.5h0.85M259.5 282.5h0.85M254 289.5h0.85M258 280.5h0.85M260.5 284.5h0.85M256.25 283.75h0.85M251.75 287.75h0.85M250.75 284h0.85M261 280.5h0.85M258 282.75h0.85M257.25 273.75h0.85M261.25 276h0.85M250.5 285.5h0.85M252.25 286.75h0.85M257.25 278.25h0.85M258 279h0.85M259.5 287h0.85M252 282.25h0.85M257.25 284.25h0.85M253.5 284h0.85M256.25 278.75h0.85M253.5 282.25h0.85M257.5 280h0.85M257.5 282h0.85" stroke="#000" stroke-width="0.85" stroke-opacity="0.6" fill="none"/>
<path d="M247.5 290.5h0.85M250.75 288.25h0.85M246.75 290.25h0.85M247.75 290.25h0.85M248.25 295.5h0.85M251 290.5h0.85M250.25 292.25h0.85M249.25 292h0.85M246.25 293.25h0.85M244.75 288.25h0.85M245.25 293h0.85M250.75 285h0.85M246 296.75h0.85M247.5 294.5h0.85M251.25 294.25h0.85M250.25 293h0.85M248.75 292.25h0.85M249 291.5h0.85M254.25 291h0.85M248.75 291.25h0.85M250.75 292.75h0.85M250.5 290.25h0.85M249.25 298.5h0.85M252.75 289.25h0.85M251.75 293h0.85M252.5 288.25h0.85M249.25 290.75h0.85M252.5 287h0.85M249.75 294.25h0.85M250.25 290.5h0.85M251.25 290.25h0.85M249.5 292.25h0.85M250.5 290.75h0.85M250.25 291h0.85M248.75 289.25h0.85M254 289.5h0.85M250.5 292h0.85M253.5 288.5h0.85M247 295h0.85M244.75 295.75h0.85M250.25 287h0.85M245.25 294.5h0.85M252.75 293.75h0.85M248.5 292.25h0.85M249.75 297.25h0.85M249.25 292.75h0.85M251 289.25h0.85M246.5 293h0.85M250 293h0.85M250.25 288.75h0.85M246.25 290.5h0.85M252.25 294.75h0.85M249.5 290.25h0.85M252.75 289h0.85M253.75 291.5h0.85M246.5 294.5h0.85M250.5 294h0.85M249 292h0.85M244.25 295.25h0.85M246.25 291.5h0.85M249 291h0.85M250.75 292.5h0.85M250 290.75h0.85M248 289.5h0.85M247.25 291.75h0.85M251 285.75h0.85M249 293.25h0.85" stroke="#000" stroke-width="0.85" stroke-opacity="0.6" fill="none"/>
<path d="M254.75 289.5h0.8M252.25 294.5h0.8M248.75 276.25h0.8M243 288.75h0.8M252.5 285h0.8M259.25 285h0.8M260 282.75h0.8M245.5 284.5h0.8M249.75 293h0.8M245.5 286.25h0.8M251.75 291h0.8M247 291.75h0.8M262 283.25h0.8M245.5 294.5h0.8M260.5 296h0.8M249 281.5h0.8M251.5 288.25h0.8M255 289.75h0.8M253 287h0.8M259.75 280h0.8M247.25 304.25h0.8M255 289.5h0.8M247.75 293.25h0.8M257.25 274.75h0.8M269 277h0.8M256.25 281.5h0.8M253.25 272.5h0.8M256.75 292h0.8M250.5 276.5h0.8M241.5 290h0.8M249.25 285h0.8M259.25 278h0.8M269.5 279.25h0.8M252.5 296h0.8M258.5 273.25h0.8M250.25 283.75h0.8M249.25 290.25h0.8M254 280.25h0.8M248.25 296h0.8M266.25 280.75h0.8M245.5 291.25h0.8M251 284.25h0.8M257.75 275.5h0.8M254.75 287.75h0.8M256.25 285.25h0.8M256 287.25h0.8M257 283h0.8M259.5 283h0.8M260.5 282.25h0.8M258.75 283.25h0.8M248.75 288h0.8M251 284.25h0.8M250 285.25h0.8M252.25 289.75h0.8M278.25 274h0.8M255.25 285h0.8M252.75 285.5h0.8M259.75 282.75h0.8M259.75 286.25h0.8M255 289.75h0.8M252.5 280.5h0.8M258.75 274.5h0.8M257 277.75h0.8M255 292.5h0.8M257.25 282.25h0.8M244.75 283.5h0.8M251.75 287h0.8M260 279.5h0.8M258.75 277.25h0.8M263 282.25h0.8M256.5 288.75h0.8M245.5 290h0.8M248.75 284.75h0.8M251.25 279.25h0.8M264.75 274h0.8M255.5 283h0.8M252.25 288.25h0.8M255.5 286.75h0.8M256.25 277.75h0.8M243 292.5h0.8M249.5 276.75h0.8M257.75 282.5h0.8M248.5 293h0.8M259.75 279h0.8M259.75 283.75h0.8M265.5 282h0.8M250.25 288.25h0.8M251.75 281.25h0.8M257 285.25h0.8M250.5 276.75h0.8M243 280h0.8M255.5 284h0.8M262.5 283h0.8M249.5 289.75h0.8M258.5 286.25h0.8M260.75 277.5h0.8M249.75 295.5h0.8M247.75 280h0.8M253 280.75h0.8M259.25 288.5h0.8M252 282.5h0.8M256.5 281.25h0.8M259 287.25h0.8M258 285h0.8M255.25 285.5h0.8M246.75 288h0.8M265 283h0.8M251.25 293h0.8M257.25 277h0.8M260.75 282.5h0.8M267.5 283.5h0.8M256.5 285.75h0.8M251.25 290.5h0.8M254.5 283.75h0.8M258.75 286.75h0.8M262.75 281.75h0.8M254 285.25h0.8M251.5 285.5h0.8M246.5 291.5h0.8M260.25 276.25h0.8M256.5 286.25h0.8M251.75 281.5h0.8M256.25 291.25h0.8M247.25 284.5h0.8M266 274.25h0.8M243.25 285h0.8M246.5 284.5h0.8M257.5 288.5h0.8M258.25 279h0.8M257.25 279.5h0.8M243.5 301.25h0.8M247.5 286h0.8M260.75 279.25h0.8M263.25 282.75h0.8M259 280h0.8M266.75 285.25h0.8M252.25 283.5h0.8M263.5 283.5h0.8M256 279.25h0.8M251 279h0.8M265 282.25h0.8M256.25 287.5h0.8M253.75 286.5h0.8M255.5 283h0.8M257.75 275.75h0.8M256.5 283h0.8M253.5 292h0.8M264 284.5h0.8M254 278.75h0.8M260.75 280.75h0.8M254.75 285.75h0.8M257 274.75h0.8M262.25 279.25h0.8M252 303.75h0.8M240 293.25h0.8M252.25 290.75h0.8M252.25 287h0.8M252.75 290.5h0.8M265.5 285.5h0.8M244.5 290.5h0.8M250.25 286.5h0.8M256.5 287.5h0.8M249.5 286h0.8M266.75 282h0.8M272.25 280.5h0.8M255.75 293.25h0.8M259 280.25h0.8M256.5 279h0.8M248.25 290h0.8M245.5 291.75h0.8M252.25 280.75h0.8M244.5 282.25h0.8M248.5 291h0.8M252 288.75h0.8M250 286.5h0.8M251.75 299.5h0.8M256.75 288.75h0.8M247 285.25h0.8M255.25 281.5h0.8M257 287h0.8M261.25 283.75h0.8M249.75 277.25h0.8M263 286.75h0.8M260.75 285.75h0.8M259.75 283.5h0.8M253.5 276.25h0.8M243.75 297h0.8M260.5 282.75h0.8M252 284.5h0.8M250.75 291.5h0.8M259.5 285h0.8M258.75 289.25h0.8M255 292.25h0.8M255.75 293.75h0.8M257.25 275.75h0.8M254.75 278.25h0.8M269 277.75h0.8M257 285.25h0.8M253.5 283.25h0.8M249 290.5h0.8M262 280h0.8M265 281.25h0.8M255.25 278.5h0.8M248.5 288.75h0.8M237.75 292h0.8M260.25 288.5h0.8M268 272.5h0.8M261.75 280.25h0.8M253.5 292.75h0.8M257.25 286.75h0.8M243.75 294h0.8M260 278.25h0.8M258.25 287.5h0.8M268 280.75h0.8M254.25 282h0.8M258.5 277h0.8M245.75 288.75h0.8M252.5 282.5h0.8M254.25 292.5h0.8M245 287h0.8M257.75 286.25h0.8M249 284.25h0.8M258.5 273h0.8M266.5 277h0.8M255 281h0.8M269 279.75h0.8M256.75 284.75h0.8M254.25 290.5h0.8M256 288h0.8M246.5 297h0.8M262 279h0.8M262 272.75h0.8M263 278h0.8M258 285.25h0.8M256 283.75h0.8M260.25 279.75h0.8M254.25 287.75h0.8M258.25 277.25h0.8M256.5 282.75h0.8M252.75 287.75h0.8M261 282.75h0.8M261.5 276.25h0.8M251.75 293.75h0.8M245.75 296.75h0.8M263.5 280.75h0.8M255.75 283h0.8M256.25 290.25h0.8M242.75 290h0.8M252.25 286.75h0.8M257.75 280.5h0.8M254.25 282.25h0.8M264.5 281h0.8M250.25 297.5h0.8M258 282.75h0.8M262 281h0.8M258.5 284.75h0.8M247.5 296h0.8M253 280h0.8M254.75 289.5h0.8M250 283.75h0.8M252.5 284h0.8M260.5 287.5h0.8M267 272.75h0.8M255 278.25h0.8M261.25 282h0.8M254.75 290.25h0.8M253 288.25h0.8M257.5 283h0.8M259 284h0.8M253.25 288.5h0.8M263 283.5h0.8M249.75 287.75h0.8M249 282.75h0.8M264.5 288h0.8M251.5 286.75h0.8M253.25 286.5h0.8M257.5 295.5h0.8M252.5 292.5h0.8M261.5 279.25h0.8M241.75 303.25h0.8M257.5 281.75h0.8M254.5 280.5h0.8M247.5 287.5h0.8M258 286.25h0.8M265.5 272.5h0.8M249.75 297h0.8M250 283.5h0.8M253.25 274.5h0.8M254.75 297.75h0.8M254.5 289h0.8M258.75 273h0.8M260.5 287.5h0.8M265.25 284h0.8M276.5 276.75h0.8M257.5 278.5h0.8M258.25 277.5h0.8M240.75 290h0.8M255.75 284h0.8M256.25 291.25h0.8M252.5 282.75h0.8M255.5 284.5h0.8M258.75 280.75h0.8M259.25 277.75h0.8M256.75 287.25h0.8M252 289.5h0.8M260.25 286.75h0.8M246.5 302.75h0.8M254 286.75h0.8M265.25 278.25h0.8M246.75 291.5h0.8M258.75 279.25h0.8M260.75 285.25h0.8M244.25 291.25h0.8M256.5 290.25h0.8M261.25 287.25h0.8M252.25 279h0.8M255.5 280h0.8M252 277.5h0.8M256.5 276.75h0.8M256.25 289.75h0.8M251.25 283h0.8M262.75 275h0.8M260.75 278.75h0.8M245 294.25h0.8M257.25 281.75h0.8M253.75 290.75h0.8M264.75 280.75h0.8M251.5 291h0.8M264.5 287.5h0.8M269.25 273.75h0.8M261.75 283.25h0.8M256 286h0.8M258.25 282.75h0.8M259.5 280.75h0.8M256.25 291.5h0.8M258.25 276.75h0.8M256 278.25h0.8M255 280.25h0.8M253.75 289.25h0.8M253.25 292.25h0.8M263.75 274.5h0.8M252.75 290h0.8M249.25 281h0.8M268.75 277h0.8M260.75 282h0.8M256 288.5h0.8M253.75 289.25h0.8M251 289.5h0.8M238 299.25h0.8M258 282.75h0.8M259 284.5h0.8M263.5 273h0.8M237.5 306.75h0.8M256.75 283.25h0.8M265 285.5h0.8M254.25 279.75h0.8M257.25 278h0.8M243.75 289.75h0.8M251 280h0.8M255 288.25h0.8M247.25 301.5h0.8M266 272.5h0.8M254.25 284.25h0.8M239.75 302h0.8M246.75 292.75h0.8M246.75 287.75h0.8M248 285.25h0.8M247.5 301h0.8M252.5 293.75h0.8M258.5 279.25h0.8M256 284.5h0.8M259.75 283h0.8M253.75 286h0.8M258.5 276h0.8M239.25 287.25h0.8M256.75 289.75h0.8M253.5 280.75h0.8M255.5 283.5h0.8M263 282h0.8M258 282.5h0.8M259.5 279h0.8M267.5 282h0.8M265.75 285.25h0.8M253.75 289.75h0.8M254.5 280.75h0.8M256.75 282.25h0.8M258.5 282.5h0.8M258.25 279.5h0.8M258.5 287.5h0.8M263.25 277.75h0.8M249 297.5h0.8M255.5 277.5h0.8M239.25 290.75h0.8M252.75 299.5h0.8M252.5 286.5h0.8M264.5 285.25h0.8M256 283.5h0.8M265.75 283h0.8M255 281.25h0.8M252.5 293.5h0.8M248.25 288.25h0.8M239.5 293h0.8M257 279.25h0.8M259.25 279.75h0.8" stroke="#000" stroke-width="0.8" stroke-opacity="0.5" fill="none"/>
<path d="M241 303.25h0.8M241.75 298.25h0.8M246.5 291.25h0.8M236.75 303.75h0.8M238.25 295.5h0.8M240 300h0.8M238.25 303.25h0.8M233 308.75h0.8M250.25 299.75h0.8M237.75 306.5h0.8M235.25 299.25h0.8M240 297.75h0.8M237.5 300h0.8M243.5 297.25h0.8M244 298.25h0.8M243.75 297.75h0.8M237.5 305.5h0.8M240 301h0.8M242.5 299h0.8M237.5 300.75h0.8M237 302.5h0.8M243.25 294.75h0.8M246 301.75h0.8M235.5 305.25h0.8M242.5 297.75h0.8M240.5 303h0.8M241.5 300.25h0.8M239 306.25h0.8M249.75 291h0.8M242.5 296.5h0.8M247.75 295.25h0.8M242.5 298.25h0.8M237.75 303.75h0.8M240 294.25h0.8M238.75 295.25h0.8M248.75 293.5h0.8M242.5 295.75h0.8M250.5 293h0.8M241.75 298.5h0.8M237.25 302h0.8M238 298.25h0.8M243.5 291.75h0.8M245.75 300.25h0.8M243.5 299h0.8M238 299h0.8M246.75 289.5h0.8M241.5 295.5h0.8M245.25 298.5h0.8M246.75 294.75h0.8M241.25 298.5h0.8M241.75 299h0.8M245 295.75h0.8M245 304.75h0.8M236.75 304.25h0.8M250.25 286.75h0.8M248.25 294h0.8M247.5 296.5h0.8M237 307h0.8M237.5 297.5h0.8M242 295.25h0.8M241.5 300.75h0.8M236.75 306.75h0.8M245.25 296.5h0.8M245.5 295.5h0.8M247.5 292.5h0.8M243.75 300h0.8M241 294.25h0.8M242.5 303h0.8M236.75 298.25h0.8M241.75 295.5h0.8M246 293h0.8M228.75 306.25h0.8M235.75 302.25h0.8M243 298.25h0.8M244 294h0.8M240.25 302h0.8M245.25 299h0.8M235.5 305.5h0.8M244.5 298.75h0.8M240.75 301h0.8M232.25 304h0.8M245 293h0.8M247 302.5h0.8M232.5 303.75h0.8M242.75 299.5h0.8M242.5 299h0.8M235.75 303.5h0.8M244 293.25h0.8M240.5 300h0.8M244.25 294.5h0.8" stroke="#000" stroke-width="0.8" stroke-opacity="0.4" fill="none"/>
<path d="M229 310.5h0.8M225 314.25h0.8M220.25 316.5h0.8M226.75 312.5h0.8M229 313.25h0.8M223 319.5h0.8M218.75 315.5h0.8M227.75 311.75h0.8M228 317h0.8M224.75 322h0.8M224.5 318.25h0.8M223 314h0.8M223.75 323.25h0.8M224.75 318h0.8M224.25 318h0.8M224.25 316.25h0.8M231 314.75h0.8M221 318.75h0.8M225 313.5h0.8M226.5 317.25h0.8M222.5 314h0.8M227.5 312.25h0.8M226.5 314h0.8M223 325.25h0.8M225.75 320.5h0.8M222 320.75h0.8M224.25 313.5h0.8M227.25 314.5h0.8M225 318.75h0.8M226.75 316.25h0.8M221.5 318h0.8M222.5 316.75h0.8M225.25 318h0.8M224 313h0.8M225.5 317.25h0.8M222 318.25h0.8M221.5 316h0.8M220.5 318.75h0.8M225.75 312.25h0.8M224.5 313.25h0.8M219.75 321h0.8M227.25 312.25h0.8M224.25 318.25h0.8M223.5 315h0.8M224 318.5h0.8M220 315h0.8M222.75 312.5h0.8M217 321h0.8M222.25 326.5h0.8M226.5 318.25h0.8M225 313.75h0.8M222.25 323h0.8M224 316.25h0.8M224.5 323.5h0.8M223.5 319.75h0.8M229 318.25h0.8M230.25 309.5h0.8M227 318.5h0.8M223.25 309.5h0.8M223.5 314.5h0.8M232 312.5h0.8M222 318.5h0.8M224 320h0.8M223.75 309.75h0.8M222.25 323.25h0.8M223.75 313.5h0.8M228.75 315.5h0.8M230.25 310.25h0.8M225.25 319.5h0.8M225 312.75h0.8M232.25 311.5h0.8M231 306.5h0.8M223.75 316.75h0.8M223.25 314h0.8M225.5 324h0.8M228 313h0.8M226.25 310.5h0.8M223.75 316.5h0.8M228.5 309.5h0.8M224.75 313.75h0.8M227.5 314.5h0.8M224.25 315h0.8M227.75 306.25h0.8M225 319.75h0.8M220 318.25h0.8M228.5 315h0.8M235.5 309h0.8M230.75 316.5h0.8M221.5 320.5h0.8M224.5 324h0.8M224 318.25h0.8M224.5 317.5h0.8M225.75 318h0.8M227 310.75h0.8M224.25 315.25h0.8M226.75 321.25h0.8M215.5 321h0.8M223.5 324.5h0.8M229.25 314.75h0.8M221.75 320.25h0.8M227.25 305h0.8M216.25 322h0.8M226.25 318.25h0.8M226.75 311.75h0.8M225.75 314h0.8M227.25 319.25h0.8M224.75 315h0.8M225.5 315.75h0.8M228.75 315.25h0.8M226.25 316.25h0.8M223 316h0.8M229 307h0.8M226 306h0.8M226.75 306.75h0.8M225 316h0.8M225 315.5h0.8M225.25 319.75h0.8M221.75 315.25h0.8M228.5 312.75h0.8M220.25 316.25h0.8M228 311.5h0.8M223 315.25h0.8M225.5 322.5h0.8M224.25 312.75h0.8M227.25 313.5h0.8M221.25 312.25h0.8M228 314.5h0.8M223.5 320.75h0.8M225 316.75h0.8M224.25 321h0.8M224.75 315.5h0.8M223.25 312.75h0.8M230.25 316.25h0.8M226.75 312.75h0.8M223.25 319.5h0.8M224.25 315.25h0.8M223.5 317.5h0.8M227 313h0.8M226.75 314.5h0.8M224.5 329.5h0.8M226.5 312.25h0.8M227.5 317h0.8M230.25 315.5h0.8M221.5 321.75h0.8M223.75 318.75h0.8M227 314.75h0.8M224.25 320.5h0.8M228 311.75h0.8M229 317.25h0.8M226.5 311h0.8M229.25 311.5h0.8M221 318.5h0.8M218.25 322h0.8M227.25 316.75h0.8M223.75 315.25h0.8M222.75 315.75h0.8M228.25 320h0.8M222.75 313.5h0.8M223.25 315h0.8M220.25 318.75h0.8M227.5 306.75h0.8M222.5 318.75h0.8M233 314.25h0.8M227.75 313.75h0.8M223.75 316.75h0.8M227 308.75h0.8M224.5 311.5h0.8M224.25 315.75h0.8M223 309.25h0.8M221 322h0.8M227.25 316.25h0.8M223.75 323h0.8M226 312.75h0.8M227.25 309h0.8M231 313h0.8M225.25 316.5h0.8M224.5 317.75h0.8M225.25 313h0.8M225.75 316.25h0.8M222 321h0.8M229.25 317.25h0.8M225.5 313h0.8M226.25 317h0.8M223.5 320.5h0.8M225.25 320.5h0.8M226 310h0.8M229 313.5h0.8M221 320.25h0.8M227 317.25h0.8M226 320h0.8M227.5 311h0.8M225 317h0.8M227.5 314.5h0.8M220 320.5h0.8M224 323.5h0.8M227 311.5h0.8M224.25 311.25h0.8M226.25 316.25h0.8M221.25 322.25h0.8M224.25 321.75h0.8" stroke="#000" stroke-width="0.8" stroke-opacity="0.42" fill="none"/>
<path d="M238 307.5h0.8M230.5 314h0.8M239.75 306.5h0.8M234.25 305.25h0.8M248 307h0.8M252.5 307.5h0.8M231.5 308h0.8M237.75 312.75h0.8M257.75 318.25h0.8M244 302.5h0.8M250.75 318.25h0.8M227.25 308.25h0.8M242 319.75h0.8M246.5 310h0.8M221 314.25h0.8M229 306.5h0.8M227.5 312h0.8M254.5 310.5h0.8M246 305.75h0.8M229.25 310.75h0.8M225.5 305h0.8M239.5 304.25h0.8M242.5 320.25h0.8M245.5 316h0.8M232.25 308.25h0.8M238.5 311.75h0.8M229.75 305.75h0.8M246.75 312.25h0.8M252.75 317.25h0.8M242 306h0.8" stroke="#000" stroke-width="0.8" stroke-opacity="0.3" fill="none"/>
</g>
<rect x="212.4" y="270.9" width="69.8" height="63.3" fill="none" stroke="#262626" stroke-width="1.1"/>
<line x1="235.3" y1="270.9" x2="235.3" y2="334.2" stroke="#262626" stroke-width="1"/>
<line x1="212.4" y1="306.2" x2="282.2" y2="306.2" stroke="#262626" stroke-width="1"/>
<text class="tk" transform="translate(210.2 272.9) scale(0.36 0.5)" font-size="8" text-anchor="end">10<tspan dy="-3.5" font-size="6.5">4</tspan></text>
<text class="tk" transform="translate(213 339.6) scale(0.4 0.38)" font-size="8" text-anchor="middle">10<tspan dy="-3.5" font-size="6.5">0</tspan></text>
<text class="tk" transform="translate(210.2 288.72) scale(0.36 0.5)" font-size="8" text-anchor="end">10<tspan dy="-3.5" font-size="6.5">3</tspan></text>
<text class="tk" transform="translate(230.45 339.6) scale(0.4 0.38)" font-size="8" text-anchor="middle">10<tspan dy="-3.5" font-size="6.5">1</tspan></text>
<text class="tk" transform="translate(210.2 304.55) scale(0.36 0.5)" font-size="8" text-anchor="end">10<tspan dy="-3.5" font-size="6.5">2</tspan></text>
<text class="tk" transform="translate(247.9 339.6) scale(0.4 0.38)" font-size="8" text-anchor="middle">10<tspan dy="-3.5" font-size="6.5">2</tspan></text>
<text class="tk" transform="translate(210.2 320.38) scale(0.36 0.5)" font-size="8" text-anchor="end">10<tspan dy="-3.5" font-size="6.5">1</tspan></text>
<text class="tk" transform="translate(265.35 339.6) scale(0.4 0.38)" font-size="8" text-anchor="middle">10<tspan dy="-3.5" font-size="6.5">3</tspan></text>
<text class="tk" transform="translate(210.2 336.2) scale(0.36 0.5)" font-size="8" text-anchor="end">10<tspan dy="-3.5" font-size="6.5">0</tspan></text>
<text class="tk" transform="translate(282.8 339.6) scale(0.4 0.38)" font-size="8" text-anchor="middle">10<tspan dy="-3.5" font-size="6.5">4</tspan></text>
<text x="279.2" y="303.4" font-size="14" text-anchor="end" font-weight="normal" fill="#1c1c1c" textLength="15.2" lengthAdjust="spacingAndGlyphs">90</text>
<clipPath id="cp6"><rect x="212.4" y="345.2" width="69.8" height="63.3"/></clipPath>
<g clip-path="url(#cp6)">
<ellipse cx="0" cy="0" rx="13.5" ry="8.6" transform="translate(254.9 358.7) rotate(-48)" fill="#000" fill-opacity="0.22" filter="url(#b2)"/>
<ellipse cx="0" cy="0" rx="5.5" ry="4" transform="translate(247.4 370.2) rotate(-40)" fill="#000" fill-opacity="0.13" filter="url(#b2)"/>
<ellipse cx="0" cy="0" rx="4.5" ry="5.5" transform="translate(228 389.2) rotate(0)" fill="#000" fill-opacity="0.12" filter="url(#b2)"/>
<ellipse cx="0" cy="0" rx="9.2" ry="6.2" transform="translate(256.8 356.4) rotate(-48)" fill="#000" fill-opacity="0.8" filter="url(#b1)"/>
<ellipse cx="0" cy="0" rx="5" ry="4.4" transform="translate(252.6 362.2) rotate(-48)" fill="#000" fill-opacity="0.72" filter="url(#b1)"/>
<path d="M252 356.75h0.85M263.25 355.25h0.85M261.25 349h0.85M260.25 349.75h0.85M255.75 354.75h0.85M259.25 355h0.85M251.25 350.5h0.85M261.5 357h0.85M257.25 349.25h0.85M253 368.25h0.85M256 355.25h0.85M251 359h0.85M250.75 359.25h0.85M253.75 350h0.85M267 352.5h0.85M251 364.25h0.85M260.25 358h0.85M248.75 372.75h0.85M261 348.75h0.85M258 360.5h0.85M263.25 359.5h0.85M248.75 358.25h0.85M256.5 357.5h0.85M256.75 360h0.85M256 360.75h0.85M257.25 365.5h0.85M260.75 353.25h0.85M253 359h0.85M249.5 356.75h0.85M256.5 363.5h0.85M258.5 360.5h0.85M256.25 354.5h0.85M251.5 360.5h0.85M255 354.25h0.85M251.25 356.5h0.85M258 346.5h0.85M255.5 351.25h0.85M260.5 362.75h0.85M255.25 360.75h0.85M257.75 365.75h0.85M266 354.75h0.85M249.5 355.5h0.85M247.75 357.75h0.85M262 352.25h0.85M253.75 355.25h0.85M257.75 354h0.85M255.5 359.25h0.85M248.75 357h0.85M266 356.5h0.85M251 366h0.85M249.25 361.25h0.85M258 360.5h0.85M254.5 367.5h0.85M261.5 360.75h0.85M247.25 354.5h0.85M256.75 350.5h0.85M267.25 346.75h0.85M257.75 349.25h0.85M257 357.5h0.85M245.75 360.75h0.85M259 357h0.85M260.5 363.75h0.85M251 356h0.85M251 360h0.85M250.25 365.75h0.85M265.5 354.5h0.85M251 364.5h0.85M257.5 353.25h0.85M265.5 350.75h0.85M262 351.25h0.85M261.5 355.75h0.85M248 356.25h0.85M254 353.75h0.85M257.25 349.75h0.85M255 351h0.85M265 348.5h0.85M252 361.75h0.85M250 349.5h0.85M253.25 362.25h0.85M252.25 359.25h0.85M265.75 353.5h0.85M258.75 357h0.85M264 350.5h0.85M251.5 363.5h0.85M249.5 359.75h0.85M256.75 356.25h0.85M258.5 359h0.85M256.5 358.25h0.85M258 352h0.85M254.75 356.75h0.85M249.75 359.25h0.85M258.75 354.75h0.85M253 364.75h0.85M262.25 355.75h0.85M261.75 351.5h0.85M258.5 353.5h0.85M252.5 360.75h0.85M259.25 355.25h0.85M252.25 357.5h0.85M253.25 358h0.85M257 359.25h0.85M250 351.5h0.85M258.25 352.25h0.85M269.5 352.75h0.85M260 351.75h0.85M252.25 353.25h0.85M261 349h0.85M261.75 353.25h0.85M264.5 349h0.85M255.5 355h0.85M251.5 364.75h0.85M256.75 362h0.85M262.25 352h0.85M266.75 347.75h0.85M257.75 351h0.85M259.25 353.25h0.85M262.25 350h0.85M251 368.25h0.85M257.75 348.5h0.85M257.75 357.5h0.85M257.25 350.75h0.85M252.25 358.75h0.85M253.25 357h0.85M253.5 352h0.85M255.5 352.25h0.85M252.75 357h0.85M260.25 353.5h0.85M255.75 359.75h0.85M253.5 361.5h0.85M257.5 355.75h0.85M252.75 363h0.85M260 355h0.85M257.75 361h0.85M267.25 351.75h0.85M262.75 359.5h0.85M249 355.25h0.85M251.5 358.5h0.85M254 358.75h0.85M257 354.25h0.85M252 360h0.85M255.75 352h0.85M250 361.5h0.85M264.75 366.5h0.85M256 353.75h0.85M253.75 356.25h0.85M265.75 359h0.85M256.75 353h0.85M265 362.5h0.85M251.5 358.75h0.85M253.5 357.5h0.85M244.75 363.75h0.85M257.75 359.75h0.85M249.75 358h0.85M251.75 354.5h0.85M249.5 364.75h0.85M256.75 354h0.85M259.75 356h0.85M259 352.5h0.85M257 352.75h0.85M260 357.75h0.85M264.5 350.25h0.85M253.25 357h0.85M254.5 363.5h0.85M259.25 349.25h0.85M254.5 358h0.85M247.5 359.75h0.85M256.75 352.5h0.85M260 355h0.85M260.25 348.75h0.85M261 349.25h0.85M260.5 359.75h0.85M251.5 355.75h0.85M258.5 352.75h0.85M254.5 366.5h0.85M256.25 361.5h0.85M254.25 354.75h0.85M253.25 352.5h0.85M258.25 349.25h0.85M263.75 362.5h0.85M255.75 357.5h0.85M256 366h0.85M258.25 356h0.85M250 361.5h0.85M255 356h0.85M248 353.75h0.85M258.75 366.5h0.85M260.5 357h0.85M255.75 365h0.85M253.75 357.75h0.85M257 355.5h0.85M256.25 351h0.85M253.75 353h0.85M265.5 353.75h0.85M255.5 357h0.85M257.5 358.25h0.85M260.25 355.25h0.85M260.5 354h0.85M255.25 361.75h0.85M251.5 356.25h0.85M257.5 354.5h0.85M249 369.5h0.85M258 357.5h0.85M251.25 361.25h0.85M254.25 359h0.85M258.25 349.25h0.85M254.25 357h0.85M253.5 351h0.85M257.5 352.25h0.85M265.5 353.5h0.85M253.75 356.25h0.85M253 356.5h0.85M266 357.25h0.85M249.5 359.75h0.85M257.75 356.5h0.85M254.75 351.5h0.85M258.75 352.25h0.85M258.5 353.25h0.85M254 364.75h0.85M254.25 356h0.85M250.25 361.25h0.85M264.75 354.5h0.85M257.75 352h0.85M258 356.5h0.85M253.5 358h0.85M254.75 353h0.85M252.5 354.75h0.85M252.75 357.75h0.85M259.75 356.25h0.85M254.25 359.75h0.85M252 353.25h0.85M262.75 352.5h0.85M259.5 355.25h0.85M253.75 366.5h0.85M255.25 357.25h0.85M251.25 363h0.85M246 359.5h0.85M269.5 350.5h0.85M263.25 349.5h0.85M260.5 364.25h0.85M262.5 355h0.85M251.75 360.25h0.85M259 353.5h0.85M249.75 365.25h0.85M255.75 356h0.85M256.5 353.75h0.85M257 346.25h0.85M255.5 361h0.85M265 356.5h0.85M257.25 349h0.85M259 351.75h0.85M265 353h0.85M252.5 359.5h0.85M254 352.5h0.85M249.75 362h0.85M263.5 357h0.85M259 355h0.85M259 361.75h0.85M253 363.75h0.85M264.75 355.5h0.85M250.75 357.5h0.85M257.5 360h0.85M258.5 354.5h0.85M260.25 352.5h0.85M261 361.5h0.85M256.25 358.75h0.85M255.5 360.75h0.85M256.5 360.75h0.85M255.75 357.25h0.85M267.5 348.25h0.85M259.25 351.5h0.85M257.75 359.75h0.85M261.25 353.75h0.85M260.25 359h0.85M262.5 356.75h0.85M254.75 361.75h0.85M249.25 355.75h0.85M265.5 350.75h0.85M260.75 348.25h0.85M254.5 355h0.85M260 349.75h0.85M253.5 358h0.85M253 356.75h0.85M249.5 356.75h0.85M258.75 349.25h0.85M263.75 357h0.85M263.5 359.5h0.85M261.75 365.25h0.85M256 349h0.85M258 352.75h0.85M258.75 346.75h0.85M256.25 348.5h0.85M254 349.75h0.85M248.5 368h0.85M255.5 364.75h0.85M255.25 354.25h0.85M266.25 356.75h0.85M253.25 356.5h0.85M253.75 353.25h0.85M252.25 355.5h0.85M259.5 347h0.85M265 353.5h0.85M255.25 357.5h0.85M257.5 364.5h0.85M255.25 359.25h0.85M255 358.5h0.85M260.5 355h0.85" stroke="#000" stroke-width="0.85" stroke-opacity="0.6" fill="none"/>
<path d="M255 359.75h0.85M250.5 358h0.85M248 359.75h0.85M254.5 360.25h0.85M248.5 364h0.85M256.25 364h0.85M252.25 364.25h0.85M254.75 369.5h0.85M251.75 366.5h0.85M250.75 361h0.85M259.25 363h0.85M254.75 360h0.85M253.5 358.75h0.85M249.5 361h0.85M251 362.75h0.85M251.5 360.5h0.85M246.25 358.5h0.85M257.75 360.25h0.85M254 361.25h0.85M247.25 362.75h0.85M250.75 362.25h0.85M252.25 360.25h0.85M249 369h0.85M252.25 364.25h0.85M253.75 364h0.85M253 359.75h0.85M253.25 361.75h0.85M250 359.75h0.85M251.25 363.75h0.85M247.75 359.25h0.85M254.25 360.5h0.85M250 361.25h0.85M251 364h0.85M257.75 361.25h0.85M252.75 362.25h0.85M254.5 363.25h0.85M256.5 361.25h0.85M254.5 364.25h0.85M246.25 364.75h0.85M255 362.75h0.85M252.75 365.75h0.85M251.75 362.5h0.85M251.5 361.5h0.85M253.75 359h0.85M252.5 365.25h0.85M250 364.75h0.85M250.5 363.75h0.85M248.5 365h0.85M249.5 366.5h0.85M250.75 360h0.85M247.75 364h0.85M253.5 367h0.85M252.5 359.25h0.85M254.75 361h0.85M246.75 362h0.85M248.25 361.5h0.85M249.75 363h0.85M249.5 358h0.85M255.5 356.75h0.85M248.75 363h0.85M252.75 366.5h0.85M245.5 359.75h0.85M252 365h0.85M250 364.75h0.85M257 360.75h0.85M251.5 366.25h0.85M251.75 361.5h0.85M255 356.25h0.85M253 359.75h0.85M248 361.25h0.85M254 361.5h0.85M254.25 356.75h0.85M254.25 358.25h0.85M250.25 365.75h0.85M253.75 359.75h0.85M258.5 362.5h0.85M256.25 359h0.85M254.25 367.25h0.85M252.25 360.75h0.85M251.25 365.75h0.85M257.5 359h0.85M251 364.75h0.85M252.5 364h0.85M252.75 355h0.85M252.25 360.75h0.85M252.5 361h0.85M253.25 367h0.85M251 362.25h0.85M256.25 361h0.85M253.25 358.5h0.85M253.25 364.25h0.85M249 361.75h0.85M249.25 363.25h0.85M248.25 364.5h0.85M253.25 365h0.85M249.75 364.25h0.85M249.75 361.75h0.85M250 364.75h0.85M253.75 360.75h0.85M251.75 367.5h0.85M252.5 361.75h0.85M248.75 364.75h0.85M256.75 358.5h0.85M256.5 366h0.85M254.5 359h0.85M248.5 362.5h0.85M250.75 361.5h0.85M252 359.25h0.85" stroke="#000" stroke-width="0.85" stroke-opacity="0.6" fill="none"/>
<path d="M255.5 348.5h0.8M251 371.5h0.8M250.75 364.75h0.8M258.5 355.5h0.8M263.5 354h0.8M255 358.25h0.8M262 350.75h0.8M262.5 355.75h0.8M254 363.75h0.8M252 346.5h0.8M252 358.5h0.8M258.25 356h0.8M243.75 361.75h0.8M252 356.75h0.8M254.25 360.25h0.8M260.25 363.25h0.8M258 357.75h0.8M256 367.5h0.8M261.5 352.5h0.8M255.75 360.75h0.8M264.5 355.25h0.8M255 364.75h0.8M252.5 356h0.8M256.25 362.75h0.8M263.25 347h0.8M253 361.75h0.8M248 356.5h0.8M257.75 348.25h0.8M253.5 360.5h0.8M256.75 362.25h0.8M244.75 360h0.8M256 356.5h0.8M252 367.25h0.8M250.25 351.5h0.8M258.25 358.75h0.8M256 352h0.8M253.75 359.25h0.8M254.75 353h0.8M253.25 357.75h0.8M251.5 356.5h0.8M260.5 359.5h0.8M261.5 350.5h0.8M257 356.5h0.8M253 352.75h0.8M251.75 372.75h0.8M260.75 354.25h0.8M257.75 347.5h0.8M263.5 364.25h0.8M254.25 357h0.8M268.25 350h0.8M253.25 364.5h0.8M249.5 354.5h0.8M256 364h0.8M250.25 375.25h0.8M262 357.25h0.8M247.5 371.25h0.8M245 358.25h0.8M252.25 363.75h0.8M264.75 367.25h0.8M266.5 356.75h0.8M259.75 355.25h0.8M265.25 366.5h0.8M249.25 356.5h0.8M257.5 355.5h0.8M250.75 353.75h0.8M250.75 362.25h0.8M254.25 361.75h0.8M263.75 351.5h0.8M256 354.75h0.8M249.25 367.25h0.8M252.75 356h0.8M254 365.25h0.8M257.75 354.75h0.8M253.5 348.75h0.8M259.75 363.5h0.8M254.5 361.25h0.8M255.25 361h0.8M244.75 359.25h0.8M261.5 355h0.8M256.5 349.75h0.8M255.75 356.5h0.8M239.25 365.75h0.8M263.75 361.25h0.8M258.75 366.75h0.8M252 366.25h0.8M249.25 356.5h0.8M257 351.25h0.8M260.75 358.75h0.8M249.25 360h0.8M254.25 358.75h0.8M266.5 350.25h0.8M252.5 362.5h0.8M253.75 359.25h0.8M262 354.75h0.8M256.5 362.75h0.8M262.25 354.75h0.8M257.75 366.75h0.8M259.75 347.25h0.8M262.5 356h0.8M260.5 357.75h0.8M253.25 358.75h0.8M256.5 373.5h0.8M259.25 354.5h0.8M265 357.75h0.8M257.75 359.25h0.8M259 347.5h0.8M249.75 368.25h0.8M261.75 348.5h0.8M255.75 354.5h0.8M254.75 358h0.8M247.25 357.5h0.8M264.5 363.5h0.8M234.25 360.5h0.8M258 354.5h0.8M255 359h0.8M254 357.25h0.8M253.5 361h0.8M250.75 360h0.8M261.25 357h0.8M264.5 356.5h0.8M263.75 362.75h0.8M258.75 356.25h0.8M248.5 374h0.8M257 355.5h0.8M246 366.25h0.8M249.75 363.75h0.8M256.25 356.5h0.8M253.75 358.75h0.8M255 352h0.8M257.75 364h0.8M249.75 364h0.8M254.75 369.75h0.8M259.75 359h0.8M258.75 362.5h0.8M250.75 367.5h0.8M248.75 374.75h0.8M250.5 360.25h0.8M262 350.75h0.8M256.25 353.5h0.8M256.75 364h0.8M249.75 360.25h0.8M257 354h0.8M246.75 366.25h0.8M261 346.5h0.8M250.75 369.75h0.8M250.5 359.25h0.8M266.5 347h0.8M251.75 366.75h0.8M263.25 370h0.8M256 355h0.8M252.25 360.75h0.8M254.25 365h0.8M257.25 360.25h0.8M259 362h0.8M260.75 353.25h0.8M255.75 365.25h0.8M249.5 360h0.8M254.75 360.25h0.8M251.5 360.5h0.8M260.5 361h0.8M248.25 359.25h0.8M247.5 365h0.8M258.25 359.25h0.8M248.25 356.75h0.8M252.5 368.75h0.8M261.5 357.25h0.8M260.25 353.25h0.8M248.75 357.5h0.8M254.5 357.25h0.8M247.25 362.75h0.8M250.5 367.5h0.8M260.75 362.25h0.8M254.75 357.25h0.8M260 355.25h0.8M244.25 370.25h0.8M243 361.75h0.8M254 368.25h0.8M262.5 347.25h0.8M261 358h0.8M264 363h0.8M252.25 357.5h0.8M245 363h0.8M247.5 352.25h0.8M254 346.75h0.8M246 364.25h0.8M251.25 359.75h0.8M260 366.25h0.8M255.5 363.25h0.8M256 369.25h0.8M255 360.25h0.8M245.75 362.25h0.8M250 353.75h0.8M258.25 356.75h0.8M240.5 376.25h0.8M256.5 350.25h0.8M263 362h0.8M254.25 358.5h0.8M264.5 350.75h0.8M258.75 347.25h0.8M256.25 361h0.8M261.5 358.25h0.8M258.5 352.25h0.8M252.25 359.25h0.8M262 357h0.8M253.25 364h0.8M251.25 358.25h0.8M259.25 361h0.8M250 357.5h0.8M273.75 356h0.8M249.5 361.75h0.8M255.25 358.75h0.8M253 359.5h0.8M251.5 351.75h0.8M257 367.25h0.8M257.5 364h0.8M251.5 358.5h0.8M250.5 366.75h0.8M245.75 347.25h0.8M257.5 366.5h0.8M262.25 355.25h0.8M251.75 364.5h0.8M250.5 362.75h0.8M263.25 358h0.8M250.75 371.25h0.8M259 361.5h0.8M258.25 361.75h0.8M258.25 360.25h0.8M274.5 346.25h0.8M251.5 356.75h0.8M253.5 352.75h0.8M246.25 364h0.8M254.5 356h0.8M252.5 354h0.8M261.25 353.25h0.8M251 356.25h0.8M253 358h0.8M248.75 355h0.8M258.75 355h0.8M267.5 352.25h0.8M245.5 363.5h0.8M258.75 356.75h0.8M255.5 357.25h0.8M263 359h0.8M248.75 365.25h0.8M244.25 360.5h0.8M254 366.75h0.8M268.25 355.5h0.8M255.5 356h0.8M256.5 360.25h0.8M252.5 360.75h0.8M249.25 361.75h0.8M256 358h0.8M262.25 359.75h0.8M261.25 356.5h0.8M255 365.75h0.8M237.25 364.25h0.8M264.25 354.5h0.8M255 357.5h0.8M260.75 348.75h0.8M257.75 353.75h0.8M264 358.25h0.8M263 358h0.8M256 361.5h0.8M266 361h0.8M257.75 358.25h0.8M253.75 363h0.8M246 366.75h0.8M259.75 348.75h0.8M256.5 362.5h0.8M252.5 363.75h0.8M248.75 363h0.8M256.5 347.5h0.8M239.5 363.75h0.8M256.5 353.25h0.8M248.75 349.25h0.8M269.25 348.25h0.8M251.5 358.75h0.8M247.25 351.75h0.8M240 365.75h0.8M248 357.5h0.8M254 351.25h0.8M251.25 357.5h0.8M257.75 358.75h0.8M253.75 369.5h0.8M244.75 358.5h0.8M257.5 362.25h0.8M255.75 355.25h0.8M258.5 346.25h0.8M257 368.75h0.8M259.75 350h0.8M253.5 356.25h0.8M256.25 356.5h0.8M245 360.25h0.8M252 356.5h0.8M251 360h0.8M260.75 364.75h0.8M254.5 354.5h0.8M252.75 352h0.8M251 364.5h0.8M247 360.25h0.8M269.25 355.5h0.8M255.75 349.5h0.8M243.25 365.25h0.8M245.5 362.75h0.8M254 362h0.8M247.75 354.75h0.8M266 353.25h0.8M253.75 353.75h0.8M255.5 360.25h0.8M243.75 371.25h0.8M254 352h0.8M259.25 349.75h0.8M261 358.25h0.8M253.75 350.75h0.8M259 358.75h0.8M248.5 357.75h0.8M258.25 360.25h0.8M267.75 355h0.8M250.75 350h0.8M253.5 357.5h0.8M265 353h0.8M243.5 361h0.8M252 354h0.8M239.75 362.75h0.8M263.5 352.25h0.8M248.5 364.25h0.8M249.25 358.75h0.8M265.25 356.75h0.8M259.25 351h0.8M256.25 346.5h0.8M243 366.75h0.8M255.5 364h0.8M249.75 365h0.8M258 358h0.8M250.75 360h0.8M250 363h0.8M253 364.5h0.8M256 356.5h0.8M256.25 358h0.8M263.5 357.5h0.8M250.25 373.25h0.8M260.25 359.25h0.8M259 350.75h0.8M254.25 366.5h0.8M262.5 346.5h0.8M250 371h0.8M259.25 352.75h0.8M256 371h0.8M254.25 361h0.8M257.5 366.75h0.8M261.5 360.75h0.8M262 355.75h0.8M253 358.5h0.8M250.75 361h0.8M250.25 368.25h0.8M261 352.5h0.8M238.25 371h0.8M243.5 368.75h0.8M252 361.25h0.8M256.5 360.25h0.8M261.75 354.5h0.8M247.75 355.25h0.8M253.25 355.75h0.8M256.75 358h0.8M251 363h0.8M248.75 353h0.8M256 362.75h0.8M245 369.5h0.8M257.5 347.75h0.8M248 355.5h0.8M264 350.5h0.8M256.25 357.25h0.8M258.75 360.75h0.8M250.25 352.25h0.8M267.75 364.5h0.8M262 352h0.8M254.75 355.75h0.8M250.25 359.25h0.8M253.75 359.5h0.8M250 354.25h0.8M253.5 362.25h0.8M261.25 357h0.8M254.25 364.25h0.8M259.5 362h0.8M257.5 366.25h0.8M255 359.75h0.8M256 358.25h0.8M252.75 365.75h0.8M257.5 364.75h0.8M250.5 355.5h0.8M241.25 365.25h0.8M259.25 354h0.8M263.25 355.25h0.8M253.75 351h0.8M252 354.25h0.8M260.25 348.5h0.8M255 355h0.8M262.75 361.25h0.8M262.5 361.75h0.8M239 370h0.8M250 366h0.8M255.75 370.75h0.8M257.75 359h0.8M255.75 361.75h0.8M254 363h0.8M249.5 367.5h0.8" stroke="#000" stroke-width="0.8" stroke-opacity="0.5" fill="none"/>
<path d="M244 375.5h0.8M246.25 377h0.8M246 373.75h0.8M244.75 375.25h0.8M231 367h0.8M246.75 375.75h0.8M254.5 372.25h0.8M245.25 366h0.8M248.75 371.75h0.8M246 373.5h0.8M248 365.5h0.8M251.5 362h0.8M245.5 371.25h0.8M244.5 367.75h0.8M252.75 365.5h0.8M243 368.75h0.8M249.75 369.25h0.8M245.75 373h0.8M254.75 364h0.8M243.5 376.5h0.8M253.25 364.75h0.8M246.25 374.25h0.8M248.75 374h0.8M249.5 369.75h0.8M248 374h0.8M246.75 368h0.8M247.5 367.25h0.8M252.75 366.5h0.8M248.75 372.75h0.8M244 371h0.8M254.5 372.25h0.8M245 362.25h0.8M249.75 373.5h0.8M245 373.25h0.8M249.25 374.5h0.8M253 369.75h0.8M243.25 383.25h0.8M247.25 371h0.8M241 372.25h0.8M249.25 363.75h0.8M250.25 372.25h0.8M250.5 376h0.8M242.75 372.5h0.8M245.25 363.75h0.8M246.5 372.75h0.8M251 371.75h0.8M247.75 373.25h0.8M253 367.25h0.8M243.75 375.25h0.8M254.75 361h0.8M246.25 374.25h0.8M244.5 368.25h0.8M251.5 373.75h0.8M251.5 372.75h0.8M245.25 367.75h0.8M251.5 367h0.8M254.25 369.25h0.8M249.5 369.5h0.8M240 363.75h0.8M245.75 370h0.8M248.25 373.75h0.8M243.75 368.75h0.8M247.5 364.5h0.8M251.75 368.5h0.8M254.75 372.25h0.8M254.5 367.5h0.8M252.75 376.75h0.8M248.75 370.25h0.8M245 369.5h0.8M255.75 370.25h0.8" stroke="#000" stroke-width="0.8" stroke-opacity="0.38" fill="none"/>
<path d="M231.75 382.5h0.8M230.5 382.25h0.8M222.25 395.75h0.8M228.75 398.25h0.8M233.75 382.25h0.8M222 397h0.8M224.5 387.75h0.8M229.75 394.5h0.8M230.5 383.25h0.8M228 389.25h0.8M233 386.5h0.8M232.25 394.5h0.8M227.75 388h0.8M232.5 397h0.8M223.75 380.5h0.8M227.5 391.75h0.8M226.75 381.75h0.8M225.25 392.25h0.8M224 394h0.8M228.75 388.5h0.8M220.5 379.75h0.8M227.75 391h0.8M230.5 396.25h0.8M228 388.5h0.8M229.5 395.75h0.8M226.75 395.75h0.8M231.75 374.25h0.8M230 397.25h0.8M228.25 395h0.8M228 391.25h0.8M227 389.75h0.8M222.75 383.75h0.8M224.5 394.25h0.8M231.5 390.75h0.8M230.5 384.25h0.8M226 392h0.8M224.25 381h0.8M220.5 396h0.8M227.5 389.25h0.8M229 396h0.8M223 384.75h0.8M226.25 399h0.8M222.75 382.75h0.8M227.75 386.25h0.8M232 390h0.8M227.5 396h0.8M221.25 382.5h0.8M231.75 382.25h0.8M226 387h0.8M234.5 390.5h0.8M229.25 393.75h0.8M224.5 394h0.8M229.25 378h0.8M224 383.5h0.8M230.25 391h0.8M232.75 392.5h0.8M221.75 380.75h0.8M224.25 389h0.8M221 383h0.8M228.25 383.5h0.8M227.75 389.5h0.8M221.5 392h0.8M231.5 388h0.8M228.75 389.75h0.8M229.5 381h0.8M227.5 384.75h0.8M225.75 382.25h0.8M226.5 383h0.8M233.25 385.5h0.8M224 392.25h0.8M232.25 387.25h0.8M229.5 388.75h0.8M227 389.75h0.8M230.25 390h0.8M227.75 387h0.8M232.5 395h0.8M224.5 389.75h0.8M231 388.25h0.8M228 397.5h0.8M229 383.75h0.8M226 385.25h0.8M227 390h0.8M228.75 387.5h0.8M223 385.25h0.8M230.25 389h0.8M227.5 388h0.8M233.75 388.25h0.8M229.5 387h0.8M230.5 384.25h0.8M229.25 391.75h0.8M226.75 387.75h0.8M229.75 399.25h0.8M233 388.75h0.8M233.5 383.75h0.8M228.5 394.75h0.8" stroke="#000" stroke-width="0.8" stroke-opacity="0.36" fill="none"/>
<path d="M244 388h0.8M255.75 383.75h0.8M255 373.5h0.8M245.75 387h0.8M240 380.25h0.8M244.5 385.75h0.8M246.5 385.5h0.8M218.5 383.25h0.8M251.25 387.25h0.8M254 390.25h0.8M265 384.75h0.8M246.5 379.25h0.8M246 391.25h0.8M262.75 387.75h0.8M239.5 389h0.8M236.75 378.25h0.8M261.5 382.25h0.8M260 381.25h0.8M249 379.5h0.8M255 392.75h0.8M247 383.5h0.8M236.5 378h0.8M258.25 382.5h0.8M237.25 389.25h0.8M244.5 386.75h0.8M236.25 387.25h0.8M231 385.75h0.8M245.75 388.5h0.8M236.75 385.75h0.8M230.25 378h0.8M257 383.25h0.8M245.5 387h0.8M246.25 389h0.8M237 388.5h0.8M259.75 379.75h0.8M238.25 381.5h0.8M262.75 377.75h0.8M243.25 378.5h0.8M248.75 388.75h0.8M256.75 380.25h0.8M238.25 392h0.8M248.25 386.25h0.8M227.75 383.25h0.8" stroke="#000" stroke-width="0.8" stroke-opacity="0.3" fill="none"/>
</g>
<rect x="212.4" y="345.2" width="69.8" height="63.3" fill="none" stroke="#262626" stroke-width="1.1"/>
<line x1="235.3" y1="345.2" x2="235.3" y2="408.5" stroke="#262626" stroke-width="1"/>
<line x1="212.4" y1="380.5" x2="282.2" y2="380.5" stroke="#262626" stroke-width="1"/>
<text class="tk" transform="translate(210.2 347.2) scale(0.36 0.5)" font-size="8" text-anchor="end">10<tspan dy="-3.5" font-size="6.5">4</tspan></text>
<text class="tk" transform="translate(213 413.9) scale(0.4 0.38)" font-size="8" text-anchor="middle">10<tspan dy="-3.5" font-size="6.5">0</tspan></text>
<text class="tk" transform="translate(210.2 363.02) scale(0.36 0.5)" font-size="8" text-anchor="end">10<tspan dy="-3.5" font-size="6.5">3</tspan></text>
<text class="tk" transform="translate(230.45 413.9) scale(0.4 0.38)" font-size="8" text-anchor="middle">10<tspan dy="-3.5" font-size="6.5">1</tspan></text>
<text class="tk" transform="translate(210.2 378.85) scale(0.36 0.5)" font-size="8" text-anchor="end">10<tspan dy="-3.5" font-size="6.5">2</tspan></text>
<text class="tk" transform="translate(247.9 413.9) scale(0.4 0.38)" font-size="8" text-anchor="middle">10<tspan dy="-3.5" font-size="6.5">2</tspan></text>
<text class="tk" transform="translate(210.2 394.68) scale(0.36 0.5)" font-size="8" text-anchor="end">10<tspan dy="-3.5" font-size="6.5">1</tspan></text>
<text class="tk" transform="translate(265.35 413.9) scale(0.4 0.38)" font-size="8" text-anchor="middle">10<tspan dy="-3.5" font-size="6.5">3</tspan></text>
<text class="tk" transform="translate(210.2 410.5) scale(0.36 0.5)" font-size="8" text-anchor="end">10<tspan dy="-3.5" font-size="6.5">0</tspan></text>
<text class="tk" transform="translate(282.8 413.9) scale(0.4 0.38)" font-size="8" text-anchor="middle">10<tspan dy="-3.5" font-size="6.5">4</tspan></text>
<text x="279.2" y="377.7" font-size="14" text-anchor="end" font-weight="normal" fill="#1c1c1c" textLength="15.2" lengthAdjust="spacingAndGlyphs">96</text>
</svg>
</body>
</html>
